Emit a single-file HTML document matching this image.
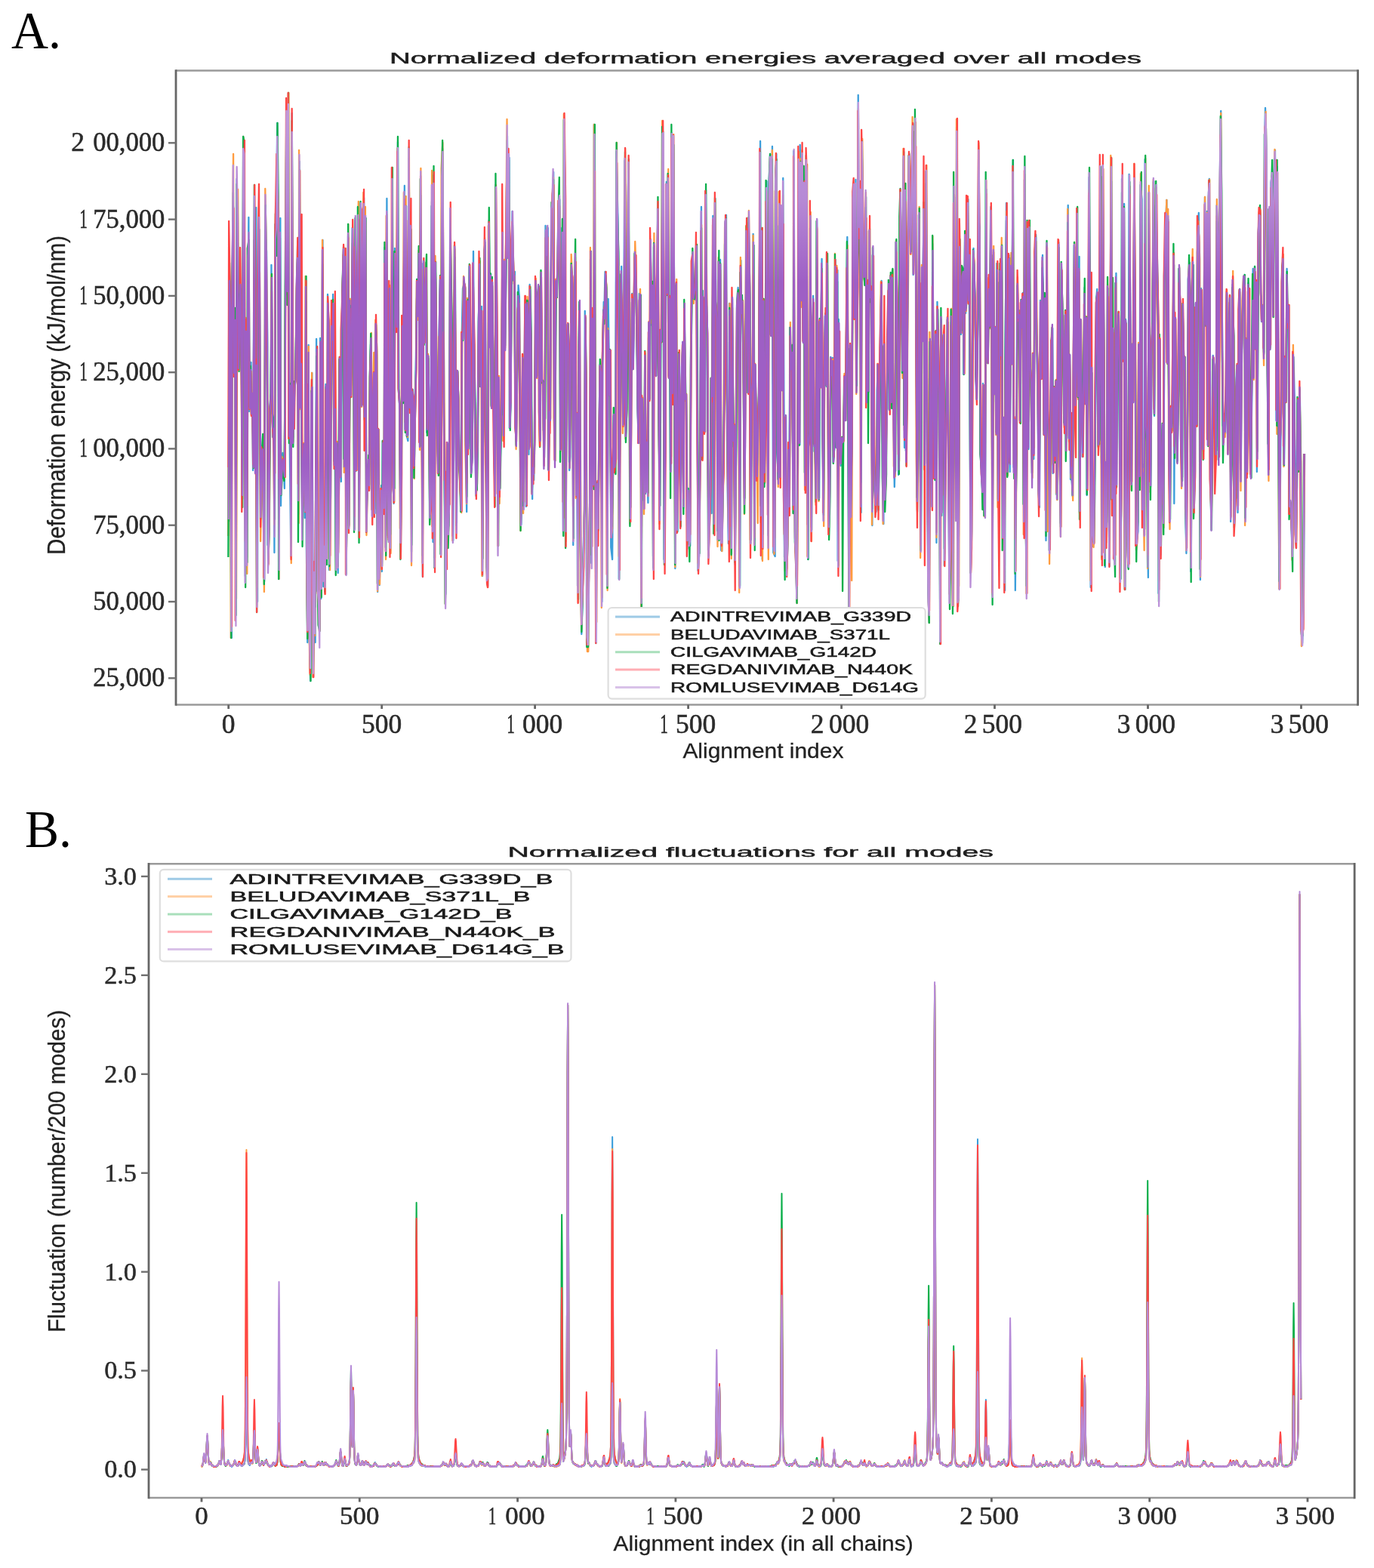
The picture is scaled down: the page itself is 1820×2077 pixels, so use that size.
<!DOCTYPE html>
<html><head><meta charset="utf-8"><title>Normalized deformation energies and fluctuations</title>
<style>html,body{margin:0;padding:0;background:#fff;} body{width:1820px;height:2077px;overflow:hidden;} svg{display:block;filter:blur(0.55px);}</style>
</head><body>
<svg width="1820" height="2077" viewBox="0 0 1820 2077">
<rect width="1820" height="2077" fill="#fff"/>
<text x="15" y="64.3" font-family="'Liberation Serif', 'Times New Roman', serif" font-size="69.5" fill="#000" textLength="66" lengthAdjust="spacingAndGlyphs">A.</text>
<text x="33" y="1122" font-family="'Liberation Serif', 'Times New Roman', serif" font-size="69.5" fill="#000" textLength="62" lengthAdjust="spacingAndGlyphs">B.</text>
<g>
<path d="M1.2 691l2.5-319 1.1 30 5.4 443 .4-479 5.3-92 1.3 219 2.6-71 5.3 248 1.7-433 3.7 54 1.4 197 4.1-55 4.4-51 2.3 116 1 163 4.3-480 1.6 50 4.9 532 3.9-313 2.2 288 3.8-387 1.3-63 1.8 257 5.8-65 .9 66 2.7-24 2.8 101 3.8-305 4.9 301 1.6-344 4.5 522 1.1-377 3.1-104 2.8 84 3.6 269 4.1-74 2.5-4 1.2 74 4.2 105 2.1-466 4.8 29 3.2 122 .4 267 3.3-3 3.4-180 3.8-17 1.7-171 4.1 228 4-9 1.7 162 2.6-435 2.4 14 4.6-148 2.1 127 2.9 477 4.9-478 1.7 381 1.9-54 3.9-16 3.8 15 2.2 32 2.5-244 4.5-221 1.1 208 3.9-226 4.2 391 2.1 82 2.8 100 3.3-587 4 429 .6-26 4.6-42 2-9 4.7-125 2.3-51 3.3 355 3.1-467 2.6 327 1.8-62 4.1 203 2.2-10 3.9-84 2.6 98 4.1-287 1.4 331 3.3 121 3.4-394 2.1 364 4.1 81 2.5-369 2.8-39 4.1 402 2.7-140 3.8 95 1.7-229 1.9-173 3.4 334 3.9 3 3.5 50 1.5-388 3.1 345 5.2-475 2.2 459 1.5-46 4.6 40 1.6-262 3.3 226 3-345 2.5 34 2.6 331 4.8-102 2.5-218 2.9 16 2.1-61 5.6 230 1.1-77 3.4 211 4.1-165 2 170 4.1-136 1-150 5.2 165 2.9-200 1.6-58 3.8-52 1 291 3.1-271 4.1 413 3.1-129 3.2-320 2.4 385 4.7-301 2.7 127 .8-59 3.1-162 4 121 3.2 278 2.6-409 2.2 332 5.3-224 3.1-105 2.3 411 3.1-237 2-200 2.7 269 2.8-210 4.6-66 2.5 292 1.3-271 3.9 415 3.4-60 2.8-19 2.1 24 3.2-144 2.9-43 5.5 229 2.5-152 3.3-33 2.2 180 3.4-240 2.8 31 2.9 313 1.4-216 4.8 207 3.2-71 2.9-61 1.6 114 2.5-173 4.9 87 1.3-343 3.1 397 4.4-462 3.2 381 3.2 66 .8-311 4.5 331 3.6-186 .9-93 4.1 189 2.3 27 3.2-338 2.9 76 4.6 34 2.6-251 1.8 327 3.3 20 4.6 196 1.8-102 2.1-187 2.9 89 5.3-285 2.6 323 2.3-293 2.8 302 3.5 6 2.9-374 3.1 333 2.1-242 3.4 430 4.4-215 1.8 16 3.5 77 .9-65 3.3-55 4.4-118 1.4 49 3.7-84 3 249 4-326 3.1 256 3.1 249 1.4-415 3.5 103 3.5-56 2-48 2.7 225 5.7-98 1 45 3.4 168 2.5-28 3-387 4.9 445 2.6-486 1.2 507 4.5-378 1.8 108 3.1 104 2.9 51 3.9-187 4.1-70 1.8 368 3.4-507 1.9-31 5 313 1.3 127 4 150 1.9-77 4.5-122 3.1 109 1.3-25 4.5-383 2.2 94 3.8 74 3 259 2-133 4.2-242 2.9 176 2.5 176 1.1-202 5.3 39 .8 87 5.6 20 .3 30 3.8-228 2.8-57 4.6-7 3.1 5 1.5 205 3.7 93 3.8-280 2.1 193 2.9-238 1.7 138 4 135 3.6-21 3.6-272 1.6 130 2.4 77 4.6 117 1.6-22 3.3-52 3.4-157 3.8-66 3 152 3.1-106 2.9 357 1.5-169 4.3-263 3-10 2 247 4.8 206 1.7 2 3.9-484 3.7 167 2.5-96 .8 175 3.5-160 4.9 130 1.6 108 2.9 33 1.9-404 4.7 220 3.5 258 .8-222 3.9 145 4.6-69 1.1-49 3.5-216 2.4 262 4.2-227 1.4 117 3-127 4.9-157 2.8 160 3.8-131 .5 358 4-30 4.3-219 .8-38 5.1 92 3.4-12 2.2 204 1.8 20 2.3-94 5-112 3.3 15 2.9 118 3.4 184 2.7-46 3-173 .8 191 2.8-162 3.1-107 3.3 273 3.2-265 4 3 1.7 193 3-225 3.6 76 5 208 .1-34 4.8 9 2.6-47 4.3-211 2.7 121 .7-105 5.4-10 3.3 162 2.3 36 1.9-219 3.3 141 4 0 3.7 102 1.2-54 2.5-253 4.6 34 3.4-31 2.8 317 2.4-74 1.6-4 4.4-261 3.8-17 3.2-35 2.8 289 3.2 5 1.4-152 3.9 24 1.6-44 3-80 4.1-6 3.2 326 1.1-118 3.2-170 4.1 402 3.8-542 1 100 4 426 2-208 2.8-50 3.6 27 3.1 166 2.7-18 4.3-244 1.5 16 3.9 345 2-259 5.7-40 2.3 231 1.9-106 2.3 228 3.7-310 2.6-62 3.4 292 3.3 144 4.1-51 .6-47 5-69 1.3-261 3.9 105 1.9 335 4.5-31 2-42 5.2-139 .4-297 3.2 403 3.1-323 3.8 218 1.8-476 4.8 478 1.4 209 2.7-213 4.4 62 3.1-131 2.9-87 3.9 11 2.8 303 1.4-313 4.2-84 1.3 19 3.3-59 5.4 27 2.2 372 2.4-363 4.6 128 .7-59 3.7 260 4.5 16 2.1-114 2.1-76 3.7 68 2.6-12 2.3-406 5.2 85 1.8 58 1.5 423 4.2-242 4.2-172 1.2 77 3.4 123 1.9-29 3.8-311 3.7 369 3.8-44 1.3-216 4.1-106 1.8 218 5.1 238 1.1-96 3.3-187 4.1 100 2.2-60 3-96 3.7 33 3.2 42 2 133 4.6 46 .8-198 4.6 10 1.4 409 2.7-280 3.9 54 3.4 81 3.4-186 1 177 3.4-67 5 79 2.4-236 3.4 99 1.5-210 4.8 112 1-44 3.2 350 2.2-410 3.7 119 4.4 52 3.7-129 .7-93 3.8 265 2.5 147 2.5-250 4.8 14 1.9-281 2.6 28 2.9 542 3.7-136 4.2-364 2.4 140 3.6-140 .9 257 3.3-101 2.7 226 4-447 3.9 347 1.7-342 4.2 288 1.8 284 2.9-375 4.7 326 3.4-111 2.3-123 2.6 63 1.7 165 5.1-213 1.9-32 2.6 220 2.2-257 3.9 114 2.5-6 3.7 203 2.9-76 4.5 64 2.1 8 1.2-234 4.3-125 2.5-27 3.4 58 2.9 2 2.7-17 2.5-54 4.2 245 1.9 185 3.5-20 2.7-142 4.5-320 3.5 332 1.2-221 4.2 184 3.8 3 2.5-320 2 143 2.1 47 4.7 294 1.4-31 4.1-60 4 35 1.3-158 3.1-236 3 401 4.6-424 2.2 136 3.8 25 3.3 283 .8-361 3.3 348 2.9-350 3 385 2.4 1 4.8-108 3.4-104 1.8-221 4.2-12 1.4 216 2.1 127 3.6 92 2.9-318 3.6 128 3.7 204 2.5-338 4.2 187 .7-20 4.2 185 4.1-163 1.5-180 4-24 2.7 17 3.3 380 3.3-433 1.7 66 2.6-11 5.3 69 2.8 191 1.1-67 3.7-286 3.4 80 2.7 131 1.9-223 5 108 3.2 312 2.9-195 3.1-14 .6-196 5 406 1.4-233 3.7 68 2.5 80 4.2-58 1.3-52 5.2-334 2.5 481 2.9-356 1.1 429 4.1-337 3.7 236 2.4-86 3.9-314 1.3 175 3.3 294 2.8-464 3.8-41 2.9 241 4.4-251 .8 273 2.6 265 5.7 5 1.2-493 3.1-40 1.8 395 5.2 34 2-346 2.7 334 4.9-339 1.3 235 3.9-281 3.8 402 .6 100 5-187 2.1 205 4.2-33 2.2-135 2.1 79 2.8-227 3.4 51 2.6-27 4.7 200 1.1-464 4.8 508 1.4 28 4.4 62 3.5-185 3.1-396 2.8 372 .7-397 5.6 206 .3-174 4.7 225 1.6-209 5.4 396 3-410 .8 10 5.3 505 .5-150 4.7-15 .9-274 5.3 400 2.4-241 2.4-69 3.5 206 1.8-16 4.9 78 2.1-369 3.5 311 3.9 58 2.9-231 1 83 4.6-169 2.7 220 3.2 99 3.3-174 1.2-69 4.5 93 3-171 2 201 2 149 3.1-36 3.9-182 3.6 24 2.6-23 2.3 139 4.9-25 2-244 3.6 249 3.5-235 .6 385 2.8-320 4.4 151 2.5 43 4.3-36 3.1 4 .6-3 5.1-78 3.6 53 .6-86 4.1-157 2.9 203 2.4 307 4-368 3.5 249 2-123 4.4-316 1-15 4.8 171 2.5-184 2.2 280 3.3-138 2.6-254 2.4 175 3.6-41 3.6 419 2.5-490 2.4 102 3.3 75 4.1 8 3.8-113 2.2 265 2.8-145 4.1 138 .2-213 3.3 86 4.6-12 3 316 1-358 3.9 249 2.1 63 5.5 28 3-161 3.3-34 1.2 193 3.2-122 4.7-97 2.3-85 2.8 189 4 133 .5-236 4.2 196 1.7-18 3.1-84 4-108 3.2-65 1.5 163 3.5-176 3 168 3.7-176 2.3 156 4.8 131 2.3-40 1.4-284 4.7 68 2 79 2.6 161 3.5-218 2.5-154 2.9 91 4.5 142 2.6-279 3.6 382 1.4-347 2.8 351 2.7-74 3.3-171 5.7-148 .7 85 4.4 43 2.5-88 4.1-80 .9 200 3.9-64 3.9-136 1 295 4.7 219 3.8-111 .5-282 2.8 236 4.9 208 3-370 .9 91 5.2-172 3.4 336 .8-118 2.7-269 5.5 426 2.7 132 2.5 40 2.9-368 2.9 143 2.9 68 2.2-345 3.6 206 2.3 104 4.5-188 2.5 274 2.5-319 3.1 84 4 45 2.2 307 3.9-413 1.3 260 4.4-224 3.1-6 1 296 4.5-152 2.1-72 2.6-101 3.8 181 3.4 181 4.1-47 1.7-312 2.2 130 5.2 244 3-540 .9 189 5.1 237 1.5-519 3 630 1.9-3 4.9-468 1.6 60 3.3 56 4.7-69 2.1-15 1.4 137 4.4-178 2.2 97 5-23 3.2-128 1.9 132 1.3-54 5.2 417 3.6-56 2-231 3.6-143 .8 28 4.9 46 2.2 104 1.6 22 4.3-111 2.6-225 2.6 135 4 273 4.1 36 1.4 10 2.3-139 3.8 157 2.9 13 4.5-427 1.6 217 2.4 13 3.7-95 4.2 49 2.8-161 1.5 116 3.8 392 2.1-439 3.2 179 2.6-83 3.6 137 2.4-227 3.5 312 3.7-41 2.1-263 4.8 119 1.8-150 4.2 378 .6-150 5.8 228 .6-278 4.1-235 3.9 360 2.1-26 2.4-265 3 287 2.4-283 3.5 140 4.7-270 1.7 407 4.1-64 1.3 227 4.1-207 1.6-196 4 46 4.4-9 1 141 3.4-154 2.9 31 3.4-46 4.1 304 1-454 3.6 405 2.3 124 4.8-456 2.9 284 1.6-296 3.6 184 2.9 25 4.2 92 2.3-131 2.1 139 4.4-274 2.7-23 1.6 133 2.9 52 5.1 159 2.1 17 2.7-274 4.1 104 3.3-164 1.9 52 2 186 3-177 4.2 317 3-390 1.6 216 5 46 .7 141 3.1-150 3.5-125 4.6-19 1 192 2.9-114 5 92 3-100 3.5 157 3-175 1.5-166 3.1 268 2.8 104 3.5-334 3 51 1.6 51 5.3 99 2.3-148 2.5 186 3.8-126 2.7-200 2.4 308 3.5-110 2.1 165 3-7 4.3 30 3.6-187 .8-146 3.9 208 2.4-45 3.3-212 2.8 250 4.5-186 .8 338 4-252 4 111 1.2 68 5.2-100 2-124 4 154 2.1-115 1.5 236 4.8-188 2.3-233 2.1 168 3.1 375 2.8-292 3.3 217 2.5 21 4-72 4.4-143 2.2-117 2-9 3.1 208 3-6 4.5-361 1.3 242 4.4 256 2.1-502 4.5 251 3.1 280 .8-136 4.3 71 3.7-304 1.2 204 4.3 164 2.9-297 3.1-213 1.5 422 3.5-225 4.1 305 2.3-7 4.3-373 1.6 283 2.3-182 4.8-45 1.3 65 3.3 277 4.4-103 1-420 3.1 239 4.5-206 3.4 511 1.3-358 2.3 218 5.5 94 .4 17 3.1-521 5 215 1.8 191 3.2-181 4.4 77 2.6-293 3.3 183 2.2 285 3.5 6 3.2-10 3.1-244 1.6 163 3-378 4.8 19 2.5 400 2.1-49 3.5 93 1.9-497 2.6 351 3.6 19 4.4 184 1.1-509 3.9 205 3 184 4.1-182 2.3-35 2.4-187 3.3 310 2.1-165 2.5-114 5.4 78 3.4 82 .2 354 3.7-335 3.3 284 3.1-117 3.6-56 3 114 1.4-310 4.8-61 3.7-40 2 217 3.1-191 2.8 335 3.1 45 1.4-132 5.8 22 1.5-68 4.4-142 .4 316 2.9-245 4 131 4 57 2.7-90 3.5-165 1.9 52 4.2 185 3.4 40 1-226 4.7 83 2.1-16 1.9 199 3.4 61 4.5-191 1-172 5.4-22 .9 50 2.6 359 5.2-367 1.5-32 4 321 3.5-55 2.1-222 4 162 2.4-249 3.3-33 1.6 59 3.5 427 2.7-386 2.4 146 4.5 67 1.8-167 3.6-167 2.6 171 4.3-152 2.8 301 1.8-319 2.8-25 4.2 390 2.2 75 3.6-108 2.1-123 4.5 15 2 53 4.2 53 1.6-320 4.7 47 1.1 283 3.5-347 4.3-108 .7 132 4.5 194 1.2 91 5.3 8 2.8 2 2-67 2.1-121 3.4 206 5-138 2.2-63 2.7 300 2.7-85 3-229 4.5 70 1 237 3.7-35 2.1-131 2.9-34 3.2 195 3.6-267 1.9-27 4.9 252 1.8-148 3.8-76 2.8-47 3.7-2 1.5 325 2.9-241 3.4 166 3.8-239 1.8 37 4.4 164 2 56 4.5-125 2.8-151 2.8 144 3.1-147 3.2 109 1.7-84 2 247 4.1-316 4.1-22 3-5 1.4 104 2.3 40 4.9-22 3.3 65 2.6-294 1.8-32 3.5 59 3.6 290 3.5 137 1.1-352 5.3 183 1.3-218 2.9-9 5 186 .8-166 4.9-54 .6 39 3.3 319 3-336 3.9 285 3.3 274 4.1-196 2-41 3.9-176 .7-27 4.8 277 2.5-142 3.4 56 2.9-175 3.2 68 1.7-18 2.7 270 2.8-8 3.4 19 3.7 47 4.5-261 3 55 2.9 174 2.7 24 .8-85 3-107 4.7 87 3.2-104 3.2 95 3 225 2.1 15 4.1-44 3.2-207" transform="matrix(0.40594 0 0 1 302.7 0)" vector-effect="non-scaling-stroke" fill="none" stroke="#3b9edb" stroke-width="2.3" stroke-linejoin="round"/>
<path d="M-1.2 710l2.8-335 4.2 48 1.8 422 3.7-446 4.4-195 1.3 286 2.9-60 5.4 363 3.2-389 2.2-153 2.9 238 2.4-62 1.9-50 3.3 123 4.2 161 2.6-480 2.2 46 2.7 433 4.1-239 3.6 339 3.1-417 2.5-17 2.3 215 4.4-49 .9 57 4.9-28 2.5 99 3.2-328 3.4 326 1.1-131 4.3 291 2.5-377 2.1-69 4 30 2.8 355 4.7-101 1.6-19 4.1 111 1.3 76 3.4-534 4.2 97 2.4 99 3.3 303 3.1-44 3.2-156 3.4-30 .5-155 5.5 197 .6 12 3.6 122 4.4-396 3.4 6 1.2-99 3.9 83 2.1 478 2.5-382 4 241 3.3-21 2 5 4.9 1 1 23 3.5-251 3-206 4.5 204 3.2-258 2.1 451 3.6-64 2.5 236 1.4-552 4.5 392 2.3-19 2.5-51 3.2-12 2.9-122 4.5-28 3.2 339 .9-494 4.1 343 2.1-58 4.5 222 1.6-62 2.6-57 3.5 83 2.7-304 4.4 362 1.8 104 4-373 1.8 374 2.9 61 4.5-365 1.3-35 3.4 403 4.5-142 2.2 87 2.6-225 3.8-150 3.7 316 .8 16 3.2 37 3.5-373 2.4 321 4.3-466 1.6 441 5.5-29 1.8 57 3.1-272 3.9 225 1.6-342 4.2 31 3.2 326 2.5-98 1.9-234 4.4 24 1.6-37 3.1 206 3.1-72 2.9 212 4.5-171 1 166 2.5-128 4.5-144 3.1 152 1.7-194 4.5-49 1.3-50 3.3 288 4.8-265 2.9 377 2.2-101 3.6-340 3.2 400 3.4-301 1.8 129 4.5-66 1.6-122 2 91 3.6 271 3.8-389 2.8 313 2.1-220 4.7-136 1.8 445 4.6-244 2.3-193 1.8 264 3.3-204 2.4-80 2.4 291 3.8-272 3.8 435 3.4-63 2.3-31 3 27 2.2-144 4.8-57 1.1 234 2.9-141 4.4-67 3.7 198 1.4-241 5 42 1.7 317 4.3-214 3.1 205 2.9-60 .9-54 3.3 94 4.5-165 2.8 79 1.4-313 3.9 386 1.6-455 2.9 355 3.1 74 5.1-337 3.4 355 1-190 4.2-321 2.2 424 4.4 19 2-324 2.7 48 2.9 37 2.1-229 3.1 318 5.2 22 .4 163 3.1-70 3.6-196 2.5 98 3.1-277 3.7 304 3.4-299 2.6 311 2.6 8 5.1-371 2.5 330 2.6-236 2.6 447 2.9-231 3.1 10 3.3 106 2-95 4.4-50 2.1-111 4.4 46 1.4-92 3.4 264 3.5-373 1.3 291 4.1 231 2.3-388 3.6 98 3.4-63 3.7-45 3.3 214 2.2-92 1.5 51 4 159 4.7-19 2.1-434 1 471 3.8-444 4.8 486 1.4-400 4.8 131 1.4 102 3.9 53 1.2-179 5.1 23 1.2 253 2.3-499 4.2-34 4.7 317 2.9 130 .9 164 3.3-73 2.4-139 4.1 123 2.5-48 4.2-384 3.3 104 2.2 73 1.6 260 3.1-130 4.4-256 3.4 186 2.5 185 2.1-210 5 41 1 78 3.8 27 4.1 42 2.6-234 .7 6 3.4-85 4.6 19 1 204 4.2 78 2.5-272 3.5 200 4.3-241 2 137 2.9 94 2 32 4.3-253 3.3 94 2.9 82 3.6 115 3.2-14 1.3-59 4.6-154 3.2-82 1.9 166 1.6-100 3.3 351 4.3-166 3.6-140 1-142 3 255 4.5 183 1.7 25 2.6-479 4.5 161 3-95 2.2 174 3.6-160 4.3 129 2 84 4 62 1.4-409 4 220 2 258 3.9-225 1.6 169 3.7-89 1.6-52 4.5-219 1.6 277 4.1-240 2.9 117 1.9-127 4-176 4.1 184 1.2-138 3.7 362 3.2-42 4.6-217 1.1-13 4.9 82 2.3-10 2.7 196 1.9 33 2.9-107 2.7-78 5-8 2.7 110 1.3 191 4-93 3-140 1.8 210 5.4-176 1.8-103 1.9 264 4.2-272 4.1 29 3 171 1.1-208 3.7 67 2 202 5.1-39 3.2 12 1.7-38 3.8-220 3.7 132 1.5-108 3.9-10 1.5 163 2.5 46 4-232 2.4 143 2.6 8 3.8 94 2-44 4.6-253 2.3 30 2.3-37 3.5 318 4.8-59 2.8-6 2.4-254 1.9-34 4.9-31 1.2 318 4.8 57 2.1-240 1.3 26 4.6-47 2.1-72 3.1-21 3.8 342 2.1-120 4.9-168 3.3 376 .7-535 4.5 109 2.4 457 2.9-240 2.5-47 2.8 29 3.8 161 4.2-102 1.1-181 4.8 42 1.4 336 3.1-254 3.9-120 1.8 319 4.1-112 3.8 250 1.9-329 2.9-54 3.4 264 2.5 155 1.7-60 4.7-39 2.6-67 3.4-250 2.8 96 3.5 349 3.3 0 2-100 4.2-117 .4-318 4.8 403 1.5-303 3.2 215 2.7-478 5.1 474 3.3 185 .7-178 3.2 51 4-127 3.5-84 2.3 9 2.4 310 2.5-321 5.7-75 .4 13 5.3-52 2.3 7 3.1 405 1.4-347 5.1 89 2-57 3.2 244 4.3-11 2-66 3.4-83 2.4 63 2.8-8 3.9-417 .7 100 4.8 57 1.2 391 4.9-216 1.6-158 3.3 69 2.8 142 2.5-56 5.6-321 1.2 384 4.4-39 .7-222 4.1-97 3.3 216 1.4 255 4.9-123 3.8-177 1.7 95 1.8-64 5-105 3.3 43 3.3 70 2.6 112 2.6 41 3.6-184 1.3-19 3.1 420 4.8-276 1.8 54 2.7 100 3.3-213 1.8 183 3.9-68 4.5 74 2.1-231 1.9 104 3.5-213 3.3 111 1.8-54 3.7 379 3-444 2.8 136 3 53 3.3-132 3.5-86 3.3 267 1.5 147 3.1-256 3.1 15 2.9-293 3.2 24 4.2 544 2.3-131 2.8-343 2.2 137 5.3-167 1.2 276 2.6-107 5.5 212 2.9-426 3.1 344 1.9-345 1.7 291 3.3 282 4.8-381 2.1 322 3.2-104 2.1-117 4.4 62 1.2 157 4.3-205 1.4-28 4.1 211 2.8-266 2 129 4.5-9 4.1 193 1.3-62 2 64 3.4-3 3-224 4.3-123 1.3-27 4.4 62 2.9-30 2.8 6 3.9-46 3 237 1.8 177 3.3-37 3.6-107 3.9-304 2.8 310 3-213 2.9 172 2.2 5 2.8-316 4.1 138 .9 49 4.6 291 3.8-45 1.8-55 1.8-133 5.4 25 .5-228 4.3 393 3.6-427 2.2 140 3.1 19 2.8 301 3-383 3.1 365 3.1-348 3.1 281 2 91 4.9-97 .6-115 3.8-217 3.4-11 3.3 210 1.7 123 4.5 87 3-308 3.6 128 1.9 210 3.4-332 3.6 177 2.1-22 3.6 172 1.9-146 5-179 2.9-24 .3 14 2.9 385 4.1-444 4.1 80 3.7-23 2.8 60 1.9 223 2-92 3.4-290 2.3 96 4.2 126 2.7-242 3.5 103 1.4 333 4.5-195 2.8-14 1.8-194 3.6 409 2.9-239 4.5 66 2.5 94 1.7 51 3.5-175 4-316 2 490 4.7-371 1.2 422 4.3-347 3.9 243 1.7-94 2.8-292 2.2 163 4.4 325 2.4-474 2.8-58 2.3 235 4.9-245 2.9 269 3.4 266 1.6-12 1.9-469 5.2 200 3.4 138 1.1 54 2.2-391 4.9 380 1.3-347 3 230 4-259 2 314 5 184 2.2-204 4.3 201 2.9-47 2.1-113 3.2 81 2.4-247 1.8 62 4.7-23 2.4 190 3-445 3.4 493 1.8 30 4.9 65 3.2-188 3.2-410 .9 386 2.3-377 3.4 197 3.5-208 4.4 254 .7-215 3.8 411 2.4-419 5.4-12 .5 519 4.8-149 1.7-15 4.2-292 3 436 2.6-263 3-53 3 186 1.5 2 3.6 80 4.1-368 3.4 241 2.4 122 2.3-238 3.3 86 4.1-156 2.9 214 3.8 127 2.7-209 2.8-70 1.7 92 4.6-159 .8 184 3.5 170 3.4-54 2.4-176 3.2 23 4.6-22 1.2 129 4.2-17 1.2-252 3.3 249 2.8-233 4.9 399 1.5-313 2.9 134 5.1 42 .8-35 3.6 11 3.5-6 2.4-89 3.5 61 2.1-84 4.5-147 3.1 191 3.1 308 2.7-367 3.1 241 2 71 3.8-511 3.4-6 .8 170 4.1-172 2.7 272 4.6-142 2-236 2 157 4.3-44 2.9 410 4-483 2.5 106 3.8 81 .3-4 4.9-112 3.1 278 3.4-160 2.2 145 1.3-212 3 93 5.2-4 1.6 300 2.5-356 5.3 253 3 55 1.5 22 2.1-19 4.2-168 1.5 191 3.2-118 3.8-92 2.1-90 5.7 187 1.2 134 4-240 2.5 208 3.1-23 2.5-94 4-103 2.9-66 2.7 164 2.3-175 2 170 5.7-178 2.7 163 .6 97 4.8 14 2.7-312 3.5 69 1.7 75 5.1 148 1.5-200 1.8-159 3.9 91 3.6 158 2.6-304 3.4 373 3.2-319 2.4 358 2.8-68 4.7-190 2.6-138 2.9 77 2.3 47 2.8-84 2.7-98 3.2 207 2.4-61 5.1-139 1.7 440 3.1 74 4.4-117 2.4-285 2.1 248 1.6 217 4.3-388 3.1 100 3.7-170 .9 341 4.3-129 4-274 3.4 438 2.7 141 2.5 27 1.2-385 3.5 164 4 67 2.2-358 3.5 211 4.5 107 2-188 2.7 269 3.4-295 1.2 65 4.1 46 3.7 325 3.9-423 1.1 246 4.8-217 2.2-15 2.8 289 1.5-136 4.4-65 2.1-112 4.6 184 2 183 4.2-69 2.5-309 3.2 148 3.7 246 2.5-545 3.2 193 1.9 237 2.3-530 4.2 624 3.5-6 2.1-450 2 54 5.2 61 .3-75 5.3 3 3.3 126 2.7-188 3.2 105 1.5-32 4.1-107 2.8 130 2.7-63 3.9 419 1.9-34 2.3-253 4.1-136 3.2 9 .9 60 5.8 99 1.5 24 3.5-110 2.6-229 3.1 131 3.3 278 3.4 28 1.8 16 1.9-131 4.3 173 2.4-9 4.2-436 2 228 3.8 14 1.7-113 3.1 67 5.1-153 .5 94 4.2 412 3.9-462 2.7 196 2.9-88 1.7 142 4.6-215 1 311 5.3-48 3.6-280 1.1 127 3-156 4.9 377 2.2-139 2.2 222 4-270 2.9-225 3.5 350 1.4-33 1.8-226 3.1 240 5.2-276 1 148 5-241 2.2 373 3-61 3.8 202 2.7-191 3.3-198 1.8 57 3.5-7 1.6 140 5-150 3 28 3.4-45 1.1 318 3.8-477 4.4 413 .6 142 3.6-481 2.8 277 3.2-276 4.9 176 0 28 5.5 123 1.7-164 4.3 124 1.8-257 4.2-16 3.4 120 1 56 4.7 151 1.2 17 4.1-264 1.1 101 4.7-155 2.1 60 3.3 169 2-180 4.6 300 4-367 1.5 376 4.5-119 1.5 162 4.3-169 1.3-124 2.5-20 3.2 181 3.6-101 2.4 87 4.2-98 3.3 159 3.8-176 .4-167 3.9 272 3.8 120 2.6-355 4 62 1.7 39 3.1 109 2.3-148 3.8 180 3.3-126 1.9-195 4.4 308 2-115 4.6 163 1-20 5.2 50 2.7-192 2-150 3.9 214 2.8-50 1-201 5 245 2.5-171 1.7 322 5-256 3.5 111 1.9 63 3.6-96 2.1-115 3.2 148 1.8-116 4.2 224 4-170 1.3-221 2.1 157 3.4 360 2.6-278 3.7 220 3.4 14 3.2-82 2.6-132 4.9-97 1.5-20 2.1 191 5 3 2-351 1.6 229 3.3 275 5.5-517 1.4 245 4.5 264 3.1-117 .3 103 4.6-343 4.1 213 2.9 145 2.4-277 .9-251 3.2 454 4.3-223 4.4 305 1.3-4 4.3-363 1.4 271 3.9-188 3.5-37 3.4 59 .5 285 5.5-113 1.7-410 4.2 232 2-195 2.9 502 2.1-351 3.3 223 4.5 94 2.1 3 4.2-503 .4 196 4.8 206 1.5-193 5.5 75 1.4-314 4.4 205 2.3 307 1.4-4 2.8-18 3.4-253 4.2 184 3-408 2.5 43 3.4 398 1.4-50 4.3 108 4-519 1.4 351 4.6 23 1.1 169 4-507 2.9 214 1.7 192 4.8-187 1.2-39 4-188 2.8 309 4.2-176 2.2-123 2.1 113 2.6 80 4.3 329 3.4-321 3.5 269 3-106 2.4-49 3.4 136 1.7-321 3.9-65 3.9-48 2.2 217 2.5-205 2.2 341 3.4 83 3.3-163 3.4 26 1.5-71 5.4-158 2.5 261 3.5-173 3.4 132 .9 58 2.5-95 4.7-165 2.2 58 3.1 178 1.8 58 3.5-242 2.5 84 4.7-16 3.8 199 1.2 57 3.1-189 3.6-177 3-1 2.6 28 3.6 363 1.9-367 2.7-56 4.3 350 2.4-62 2.6-208 3.6 149 3.9-234 1.9-32 4.7 50 2.2 421 3.2-378 3.1 142 3.5 70 1.1-177 3.7-160 3.7 168 3.4-147 .4 292 4.6-312 3.1-24 2.5 389 3.8 74 1.3-110 3.6-118 3.6 11 3.4 57 2.2 68 3.3-345 2.7 55 3.8 287 3-355 3.7-101 2 111 2.4 207 4.1 118 2-30 3 23 2.7-68 3.3-127 3.6 212 3.4-143 1.3-52 4.5 282 2.7-80 4.4-244 2.1 93 3.7 226 1.7-31 4.2-130 2.7-32 1.8 185 3.6-265 2.4-18 3.2 263 1.7-160 3.1-91 4.2-33 3.5-1 1.4 331 3.4-247 4.7 179 3-250 2.4 37 2.5 153 3.3 58 2-120 4.9-108 2.8 105 2.2-147 1.6 106 3.4-88 2.9 220 4.8-283 1.9-30 4-4 2.3 110 2.1 38 3-21 4.3 80 3.4-299 2.9-37 1.2 41 4.3 303 3.9 145 1.4-356 4 180 2.5-209 4.4-20 2.9 188 1.8-142 2.7-80 2.4 39 4.9 338 1.7-346 2.6 274 2.7 277 3.8-200 4.6-43 .9-167 4.4-33 1.4 281 2.7-145 3.4 58 4.9-160 1.7 54 3.6-17 3 270 3.3-12 2.9 12 1.9 64 3.4-285 1.8 71 5.4 171 3.3 17 1.4-77 3.1-111 3.1 96 3-111 4.4 98 1.8 245 2-28 3.1-29 4.5-198" transform="matrix(0.40594 0 0 1 302.7 0)" vector-effect="non-scaling-stroke" fill="none" stroke="#ff9b3f" stroke-width="2.3" stroke-linejoin="round"/>
<path d="M-.8 738l4-390 2 59 3.5 438 3.6-453 3-137 1.6 239 4.2-86 3.6 407 1.9-571 2.6 45 5 203 1.3-102 2.7 12 4.5 96 2.9 174 2.3-491 2.7 5 4.7 592 1.4-334 4.3 301 .7-416 4.7-11 1.8 221 3.6-54 4.1 63 1.9-26 3.8 98 2.6-375 3.6 381 1.2-145 3 330 4.8-414 3.2-93 1.3 87 3.1 297 2.5-77 5.1-36 2.1 101 2 98 4.7-502 2 66 2 116 4.4 293 4-46 2.1-143 2.1-38 3.7-157 1.9 185 5.1 9 2.7 131 2.5-405 2.8 56 3.5-176 3.6 118 .4 486 4.5-452 3.6 341 3.3-24 2.8-9 3.5 14 2.2-84 1.2-172 3.9-221 2.8 244 3.8-281 2.2 464 4.2-79 2.7 216 2.8-564 3.8 432 .9-39 3.6-48 2.4 1 5.6-149 2.8-22 1.1 383 4.9-493 2 304 2.6-51 4.3 246 3.1-91 .3-44 5.5 85 3.3-308 1.3 355 2.8 125 2.7-336 3.4 330 4.6 62 2.1-384 2.7 141 3.2 233 3.8-128 3.5 40 2.4-174 1.4-158 3.3 292 2.3 64 4.5 8 4-375 1.9 330 3.3-441 2.2 408 2.1-36 3.2 62 3.8-271 3.3 235 3.8-333 2.1 16 1.8 319 2.8-94 5.2-220 2.6 16 1.5-55 3.4 214 2.3-69 3.3 220 3.8-174 3.8 162 1.3-125 2.7-149 3.3 146 5.4-174 .5-59 4.6-62 1.2 281 4.2-268 3.1 420 3.6-131 2.9-332 2.6 398 4.6-290 1.5 121 2.4-68 3.4-136 3.1 104 1.9 279 3.5-416 3.6 329 3.4-203 1.4-141 4.1 445 2.1-251 2.9-201 4.8 269 2.1-182 3.9 46 1.8 156 4.8-267 1.1 416 4.3-73 3.5-29 2.1 45 2-150 3.2-56 4.7 233 3.1-140 3.1-39 1.3 178 4.8-244 2.1 26 2.3 317 2.8-204 2.4 188 5.2-46 2.7-58 1.9 97 2.1-166 4.6 85 1.7-348 4.6 415 2.2-415 2.9 329 1.7 60 4.2-327 3.3 325 3.7-163 3-323 3.6 420 2.9 5 .5-314 3 77 3.5 26 4.1-255 3.5 334 2.9 20 2.1 206 3.3-107 3.7-199 2.7 99 2.8-261 3.3 300 3.1-300 1.9 305 2.6-14 4.5-369 2.7 343 3.9-234 2 418 3-200 2.5 11 2.3 100 4.1-88 2.4-56 2.7-119 3.3 42 3-86 4 265 1.3-354 4.4 277 2.9 222 3.2-391 1.3 112 4.6-75 3.8-45 1.9 240 3.6-105 2.1 48 2.6 175 3.7-34 3.4-394 3.9 435 2.2-482 2.1 532 4.4-405 2.1 114 2.9 112 4.1 57 2.7-181 2.7-84 1.2 369 4.2-493 2.2-55 3.5 324 2.7 128 2.7 162 4.8-89 1.1-123 3.5 138 3.9-59 2.7-372 3.8 82 3.3 73 1.8 196 1.7-60 3.5-261 3.9 191 2.2 180 4.6-204 2.6 40 2.9 91 1.2 12 3.2 43 3.6-237 3.6 10 3.2-78 4 9 2 201 3.2 75 3.6-261 1.6 190 3.4-237 2.5 139 2.8 143 3.5-26 2-170 4.7 20 3.9 83 1.9 112 3.4-2 3-64 2.3-164 3.8-79 1.2 170 4.4-98 3.7 326 1.5-147 4.6-130 1.1-138 3.3 241 2.4 185 2.7 19 5.4-495 2.8 115 1.4-28 3.4 175 2.5-170 4.3 139 3.8 94 1 71 2.2-441 3.4 235 5.6 258 1.1-220 4.6 144 3.2-72 1.6-39 3-222 3.1 236 1.8-200 3.6 108 4.4-119 2.5-153 1.2 151 4.1-125 4.3 358 1-27 5.5-223 .5 32 5.1 20 .9-6 4 192 2.6 32 4.4-104 .9-99 2.7 13 3.4 110 3 193 4.9-80 3-147 .9 194 3.3-166 4.4-107 2.4 269 3.3-268 4.1 20 2.4 168 2.9-206 3.5 67 2.4 205 2.5-27 3.4-7 1.3-28 4.6-214 3.8 122 .5-100 5.4-19 3 167 .9 46 3.4-234 3.4 149 4.4-2 .5 65 5.8-16 2.8-232 2.5 9 2.6-17 1.8 308 4.9-76 1.7 2 4.3-280 3.2 3 2.9-33 2.9 267 2.1 106 4.2-238 2.7 21 2.8-53 1.1-58 3.4-48 3 377 3.2-135 3.9-187 3.3 420 1.4-551 4.4 108 1.2 459 3-246 5.7-51 2.5 30 1 153 5.3-96 1.1-167 3.2 26 4.4 338 1.5-252 4.4-144 3.5 331 2.3-99 3.6 245 1-327 2.4-67 3.3 306 4 131 2.2-31 4.8-83 2.5-49 3.3-253 3.3 102 1 334 4.6 0 1.6-103 4.1-101 3.6-320 1.3 402 3.5-318 4.3 231 3.1-483 2.2 481 1.7 168 3.7-170 3.5 59 3.8-131 2.3-96 1.8 15 5 131 .6-143 3.8-68 2.5 18 4.6-64 2.5 16 2.9 398 2.8-341 2.1 85 3.6-60 4.3 232 2.1 2 3.5-54 2.2-103 2.4 77 4.2 11 2.7-439 2.9 89 3.9 56 2.1 433 3-244 2.5-159 3.3 68 4.2 130 2.8-37 3.4-324 2.3 385 3.7-44 2.6-119 3.5-212 .8 227 2.9 259 2.9-129 3.5-168 2.7 89 3.5-66 2.5-87 3.8 37 2.2 46 4.5 124 1.7 43 4-177 4.3-18 2.5 417 1.3-279 3.5 52 2.3 82 3.8-198 4.4 183 2.5-62 3 67 1.9-206 4.5 81 1.6-192 2.3 84 3.8-47 2.7 379 2.2-430 5.6 119 1.7 57 4-67 2.1-170 1.8 288 5.3 121 2.8-230 2.9 13 .8-285 3 7 4.2 573 3.2-181 3.5-289 1.1 113 3.7-161 4 268 2.7-102 2 264 3.1-495 2.9 355 4.4-328 1.8 277 2.5 279 4.1-373 3.4 330 2.2-122 2.5-116 2.8 66 3.3 164 4.6-210 2.1-26 2.8 220 2.2-284 5.2 130 1.3-2 4 196 2.6-74 4.4 97 .9-34 3.9-227 4.3-119 .7-35 5.4 67 2.5-5 3.2-18 3.1-49 2.8 249 2.1 146 3.7 14 1.9-138 4.1-293 2.6 307 3.5-215 2.9 173 .6 4 5.3-327 1 143 3.5 61 2.9 281 3.9-44 2.2-36 2.7-148 2.8 21 5.4-217 .8 402 4.2-445 1.8 136 4.3 21 2.1 284 4.9-371 .4 384 4.1-367 3.7 362 2.4-4 3.6-90 3.3-99 1.5-193 3.2-37 2.9 211 4.4 142 3.2 59 1.5-292 4.6 122 1.5 205 2.1-332 5.6 189 1.5-30 2.3 183 4.6-156 2.9-186 1.4-15 2.7-4 4.8 392 1.3-415 4.3 53 1.6-23 3.3 71 4.5 218 1.6-91 4.9-289 1.1 83 3 137 3-232 3.7 102 2.2 330 4.2-200 3.9-14 3.1-181 2.9 404 .8-246 3.7 68 3.2 68 2.9-58 2.6-40 4.6-320 1.2 469 5.4-368 1.5 406 2.8-312 2.6 249 2.8-103 2.4-303 4.3 175 3 87 2.6-259 3.8-38 1.3 239 4.8-232 3.1 255 3.4 229 .8-6 3.9-455 3.4-23 2.2 378 2.7 46 3.4-336 3 333 3.9-355 4.1 240 3.1-72 1.5 201 3.5 122 2.1-215 3 186 2.9-17 4.1-120 3.2 74 .9-242 3.2 48 4.3-25 3.2 223 1.7-471 4 509 3.8 20 2.8 61 1.5-184 4.8-391 1.6 366 4.9-376 1.1 182 4.3-179 2.8 236 1.5-233 2.9 406 4.7-420 1 39 5.3 496 1.3-149 4.9-23 1.7-277 2.8 406 2.4-243 3.8-44 1.7 177 4.3 0 2.7 77 2.1-372 4.6 252 3.3 117 2.5-240 1.4 90 5.4-156 2 209 3.7 117 2.7-194 3.5-73 1.1 95 5.4-174 2.5 204 2.6 175 3.1-51 3.7-188 .6 22 3.4-18 3.3 134 3.7-23 1.6-254 3.1 255 4.6-219 3.4 376 .7-320 3 147 5.8 30 2.8-27 1.5 204 2.7-200 2.3-79 4.4 53 2.3-80 2.5-157 3.2 197 3.3 307 2.3-362 3.2 222 3.7-93 4.3-332 .8 17 4.8 146 1.4-169 5.3 258 1.4-131 2.2-37 5-37 1.3-50 3.5 383 3.5-452 2.2 97 4.2 80 2.4 14 3.3-103 2.7 252 3-154 2.4 214 4.9-284 .5 97 4.4-10 3.2 284 1.8-346 4.2 283 3.4 23 2.5 32 3.1-24 3.2-158 2.3 191 4.3-120 2.3-98 2.3-72 3.7 248 3.1 43 1.4-217 4.1 219 4.5-50 .2-80 5.8-104 .9-73 2.5 172 4.8-182 3.5 180 2.9-185 1.7 164 4.3 41 3 63 3.2-307 1.3 76 2.8 75 4.6 160 1-341 3-37 3.4 90 2.5 154 5.5-293 .3 362 5.4-320 2.6 374 2-93 2.8-172 2.8-146 4.4 78 3.7 49 .7-84 5.3-75 .3 44 5.3 75 .9-148 4.7 307 2 207 2.8-90 4.8-293 1.3 245 3.6 208 4.3-362 2.7 84 1.9-183 3.7 350 1-123 3.8-252 4.3 419 2.3 123 3.1 40 1.8-372 2.9 149 5.2 67 1-357 3.9 219 4.3 105 3-198 1.5 267 4.7-295 2.9 72 2.2 49 2.2 322 2.9-445 3.4 267 2.9-192 1.8-39 3.1 283 2.8-130 3.4-67 5-103 2.5 175 3.7 205 2.8-63 1.2-334 3.1 147 2.6 256 3-585 2.7 220 5.6 227 3.2-494 3 622 1.4-24 4.5-462 2.3 71 2.9 50 1.1-86 5.1 5 1.8 139 3.2-190 3.9 102 2.5-20 2.9-107 3.8 112 .9-68 4.5 434 2.5-77 2.8-211 2.9-140 3.5 20 3.4 54 1.2 91 3.5 17 4.4-95 1.8-128 4.1 12 1.3 300 5.6 26 1.9 47 2.9-165 2 173 3.7 0 2-455 3.1 239 4 14 4.4-89 2.2 41 2.2-154 3.7 106 2.4 416 2.5-463 4.2 184 3.3-88 1.5 138 5-198 2.7 278 3.1-30 1.9-273 2.1 120 4.7-144 1.2 404 4.3-174 3.5 216 .8-267 4.5-212 3.1 340 1.6-23 3.3-255 2.9 259 5.4-244 .9 112 4.2-269 3.9 422 2.3-73 .9 199 5.6-190 1.5-97 2.1-54 3.1-8 5.5 150 1.5-164 2 36 4.6-39 1.2 274 4.4-461 2.6 440 2.9 129 2.3-484 2.7 301 5.7-301 2 193 1.8 22 3.6 120 2.6-159 2.7 126 4.2-263 3-17 2.5 127 4.5 54 1.8 155 2.1 16 5.2-262 1.1 96 3.7-145 3.2 35 2.6 180 2.3-182 4.2 322 2.5-391 1.7 223 5.8 48 3 134 1.4-143 3.7-127 2.1-20 3.4 183 1.9-105 5.3 101 1.7-109 2 151 5-170 2.6-157 2.9 252 3 118 1.8-351 4.3 64 1.1 46 3.3 103 4.5-149 1.7 200 4.2-139 1.9-177 4.9 282 1.2-107 4.7 135 2.9 27 1.8 24 3.6-186 2.6-149 3.4 214 1.4-50 5.3-211 1.1 252 2.8-165 3.1 327 2.9-264 5.1 115 3-22 1-14 4.7-134 1.4 166 5.1-115 .9 235 5.1-185 2.8-248 2.7 201 3.7 275 1.9-204 1.2 219 5.7 6 2.6-67 2.4-142 2.6-114 2.2-5 4.2 202 3.5-11 3.6-361 1.3 240 3.9 278 2-505 4 239 2.3 276 3.3-135 3.6 78 2.6-325 1.9 206 3.3 143 3.5-263 3.8-244 1.5 453 3-294 4.6 344 3.1 52 .7-389 3.2 270 2.8-190 4.3-42 1.6 68 5.6 286 .6-111 3.3-401 4.5 222 2.6-203 2.3 507 4.1-353 2.6 216 1.5 71 3.7 39 4.2-513 1.7 208 4.6 201 1.7-194 2.2 77 4.3-261 3.2 146 4 326 1-30 4.6-23 2.1-234 3.5 192 2.4-378 2.8-43 3 451 2.3-45 5.1 67 2.7-495 2.2 352 2.2 27 2.9 166 4.3-473 2.1 185 2.9 199 3.1-196 2.6-39 5-187 1.6 309 3.1-187 2.5-122 3.5 106 4 91 1.8 360 2-354 5.4 280 1.5-103 2.6-59 3.9 147 3-334 2.9-56 2.3-33 4.1 196 2.7-44 3.9 182 2.8 69 2.8-150 3.1 33 2.7-78 2.2-170 4.1 284 1.4-180 4.5 125 1.6 60 5.2-94 .5-162 4.8 62 2 161 4.5 58 1-235 5 86 2.6-15 1.8 180 2.3 57 4.8-166 3-169 1.7-37 3.6 51 2.9 382 3.5-372 4-48 .8 336 3.5-59 4.2-222 3 158 1.4-230 3.9-33 1.8 40 3.2 413 2.9-369 5.2 143 2 81 3.2-186 2.2-88 2.3 95 3.6-136 4.8 297 2.7-349 .7-3 3.8 393 4.1 70 3.5-105 .9-121 3.2 12 4.8 52 3.2 57 2.1-304 2.6 23 1.9 293 5.5-350 1.8-105 3.7 101 1.6 232 2.6 126 2.8-65 4.1 23 3.8-63 1.7-118 4.3 190 1.5-130 2.8-38 4.7 251 3.2-48 1-234 5.3 64 1.5 254 3.6-39 3.5-142 3.6-33 .8 175 4.7-252 1.2-25 4.3 239 1.3-130 4.5-79 3.9-44 3-5 1.1 322 3-232 3.2 169 4.2-254 1.7 35 4.9 167 3.3 62 .1-127 3.8-143 2.7 136 4.4-146 2.4 109 3.6-86 2.5 222 4.4-284 1-20 3.4-22 2.3 117 5.2 36 1.1-20 3.8 62 2-289 5.2-8 .2 18 4 300 2.4 100 2.6-311 3.6 186 5-219 2.4-32 3.7 208 1.8-161 1.8-48 3.5 32 4.5 321 .7-352 3.4 294 3.3 264 2.2-175 4.1-47 2.9-194 2.5-7 4.2 269 2.6-142 3.7 59 3.4-173 1.1 67 3.7-15 2.1 276 4-24 4.2 33 3.1 60 1.6-287 2.1 62 4.1 161 3.5 17 3.2-67 1-117 3.5 99 3.9-110 3.6 97 2.1 228 4.3 2 .8-28 3-213" transform="matrix(0.40594 0 0 1 302.7 0)" vector-effect="non-scaling-stroke" fill="none" stroke="#0aaf4a" stroke-width="2.3" stroke-linejoin="round"/>
<path d="M-.4 619l1.6-326 4.1 103 5.4 434 .7-422 5.4-132 .8 223 5-72-.4 395 5.9-429 .8-16 3.6 113 4.5-79 .9-83 5.2 173 .2 177 4.5-385 4.5-107 2.3 531 1.5-294 4.5 247 3.8-332 2.9 132 1.1 72 4.4-50 1.7 59 3.1-28 2.4 92 5.2-370 3.4 383 .3-152 3.4 335 1.9-431 5.1-136 1.7 160 3.4 294 2.8-106 4.3 7 2.4 67 1.2 99 6.1-433 3.3 86 .6 27 5.1 302 2.7-80 1.4-124 4.5-19 2.2-138 1.4 172 4 25 5 44 .2-308 5.3-115 .5 1 5.7 87 .8 342 3.4-287 2 247 3.2 35 4.3-20 1.8-1 6.3 24 .9-246 2.3-256 5.8 227 .6-234 1.5 458 6.2-67 2 227 2.6-597 4.1 384 3.8 40 1.9-57 2.2-8 3.6-97 3.1-91 1.4 326 5.8-415 1.6 305 4.5-247 1.6 290 1.1 55 2.6-38 5.7 87 3.2-306 2.2 352 2.3 113 1.8-328 3.7 303 3.2 80 5.1-389-.2 218 6.3 176 .8-153 2.9 94 3.9-212 4.5-167 1.5 327 1.8 1 4.2 49 3.6-383 2.6 324 4.1-449 3.5 437 .2-33 3.9 55 2.2-271 2.9 219 3.8-342 3.4 34 4.2 309 .7-88 3.5-250 5 74 .5-58 3.4 207 3.2-235 4.9 364 .6-163 5 145 2.5-102 1.6-157 2.3 159 2.5-197 3.9-40 4.4-71 2.9 283 3.6-278 .6 432 3.2-121 5.1-325 1.7 391 4.1-297 4.2 117 .6-56 3.8-179 4.3 122 2.3 271 1.3-357 5.3 296 .6-232 5.6-100 2.3 421 .3-250 6.5-185 2.4 259 2.6-191 3.1-94 1.2 346 3.7-303 2.7 411 1.7-40 6.4-48 1.6 33 2.5-151 3.4-38 4.4 234 2.6-164 1.6-38 2.2 192 5.3-268 2.5 43 3.5 300 1.5-192 2.4 198 4.9-52 1.2-67 3.4 107 4.7-170 2.3 97 1.4-332 3.7 381 3.2-446 4.1 366 .5 62 3.3-340 2.9 366 4.8-194 1.1-322 4.2 422 2.8 22 5.2-319-.4 33 3.5 60 2.7-239 4 313 4.2 26 3.2 200 3.3-112 0-210 3.1 113 6.1-267 3.2 306 2.4-278 2.1 282 2 0 4.6-388 2.9 361 3.8-284 1.7 438 1-186 6.2 11 0 94 5.8-83 2.3-48 1.6-117 2.9 42 5-64 .2 236 4.5-353 3.8 282 3.4 249 3.2-422 3.1 112 3.6-67 1.9-32 2.1 212 3.5-96 1.8 49 5.4 161 2.9-13 3.6-423 .4 468 5.1-485 3 530 1.6-411 3.2 127 4.2 99 .6 54 5.1-171 3.2-90 1.9 372 3.9-284 3.9-14 1.1 68 2.1 128 4.2-11 4.2 129-.4-168 6.2 84 3.3-2 2.6-400 1.1 137 2 56 3.9 249 2.2-122 4-267 4.3 196 1.5 196 4.2-220 3.1 41 2.2 74 3.1 42 5 27-.8-237 3.2 5 5.4-71 3.6 6 2.6 204 2.4 56 .8-241 3.4 203 6-251 3.3 139 1.8 127 1.2-10 3.1-258 5.8 104 .5 86 5.3 122 .2-36 4.1-43 3.6-153 .9-96 6.5 179 2.9-100 1.8 349 2.3-201 2-91 2.7-168 2.6 266 5.2 206 2.9 5 3.7-484 1.5 161 4.5-84 3.1 166 1.2-166 2.1 138 3.5 99 2.5 64 4.3-423 4.9 217 2.2 257 2.9-221 2 156 2-65 4.9-74 1.5-275 6 348 2.9-242-.7 110 3.3-122 4.4-138 1.3 140 3.4-143 5 305 2.1 32 1.5-214 3.1-26 5.8 76 1.9 5 2.3 192 4 18 2.7-97 1.7-80 3.9 0 2.1 105 4.3 180 1.8-78 3.3-146 3.9 195 4.2-272 1.3 0 4.8 278 3.2-254 1.6 6 4 169 .5-212 3.9 64 3.6 193 4.5 5-.2-17 5-43 1.5-215 3.7 134 4.6-106 3-13 .7 165 3 45 4.6-224 3.3 139 2.1 1 3.8 110 2.7-61 2.4-241 2.5 15 4.7-15 3.2 321 2.6-99 1.1 37 5.4-289 2.6-28 3.8-12 3 277 .1 87 3.5-227 2.3 13 5-53 1.2-76 4.1 7 4.3 322 1.4-123 4.6-163 1.2 356 4.4-515 4 113 1 461 2-246 4.5-50 3.7 29 2.1 147 2.3-87 3.4-159 3.9 9 1.6 304 4-202 4.6-122 2.3 311 3.6-111 1.5 252 2.8-328 1-59 4 297 3.2 118 4.3-44 3.7-33 2.4-83 2.7-248 3.3 102 1.8 333 2.9-27 4.2-76 2.6-113 2.2-305 5 391 .3-316 3 236 5.7-417 .7 410 2.5 215 5.4-215 2.1 86 3.8-152 1.9-86 4.9 11 1.3 296 1.5-312 3-61 5.7-16 3.3-43-.1 32 3 369 4.1-319 4.9 78 3.4-56 2.4 248 2.7-39 .5-46 4.9-67 1.6 66 5.8-18 2.7-392-.2 73 3.4 55 6 411 1.5-232 2.6-148 5 54 2.1 136 1.3-44 5.1-325 .3 367 2.5-13 6.8-220 1.7-124 .8 179 5.7 306 .9-115 3.2-186 4.4 97 .9-60 3.6-87 4.7-2 .8 63 6.2 142-.5 44 3.9-189 3.3-5 4.2 399 1-268 4.1 57 3.7 93 2.2-208 5 185 .8-63 2.7 60 2.9-208 4.2 91 1.2-229 5.8 113 2-20 4.1 372 2.4-441 3.1 119 2.1 53 2.5-123 3.8-108 3 272 1.9 162 2.2-264 2.9 17 6.4-294 .6 40 5.4 560 2.6-168 .9-348 3.6 146 4-158 1.3 268 5.5-108 3.3 222-.1-431 5.2 353 1.8-357 3.6 290 3.3 238 2.5-333 2.2 332 5.2-109 2.4-133 .3 68 3.3 168 5.1-214 2.7-26 2 200 2.4-251 4.6 119 1.4-2 2.9 211 4.4-84 1.9 55 4.7 0 2.9-213 .7-149 3.2-8 3.1 56 4.1-10 3.2-17 1.7-59 3.2 260 4.4 192 4-66 2.9-107 1.5-281 5.2 304 2.1-212 2.9 172 1.2 5 2.8-322 2.5 147 5 41 2.7 306 1.2-17 6.7-86 2.7-143 2.1 31 1.5-241 5.8 418 .9-454 2.4 145 4.1 18 2.7 281 4.4-345 .8 334 3.1-326 4.3 361 .9-43 6.4-53 2.9-109 2.9-233 .7 49 2.7 166 5.7 121 2.8 123 .9-325 2 111 2.6 167 3.4-316 4.1 204 1.9-24 4.5 221 1.7-194 4-180 2.9-15 3.6 14 2.6 370 2.4-425 2.2 60 4.3-9 2.4 50 4.1 207 2.3-69 5.3-302 .8 87 5 146-.5-219 3.3 94 3.6 342 4.5-219 1-15 4.4-142 3.2 349 1.2-230 3.1 61 3.1 94 2.7-74 4.4-40 2.7-326 3.6 539 4.7-434 1.8 425 .8-330 3.9 241 5.9-82-.7-289 4.2 149 1.9 266 5.1-423 2.2-28 2.7 212 3.2-213 4.9 237 .2 257 4.3-12 3.6-482 .8-27 5.8 388 .7 34 5.8-372 2.1 393 1.8-366 2 237 6-220 .5 358 2.3 53 3.4-155 4.9 211 1.5-23 3.5-155 3.9 97 1.6-238 5.7 44 0-20 5.8 206-.2-468 5 506 4.2 49 2.8 14 1.5-179 1.9-403 4.3 392 2.5-353 4.3 165 1.9-209 2.2 263 5.3-212 2.9 413 1.9-457 2.3 27 3.1 472 2.6-103 4.8-13 .2-313 4 451 2.5-268 5.9-48 2.3 188 3.5 2 2.4 89 2.3-377 3.3 243 2.3 44 3.3-166 1.9 90 5.6-152 3.1 186 .1 131 4.9-191 3.6-80 1.9 82 1.5-156 4.8 200 1 174 2.7-56 6-177 1.9 21 2.9-16 4.5 125 0-20 4-241 5.5 243-.4-232 5.3 408 4.2-324 .8 130 3 39 3.5-27 3.8 4 1.8-1 2.5-86 4.4 59 .6-80 2.8-122 6.3 170 2.2 299 2.9-369 1.3 217 4.5-86 1.9-332 3.4-18 1.4 187 3.3-167 3.8 248 5.6-124-.2-233 2.6 169 5.6-76 .4 450 3.2-518 4.8 98 3.3 97 4.3-9 3-69-.6 251 6.7-169-.7 146 6.1-231 1.1 104 2.9-11 4.1 287 4.2-327 2.8 252 1.3 47 1.7 47 5.7-29 2.1-174 2.4 206 1.7-133 2.8-95 5.3-86 3.4 190 2.7 101 3.2-273 2 261 1.9-12 3.7-89 1.8-106 3.4-61 5.6 164 2.7-140 1.3 124 3.3-169 3.6 146 3.9 122 .8-7 5.4-291 2.9 58 2.3 76 1.4 134 5.4-191 .6-160 3.6 93 3.1 134 5.4-281 2 386 3-316 3.3 351 3-98 0-172 5.2-147 2.9 91 2.6 44 1.3-96 6-77 2.2 200 2-54 5.5-115 .6 256 3.9 249 1.1-104 4.5-305 4.6 221 .7 211 2.7-347 5.5 76 1.9-244 3.4 542 1-252 3.6-278 5.2 443-.2 14 5.5 133 3-357 2.9 160 3.8 64 0-297 6.2 153-.6 102 4.7-195 3.7 266 2-299 5.3 75 2.8 50 3.2 322 .1-417 5.4 220 .2-194 5.9-31 1.5 319 4.3-153 2.8-63 3.1-125 2.3 198 3.5 168 3.1-49 1.4-295 2.7 126 2.7 245 2.9-533 3.9 188 5.1 219 3.1-519 .8 653 4-25 2.2-495 5.2 102 1.2 44 2.2-53 4.9-16 2.2 128 3.2-182 3.6 86 .3-140 4.5 1 1.7 142 5.6-85 2.8 442 2.7-33 3.4-193 2.4-184 1.1 7 4.4 50 2.9 98 2.7 32 1.4-118 4-231 3.2 116 5.3 295 .6 30 4.3 17 1.4-135 2.4 124 3.4 20 4.8-397 1 209 5.1 15 1.9-117 4.5 68 3.3-163 2 122 2.1 394 3.9-451 1.2 187 4-88 3.4 140 4.2-227 2.2 302 3.2 131 4-436 1.5 130 2.8-144 3.1 384 3.1-159 2.3 231 3.9-282 4.5-234 1.2 351 3.6-10 .7-274 3.8 270 3.2-253 5.2 129 1.5-262 4.3 402 .7-70 3 162 4.5-125 2.5-231 3.6 67 4.1-10 .1 145 2.5-159 3.9 33 2.2-45 5.8 324 .7-487 2.4 430 6.2 130 .7-492 3.3 289 2.4-291 3.7 192 3.6 19 2.8 123 2.5-158 3.1 135 2.1-268 3-29 4.4 143 4.7 46 1.3 164 1.1 25 5.4-282 3.3 100 1.7-127 1.5 30 4.6 171 3.7-161 1.1 261 4.5-349 4.7 215 3.2 49 2.7 137 1.6-148 1.7-129 2.2 3 6.4 172 1.3-113 4.1 97 1.7-105 2.3 148 5-336 1.3 1 2.8 272 5.2 108 3-340-.1 66 5.2 32 3.4 118 3.6-162 2.7 165 2.3-105 1.4-166 5.9 290 1.2-126 5.1 155 .4-78 3.9 103 2.4-180 3.7-143 .8 214 3.7 65 3-330 4.5 244 2.7-160 3.9 339 .5-275 3.4 113 5.5 68 3.4-102-.2-100 4.7 132 1.2-108 5.7 222 1.4-178 2.4-215 3 122 5.8 405 .2-422 3 341 5.7 18 .1-87 2.6-124 3.2-108 5.7-13 1.9 215 1.3-12 3.6-386 5.7 259 1.9 285 2.4-544 3.9 268 .4 259 6.5-120 .5 114 4.8-333 1.2 193 3.8 165 1.5-294 5.1-248 2.1 474 3.8-242 1.3 299 5.8-5 .5-353 1.9 272 4.1-205 4.8-36 2.7 68 .9 303 5-136 3.2-431 .4 262 5-198 2.2 500 4.2-352 3.1 226 3.4 92 3.4 0 2.8-489 1.1 193 5.1 187 1.6-178 1 73 5.5-316 3.3 200 .9 306 4.8-3 1.7-27 3.4-233 3.6 170 3.9-376-.1-1 4 446 3.9-65 3.9 75 .8-386 5.8 237 1.2 10 3.7 165 3.6-480 2.2 206 1 177 3.7-178 5.5-33 2.1-178 1.4 293 4.1-166 4.8-118 1.9 92 4.1 79 1.5 352 2.7-333 3.2 292 1.5-121 6.2-57 0 106 2.4-303 3.7-83 5.2 10 .2 188 5.5-186 2.1 332 1.4 66 4.4-154 3.1 35 2.1-80 3.4-157 2.6 255 2.3-177 3.9 137 4.6 48 .8-76 3.3-148 5.6 24 .7 181 2.8 54 4.4-238 3.3 93 1.4-17 3.2 178 4.8 76 2.7-181 3.9-182 .4-10 3.2 50 2.1 328 4.2-343 2.2-47 4.4 338 4-48 .1-224 5.7 158 1-279 5.7 27 .5 38 5 390 3.2-357 1 139 5.4 85 2.3-188 1.1-149 3 152 2.3-126 2.6 285 5.3-320 .8-23 3 396 5.5 47 2.4-95 4.6-113 .3 19 3.4 161 4-45 2.7-323 1 39 6.5 280 3.1-347 .4-79 2.7 68 3.2 211 5.3 128 1.7-35 1.2 18 4-59 2.2-127 4.2 218 2.3-148 4.3-62 3.5 294 1.1-90 5.3-229 2.8 87 1 257 5.4-47 2.1-145 2.4-36 3.5 188 .9-260 3-26 5.4 237 1.5-129 3.4-75 4-43 4.4 7 2.9 291 2.4-217 1 178 3-247 5.4-4-.1 192 2.9 54 4.6-119 4.3-102 .6 93 6-140 1.9 103 1.3-92 3 247 2.9-297 3.3-46 4.5 4 1.4 109 2.4 35 5.2-16 .9 54 4.8-292 3-5 .7 33 5.9 300 3.5 125 .8-345 5.1 180 .8-208 3.6 11 3.7 157 2.4-131 4.7-50 2.1-24 .5 331 3.4-286 5.2 254 3.8 269 .2-182 2.3-42 3.1-182 4.3-46 1.6 263 4.2-119 4.1 61 2.3-153 5.2 55 2.8-31-.6 277 6.6-1 2.1 20 3.8 26-.3-260 4.3 61 3.7 181 3.4 18 2.3-76 4-122 3.3 93 1.4-116 2 108 2.8 221 3.1 8 4.8-9 2.4-232" transform="matrix(0.40594 0 0 1 302.7 0)" vector-effect="non-scaling-stroke" fill="none" stroke="#ff4545" stroke-width="2.3" stroke-linejoin="round"/>
<defs><linearGradient id="pg" gradientUnits="userSpaceOnUse" x1="0" y1="100" x2="0" y2="930"><stop offset="0" stop-color="#c5a0de"/><stop offset="0.2" stop-color="#b689d5"/><stop offset="0.33" stop-color="#9e5fc5"/><stop offset="0.62" stop-color="#9e5fc5"/><stop offset="0.75" stop-color="#b689d5"/><stop offset="1" stop-color="#c5a0de"/></linearGradient></defs>
<path d="M0 688l3-316 3 37 3 427 3-446 3-171 3 275 3-70 3 405 3-608 3 71 3 196 3-66 3-45 3 122 3 157 3-459 3 7 3 568 3-333 3 310 3-405 3-36 3 233 3-51 3 58 3-27 3 98 3-359 3 367 3-143 3 320 3-397 3-119 3 96 3 301 3-86 3-4 3 81 3 91 3-509 3 69 3 121 3 311 3-58 3-154 3-21 3-158 3 198 3 4 3 141 3-394 3-15 3-121 3 121 3 453 3-447 3 347 3-28 3-18 3 10 3 12 3-244 3-240 3 239 3-248 3 440 3-67 3 225 3-561 3 412 3-34 3-37 3-14 3-130 3-30 3 321 3-458 3 335 3-58 3 233 3-87 3-40 3 89 3-297 3 342 3 113 3-368 3 366 3 52 3-363 3-9 3 379 3-134 3 81 3-221 3-155 3 318 3 15 3 62 3-405 3 327 3-449 3 439 3-46 3 54 3-267 3 229 3-338 3 36 3 309 3-94 3-221 3 18 3-48 3 214 3-74 3 213 3-168 3 165 3-131 3-146 3 157 3-193 3-53 3-56 3 288 3-278 3 422 3-123 3-330 3 391 3-302 3 126 3-62 3-159 3 117 3 282 3-416 3 336 3-217 3-120 3 418 3-237 3-197 3 269 3-201 3-67 3 282 3-266 3 418 3-54 3-41 3 34 3-145 3-50 3 236 3-150 3-40 3 186 3-251 3 34 3 318 3-212 3 198 3-57 3-60 3 100 3-163 3 86 3-341 3 398 3-450 3 368 3 70 3-336 3 344 3-182 3-307 3 410 3 16 3-327 3 62 3 35 3-237 3 319 3 21 3 183 3-84 3-203 3 99 3-277 3 315 3-296 3 304 3-1 3-379 3 343 3-241 3 445 3-225 3 12 3 86 3-73 3-55 3-116 3 46 3-83 3 256 3-365 3 287 3 232 3-400 3 108 3-67 3-32 3 214 3-98 3 49 3 166 3-31 3-410 3 459 3-461 3 508 3-403 3 122 3 102 3 54 3-178 3-77 3 364 3-501 3-33 3 307 3 131 3 167 3-86 3-134 3 122 3-34 3-398 3 112 3 66 3 265 3-133 3-259 3 190 3 189 3-215 3 40 3 85 3 16 3 44 3-234 3 7 3-82 3 15 3 202 3 82 3-267 3 195 3-241 3 138 3 136 3-15 3-264 3 108 3 82 3 116 3-14 3-58 3-157 3-75 3 162 3-100 3 344 3-158 3-137 3-143 3 249 3 202 3-4 3-469 3 164 3-95 3 176 3-167 3 134 3 93 3 56 3-409 3 217 3 271 3-236 3 149 3-71 3-48 3-222 3 269 3-231 3 118 3-130 3-168 3 176 3-138 3 362 3-32 3-217 3-37 3 91 3-6 3 198 3 28 3-103 3-96 3 12 3 106 3 186 3-81 3-141 3 201 3-171 3-101 3 265 3-267 3 17 3 177 3-211 3 65 3 206 3-35 3 8 3-43 3-213 3 128 3-103 3-20 3 168 3 39 3-223 3 142 3 4 3 114 3-69 3-247 3 33 3-39 3 324 3-77 3 11 3-281 3-6 3-46 3 292 3 103 3-247 3 21 3-49 3-76 3-9 3 337 3-121 3-167 3 395 3-545 3 97 3 449 3-225 3-50 3 29 3 162 3-102 3-167 3 27 3 339 3-256 3-125 3 320 3-108 3 237 3-318 3-69 3 297 3 132 3-53 3-36 3-69 3-251 3 100 3 326 3 10 3-80 3-126 3-315 3 420 3-331 3 220 3-464 3 466 3 206 3-209 3 59 3-128 3-88 3 9 3 310 3-323 3-70 3 12 3-59 3 24 3 389 3-338 3 85 3-59 3 248 3-10 3-70 3-83 3 70 3-12 3-408 3 82 3 68 3 419 3-245 3-164 3 73 3 131 3-40 3-313 3 368 3-37 3-222 3-104 3 223 3 249 3-114 3-177 3 93 3-61 3-94 3 31 3 50 3 129 3 43 3-189 3-8 3 409 3-271 3 53 3 93 3-203 3 181 3-66 3 71 3-230 3 102 3-211 3 104 3-44 3 377 3-432 3 123 3 52 3-125 3-96 3 267 3 145 3-251 3 14 3-275 3-1 3 569 3-139 3-362 3 144 3-152 3 265 3-105 3 229 3-448 3 344 3-341 3 289 3 277 3-370 3 326 3-115 3-118 3 64 3 156 3-203 3-33 3 218 3-269 3 127 3-6 3 193 3-66 3 73 3-7 3-225 3-123 3-34 3 61 3-10 3-3 3-56 3 244 3 183 3-18 3-136 3-319 3 324 3-211 3 177 3 1 3-313 3 137 3 49 3 295 3-40 3-60 3-138 3 24 3-236 3 405 3-425 3 132 3 23 3 291 3-368 3 367 3-364 3 369 3 0 3-87 3-114 3-224 3-4 3 209 3 126 3 90 3-304 3 119 3 196 3-332 3 190 3-20 3 178 3-154 3-182 3-18 3 12 3 379 3-425 3 61 3-16 3 63 3 206 3-78 3-284 3 76 3 138 3-240 3 112 3 328 3-200 3-14 3-185 3 401 3-239 3 70 3 78 3-58 3-52 3-319 3 481 3-377 3 419 3-326 3 227 3-76 3-301 3 166 3 311 3-474 3-44 3 237 3-238 3 261 3 259 3 3 3-493 3-23 3 380 3 47 3-371 3 362 3-360 3 245 3-277 3 406 3 97 3-193 3 212 3-49 3-117 3 75 3-237 3 55 3-22 3 202 3-471 3 512 3 26 3 57 3-185 3-397 3 376 3-372 3 183 3-195 3 251 3-212 3 401 3-431 3 15 3 512 3-149 3-16 3-288 3 418 3-247 3-61 3 195 3-1 3 70 3-370 3 255 3 116 3-235 3 87 3-164 3 209 3 132 3-202 3-70 3 92 3-161 3 191 3 158 3-47 3-177 3 23 3-19 3 134 3-29 3-230 3 240 3-230 3 388 3-323 3 145 3 41 3-34 3 6 3-4 3-83 3 58 3-80 3-146 3 188 3 321 3-383 3 228 3-92 3-331 3-18 3 177 3-178 3 277 3-140 3-244 3 165 3-50 3 420 3-483 3 102 3 77 3-1 3-114 3 281 3-155 3 140 3-213 3 89 3-8 3 292 3-352 3 273 3 43 3 27 3-18 3-168 3 186 3-113 3-95 3-84 3 183 3 130 3-234 3 206 3-30 3-79 3-108 3-69 3 167 3-177 3 167 3-165 3 149 3 116 3-8 3-304 3 68 3 79 3 154 3-211 3-156 3 90 3 146 3-284 3 373 3-328 3 360 3-93 3-168 3-144 3 82 3 46 3-89 3-79 3 196 3-63 3-143 3 295 3 212 3-105 3-277 3 247 3 202 3-377 3 98 3-175 3 339 3-121 3-269 3 428 3 143 3 18 3-366 3 156 3 66 3-339 3 195 3 106 3-190 3 265 3-298 3 71 3 50 3 319 3-430 3 259 3-218 3-18 3 299 3-145 3-67 3-109 3 184 3 194 3-72 3-308 3 138 3 245 3-555 3 209 3 234 3-516 3 624 3-6 3-465 3 54 3 60 3-75 3-6 3 135 3-184 3 100 3-23 3-119 3 129 3-60 3 440 3-66 3-240 3-140 3 18 3 55 3 100 3 24 3-111 3-219 3 113 3 291 3 30 3 19 3-142 3 158 3 18 3-447 3 228 3 14 3-98 3 49 3-153 3 106 3 406 3-460 3 191 3-88 3 141 3-217 3 305 3-41 3-263 3 112 3-145 3 386 3-159 3 219 3-269 3-216 3 338 3-20 3-262 3 272 3-263 3 130 3-254 3 398 3-70 3 201 3-188 3-193 3 45 3-4 3 141 3-160 3 36 3-41 3 298 3-470 3 424 3 148 3-490 3 290 3-292 3 183 3 25 3 137 3-177 3 132 3-258 3-28 3 127 3 53 3 156 3 18 3-269 3 101 3-160 3 59 3 175 3-180 3 308 3-381 3 220 3 46 3 145 3-155 3-122 3-26 3 196 3-112 3 90 3-99 3 156 3-175 3-162 3 264 3 123 3-362 3 65 3 43 3 106 3-146 3 180 3-125 3-187 3 296 3-111 3 157 3-7 3 36 3-185 3-147 3 213 3-50 3-204 3 242 3-169 3 321 3-254 3 113 3 64 3-97 3-114 3 146 3-114 3 226 3-174 3-244 3 177 3 368 3-287 3 221 3 12 3-78 3-131 3-110 3-14 3 202 3-7 3-362 3 245 3 270 3-516 3 251 3 270 3-128 3 86 3-319 3 207 3 159 3-290 3-234 3 439 3-225 3 299 3 14 3-381 3 275 3-186 3-40 3 64 3 291 3-115 3-424 3 243 3-199 3 501 3-352 3 221 3 90 3 15 3-519 3 217 3 193 3-186 3 77 3-297 3 185 3 299 3 0 3-20 3-244 3 175 3-390 3 27 3 407 3-48 3 83 3-493 3 344 3 22 3 168 3-496 3 206 3 182 3-178 3-38 3-191 3 312 3-179 3-124 3 112 3 76 3 370 3-353 3 273 3-108 3-53 3 131 3-317 3-73 3-20 3 198 3-195 3 331 3 74 3-150 3 25 3-73 3-154 3 261 3-179 3 131 3 62 3-93 3-170 3 56 3 180 3 57 3-241 3 86 3-16 3 193 3 63 3-186 3-175 3-17 3 43 3 358 3-360 3-45 3 326 3-46 3-226 3 161 3-247 3-16 3 41 3 423 3-379 3 144 3 67 3-168 3-158 3 161 3-147 3 307 3-335 3-12 3 387 3 73 3-116 3-115 3 11 3 52 3 67 3-329 3 42 3 301 3-362 3-96 3 107 3 206 3 118 3-29 3 12 3-62 3-122 3 214 3-149 3-58 3 293 3-83 3-234 3 78 3 244 3-42 3-134 3-33 3 191 3-274 3-18 3 255 3-148 3-81 3-43 3 0 3 325 3-241 3 175 3-248 3 32 3 164 3 61 3-126 3-110 3 103 3-145 3 106 3-88 3 234 3-298 3-25 3 1 3 102 3 38 3-21 3 70 3-297 3-27 3 49 3 290 3 139 3-355 3 189 3-222 3-12 3 190 3-145 3-73 3 36 3 321 3-330 3 278 3 275 3-196 3-38 3-181 3-23 3 272 3-140 3 57 3-168 3 63 3-22 3 266 3-8 3 22 3 52 3-267 3 60 3 169 3 19 3-77 3-111 3 92 3-109 3 99 3 230 3 13 3-47 3-207" transform="matrix(0.40594 0 0 1 302.7 0)" vector-effect="non-scaling-stroke" fill="none" stroke="url(#pg)" stroke-width="2.3" stroke-linejoin="round"/>
</g>
<line x1="233.0" y1="93.5" x2="1798.6" y2="93.5" stroke="#9a9a9a" stroke-width="2.4"/>
<line x1="233.0" y1="933.5" x2="1798.6" y2="933.5" stroke="#9a9a9a" stroke-width="2.4"/>
<line x1="233.0" y1="92.3" x2="233.0" y2="934.7" stroke="#666" stroke-width="2.8"/>
<line x1="1798.6" y1="92.3" x2="1798.6" y2="934.7" stroke="#666" stroke-width="2.8"/>
<line x1="223.0" y1="898.3" x2="233.0" y2="898.3" stroke="#707070" stroke-width="2.4"/>
<text transform="translate(218.3 909.2) scale(0.975 1)" text-anchor="end" font-family="'Liberation Serif', 'Times New Roman', serif" font-size="35.5" fill="#2b2b2b" stroke="#2b2b2b" stroke-width="0.55">25,000</text>
<line x1="223.0" y1="797.0" x2="233.0" y2="797.0" stroke="#707070" stroke-width="2.4"/>
<text transform="translate(218.3 807.9) scale(0.975 1)" text-anchor="end" font-family="'Liberation Serif', 'Times New Roman', serif" font-size="35.5" fill="#2b2b2b" stroke="#2b2b2b" stroke-width="0.55">50,000</text>
<line x1="223.0" y1="695.7" x2="233.0" y2="695.7" stroke="#707070" stroke-width="2.4"/>
<text transform="translate(218.3 706.6) scale(0.975 1)" text-anchor="end" font-family="'Liberation Serif', 'Times New Roman', serif" font-size="35.5" fill="#2b2b2b" stroke="#2b2b2b" stroke-width="0.55">75,000</text>
<line x1="223.0" y1="594.4" x2="233.0" y2="594.4" stroke="#707070" stroke-width="2.4"/>
<text transform="translate(110.5 605.3) scale(0.600 1)" text-anchor="middle" font-family="'Liberation Serif', 'Times New Roman', serif" font-size="35.5" fill="#2b2b2b" stroke="#2b2b2b" stroke-width="0.55">1</text>
<text transform="translate(218.3 605.3) scale(0.975 1)" text-anchor="end" font-family="'Liberation Serif', 'Times New Roman', serif" font-size="35.5" fill="#2b2b2b" stroke="#2b2b2b" stroke-width="0.55">00,000</text>
<line x1="223.0" y1="493.2" x2="233.0" y2="493.2" stroke="#707070" stroke-width="2.4"/>
<text transform="translate(110.5 504.1) scale(0.600 1)" text-anchor="middle" font-family="'Liberation Serif', 'Times New Roman', serif" font-size="35.5" fill="#2b2b2b" stroke="#2b2b2b" stroke-width="0.55">1</text>
<text transform="translate(218.3 504.1) scale(0.975 1)" text-anchor="end" font-family="'Liberation Serif', 'Times New Roman', serif" font-size="35.5" fill="#2b2b2b" stroke="#2b2b2b" stroke-width="0.55">25,000</text>
<line x1="223.0" y1="391.9" x2="233.0" y2="391.9" stroke="#707070" stroke-width="2.4"/>
<text transform="translate(110.5 402.8) scale(0.600 1)" text-anchor="middle" font-family="'Liberation Serif', 'Times New Roman', serif" font-size="35.5" fill="#2b2b2b" stroke="#2b2b2b" stroke-width="0.55">1</text>
<text transform="translate(218.3 402.8) scale(0.975 1)" text-anchor="end" font-family="'Liberation Serif', 'Times New Roman', serif" font-size="35.5" fill="#2b2b2b" stroke="#2b2b2b" stroke-width="0.55">50,000</text>
<line x1="223.0" y1="290.6" x2="233.0" y2="290.6" stroke="#707070" stroke-width="2.4"/>
<text transform="translate(110.5 301.5) scale(0.600 1)" text-anchor="middle" font-family="'Liberation Serif', 'Times New Roman', serif" font-size="35.5" fill="#2b2b2b" stroke="#2b2b2b" stroke-width="0.55">1</text>
<text transform="translate(218.3 301.5) scale(0.975 1)" text-anchor="end" font-family="'Liberation Serif', 'Times New Roman', serif" font-size="35.5" fill="#2b2b2b" stroke="#2b2b2b" stroke-width="0.55">75,000</text>
<line x1="223.0" y1="189.3" x2="233.0" y2="189.3" stroke="#707070" stroke-width="2.4"/>
<text transform="translate(103.1 200.2) scale(1.000 1)" text-anchor="middle" font-family="'Liberation Serif', 'Times New Roman', serif" font-size="35.5" fill="#2b2b2b" stroke="#2b2b2b" stroke-width="0.55">2</text>
<text transform="translate(218.3 200.2) scale(0.975 1)" text-anchor="end" font-family="'Liberation Serif', 'Times New Roman', serif" font-size="35.5" fill="#2b2b2b" stroke="#2b2b2b" stroke-width="0.55">00,000</text>
<line x1="302.7" y1="933.5" x2="302.7" y2="939.0" stroke="#666" stroke-width="2.8"/>
<text x="302.7" y="971.4" text-anchor="middle" font-family="'Liberation Serif', 'Times New Roman', serif" font-size="35.5" fill="#2b2b2b" stroke="#2b2b2b" stroke-width="0.55">0</text>
<line x1="505.7" y1="933.5" x2="505.7" y2="939.0" stroke="#666" stroke-width="2.8"/>
<text x="505.7" y="971.4" text-anchor="middle" font-family="'Liberation Serif', 'Times New Roman', serif" font-size="35.5" fill="#2b2b2b" stroke="#2b2b2b" stroke-width="0.55">500</text>
<line x1="708.6" y1="933.5" x2="708.6" y2="939.0" stroke="#666" stroke-width="2.8"/>
<text transform="translate(676.6 971.4) scale(0.600 1)" text-anchor="middle" font-family="'Liberation Serif', 'Times New Roman', serif" font-size="35.5" fill="#2b2b2b" stroke="#2b2b2b" stroke-width="0.55">1</text>
<text x="691.9" y="971.4" font-family="'Liberation Serif', 'Times New Roman', serif" font-size="35.5" fill="#2b2b2b" stroke="#2b2b2b" stroke-width="0.55">000</text>
<line x1="911.6" y1="933.5" x2="911.6" y2="939.0" stroke="#666" stroke-width="2.8"/>
<text transform="translate(879.6 971.4) scale(0.600 1)" text-anchor="middle" font-family="'Liberation Serif', 'Times New Roman', serif" font-size="35.5" fill="#2b2b2b" stroke="#2b2b2b" stroke-width="0.55">1</text>
<text x="894.9" y="971.4" font-family="'Liberation Serif', 'Times New Roman', serif" font-size="35.5" fill="#2b2b2b" stroke="#2b2b2b" stroke-width="0.55">500</text>
<line x1="1114.6" y1="933.5" x2="1114.6" y2="939.0" stroke="#666" stroke-width="2.8"/>
<text transform="translate(1082.6 971.4) scale(1.000 1)" text-anchor="middle" font-family="'Liberation Serif', 'Times New Roman', serif" font-size="35.5" fill="#2b2b2b" stroke="#2b2b2b" stroke-width="0.55">2</text>
<text x="1097.9" y="971.4" font-family="'Liberation Serif', 'Times New Roman', serif" font-size="35.5" fill="#2b2b2b" stroke="#2b2b2b" stroke-width="0.55">000</text>
<line x1="1317.5" y1="933.5" x2="1317.5" y2="939.0" stroke="#666" stroke-width="2.8"/>
<text transform="translate(1285.5 971.4) scale(1.000 1)" text-anchor="middle" font-family="'Liberation Serif', 'Times New Roman', serif" font-size="35.5" fill="#2b2b2b" stroke="#2b2b2b" stroke-width="0.55">2</text>
<text x="1300.8" y="971.4" font-family="'Liberation Serif', 'Times New Roman', serif" font-size="35.5" fill="#2b2b2b" stroke="#2b2b2b" stroke-width="0.55">500</text>
<line x1="1520.5" y1="933.5" x2="1520.5" y2="939.0" stroke="#666" stroke-width="2.8"/>
<text transform="translate(1488.5 971.4) scale(1.000 1)" text-anchor="middle" font-family="'Liberation Serif', 'Times New Roman', serif" font-size="35.5" fill="#2b2b2b" stroke="#2b2b2b" stroke-width="0.55">3</text>
<text x="1503.8" y="971.4" font-family="'Liberation Serif', 'Times New Roman', serif" font-size="35.5" fill="#2b2b2b" stroke="#2b2b2b" stroke-width="0.55">000</text>
<line x1="1723.5" y1="933.5" x2="1723.5" y2="939.0" stroke="#666" stroke-width="2.8"/>
<text transform="translate(1691.5 971.4) scale(1.000 1)" text-anchor="middle" font-family="'Liberation Serif', 'Times New Roman', serif" font-size="35.5" fill="#2b2b2b" stroke="#2b2b2b" stroke-width="0.55">3</text>
<text x="1706.8" y="971.4" font-family="'Liberation Serif', 'Times New Roman', serif" font-size="35.5" fill="#2b2b2b" stroke="#2b2b2b" stroke-width="0.55">500</text>
<text x="516" y="84.3" font-family="'Liberation Sans', Arial, sans-serif" font-size="19.5" fill="#1e1e1e" stroke="#1e1e1e" stroke-width="0.45" textLength="996" lengthAdjust="spacingAndGlyphs">Normalized deformation energies averaged over all modes</text>
<text x="904.4" y="1003.5" font-family="'Liberation Sans', Arial, sans-serif" font-size="28" fill="#222" stroke="#222" stroke-width="0.3" textLength="213" lengthAdjust="spacingAndGlyphs">Alignment index</text>
<text transform="translate(86 735) rotate(-90)" x="0" y="0" font-family="'Liberation Sans', Arial, sans-serif" font-size="32.5" fill="#222" stroke="#222" stroke-width="0.3" textLength="423" lengthAdjust="spacingAndGlyphs">Deformation energy (kJ/mol/nm)</text>
<rect x="805.6" y="805" width="420.1" height="120.60000000000002" rx="5" ry="5" fill="#fff" stroke="#dedede" stroke-width="2.2"/>
<line x1="815" y1="817.0" x2="874" y2="817.0" stroke="#9ecae6" stroke-width="3"/>
<text x="888" y="823.3" font-family="'Liberation Sans', Arial, sans-serif" font-size="17.6" fill="#1a1a1a" stroke="#1a1a1a" stroke-width="0.5" textLength="319" lengthAdjust="spacingAndGlyphs">ADINTREVIMAB_G339D</text>
<line x1="815" y1="840.4" x2="874" y2="840.4" stroke="#ffd0a6" stroke-width="3"/>
<text x="888" y="846.7" font-family="'Liberation Sans', Arial, sans-serif" font-size="17.6" fill="#1a1a1a" stroke="#1a1a1a" stroke-width="0.5" textLength="291" lengthAdjust="spacingAndGlyphs">BELUDAVIMAB_S371L</text>
<line x1="815" y1="863.7" x2="874" y2="863.7" stroke="#a9dfbb" stroke-width="3"/>
<text x="888" y="870.0" font-family="'Liberation Sans', Arial, sans-serif" font-size="17.6" fill="#1a1a1a" stroke="#1a1a1a" stroke-width="0.5" textLength="273" lengthAdjust="spacingAndGlyphs">CILGAVIMAB_G142D</text>
<line x1="815" y1="887.1" x2="874" y2="887.1" stroke="#ffadb4" stroke-width="3"/>
<text x="888" y="893.4" font-family="'Liberation Sans', Arial, sans-serif" font-size="17.6" fill="#1a1a1a" stroke="#1a1a1a" stroke-width="0.5" textLength="321" lengthAdjust="spacingAndGlyphs">REGDANIVIMAB_N440K</text>
<line x1="815" y1="910.5" x2="874" y2="910.5" stroke="#d9c2e8" stroke-width="3"/>
<text x="888" y="916.8" font-family="'Liberation Sans', Arial, sans-serif" font-size="17.6" fill="#1a1a1a" stroke="#1a1a1a" stroke-width="0.5" textLength="329" lengthAdjust="spacingAndGlyphs">ROMLUSEVIMAB_D614G</text>
<g>
<path d="M0 1943l1 0 1-2 1 0 1-2 1-2 1-5 1-3 1-2 1 2 1 4 1 3 1 1 1 1 1-5 1-8 1-10 1-9 1-3 1 3 1 9 1 10 1 8 1 4 1 3 1-1 1 0 1-1 1-1 1 1 1 1 1 1 1 1 1 1 1-1 1 0 1 1 1 0 1 0 1 1 1-1 1 1 1-1 1 0 1 1 1-1 1 0 1 0 1 0 1 0 1-1 1 0 1-1 1 0 1-2 1-1 1-1 1-1 1 1 1 2 1 1 1 1 1-3 1-5 1-9 1-12 1-9 1-4 1 3 1 10 1 12 1 8 1 6 1 3 1 0 1 1 1 0 1 0 1 0 1-1 1 0 1-2 1 0 1-1 1-3 1 3 1 1 1 0 1 1 1 1 1 0 1 1 1 1 1 0 1-1 1 2 1 0 1-2 1 1 1-1 1 0 1-1 1-1 1 0 1-3 1-2 1 3 1-1 1 0 1 3 1 0 1 2 1 0 1 0 1 1 1 0 1-1 1-1 1-1 1 0 1-1 1 0 1 1 1 1 1 0 1 1 1 1 1-1 1 1 1-1 1 0 1-1 1 0 1 0 1-1 1 0 1-1 1-3 1-6 1-17 1-31 1-37 1-17 1 18 1 36 1 31 1 17 1 6 1 2 1 2 1 0 1 1 1 1 1 0 1-2 1-1 1 0 1-1 1-1 1-1 1 1 1 2 1-2 1-5 1-8 1-11 1-11 1-3 1 3 1 11 1 11 1 8 1 6 1 1 1-5 1-7 1-5 1-2 1 3 1 5 1 6 1 4 1 3 1 1 1 1 1-1 1 0 1-2 1 1 1-2 1-2 1 0 1 1 1-1 1 3 1 0 1 1 1 0 1-1 1 0 1-1 1-3 1 1 1 0 1 1 1-4 1 3 1 0 1 2 1 1 1 1 1 0 1 1 1 0 1 0 1 1 1 1 1 0 1-1 1 1 1-2 1 1 1 0 1 0 1-2 1-1 1 0 1-2 1 1 1 1 1-1 1 2 1 1 1 0 1 0 1 0 1-1 1 1 1-1 1-2 1-2 1-7 1-10 1-14 1-12 1-6 1 6 1 12 1 13 1 11 1 6 1 3 1 1 1 1 1 1 1 0 1 1 1-1 1 0 1 1 1 0 1-1 1 2 1-1 1 0 1 0 1 1 1-1 1 1 1 0 1 0 1-1 1 1 1-1 1 1 1 0 1 0 1 0 1-1 1 1 1 0 1 0 1 0 1 0 1-1 1 1 1 0 1-1 1 1 1 0 1 0 1-1 1 1 1 0 1-1 1 1 1-1 1 1 1-1 1 1 1-1 1 1 1 0 1-1 1 0 1-1 1 1 1-1 1 0 1-2 1 2 1-1 1 0 1 1 1 0 1-2 1 0 1-1 1 1 1 0 1 2 1 0 1 0 1-1 1-2 1-2 1 1 1 1 1-2 1 2 1 2 1 0 1 0 1 1 1 0 1 1 1 0 1 0 1 1 1-1 1 1 1 0 1 0 1-1 1 1 1 0 1 0 1 0 1 0 1 0 1 0 1-1 1 1 1 0 1-1 1 0 1 0 1 1 1-1 1 0 1 0 1 0 1 0 1 0 1 0 1-2 1 0 1-1 1-1 1 0 1 0 1-2 1 3 1 0 1 0 1 1 1 1 1-2 1 0 1-1 1 0 1 0 1-1 1 2 1 0 1 1 1 1 1 0 1-1 1 0 1-1 1-1 1 1 1-2 1 2 1 0 1 1 1-1 1 0 1 2 1 0 1 0 1 0 1 1 1 0 1 0 1 0 1 1 1 0 1 0 1 0 1 0 1-1 1 0 1 0 1 0 1 1 1-1 1-1 1 0 1 0 1-1 1 0 1 0 1-3 1-2 1 1 1 1 1-1 1 3 1-1 1 3 1 0 1 1 1 0 1-1 1-3 1-5 1-4 1-5 1-1 1 1 1 4 1 6 1 4 1 2 1 2 1 0 1 0 1-1 1-2 1-4 1-2 1-1 1 2 1 2 1 3 1 1 1 2 1 0 1 0 1-1 1-1 1 0 1 0 1 0 1-1 1-1 1-3 1-5 1-17 1-32 1-36 1-17 1 17 1 36 1 32 1 3 1-27 1-32 1-15 1 14 1 32 1 28 1 15 1 6 1 1 1 1 1 0 1 2 1 0 1-2 1-2 1-5 1-3 1-2 1 1 1 4 1 4 1 1 1 3 1-1 1 0 1 2 1-1 1 1 1-2 1-2 1-2 1 3 1-2 1 1 1 2 1 1 1 0 1 0 1 0 1-2 1-2 1 1 1 1 1-2 1 3 1 0 1 0 1 1 1-3 1 1 1 0 1 2 1 1 1 0 1 0 1 1 1-1 1 1 1 0 1 0 1 0 1 1 1-1 1 0 1-1 1 0 1 1 1 0 1-3 1 0 1 0 1-2 1 2 1 0 1 0 1 2 1 0 1 1 1 0 1 0 1 0 1 0 1 1 1-1 1 0 1 1 1 0 1-1 1 0 1 1 1-1 1 1 1-1 1 1 1 0 1 0 1 0 1-1 1 1 1 0 1-1 1 1 1-1 1 0 1 0 1 0 1 0 1 0 1-1 1-1 1 1 1-1 1-1 1 2 1 0 1 0 1 1 1 0 1 0 1 1 1-1 1 1 1-1 1-1 1 0 1-1 1 0 1 1 1-2 1 0 1 0 1 1 1 1 1 1 1-1 1 1 1 0 1 0 1 0 1-1 1 0 1-2 1 1 1-1 1-1 1-1 1 0 1 0 1 1 1 1 1 1 1 1 1 0 1 1 1 0 1 0 1 0 1 1 1 0 1 0 1 0 1-1 1 0 1 1 1 0 1 0 1 0 1 0 1 0 1-1 1 1 1-1 1 0 1 1 1-1 1 1 1-1 1 0 1 0 1-1 1 1 1-1 1 1 1 0 1 0 1-1 1 0 1 0 1 0 1-1 1-1 1-1 1-1 1 0 1 0 1-2 1 0 1-5 1-10 1-28 1-53 1-62 1-30 1 30 1 62 1 53 1 27 1 12 1 3 1 2 1 1 1 1 1 0 1 1 1 1 1 0 1 1 1-1 1 1 1 1 1-1 1 1 1 0 1 0 1 0 1 0 1 0 1 0 1 0 1 0 1 1 1 0 1-1 1 1 1 0 1-1 1 0 1 1 1 0 1-1 1 0 1 1 1 0 1-1 1 1 1 0 1-1 1 1 1 0 1 0 1-1 1 1 1 0 1 0 1 0 1-1 1 1 1 0 1-1 1 0 1 0 1 1 1 0 1 0 1 0 1 0 1 0 1 0 1 0 1-1 1 0 1 1 1 0 1-1 1 0 1 0 1 0 1 0 1 0 1 0 1-1 1 0 1 0 1-1 1 0 1-2 1 1 1 0 1-2 1 2 1 0 1 2 1 0 1-1 1 1 1-1 1 0 1 0 1 1 1 0 1 0 1 1 1 0 1 1 1-1 1 0 1-1 1-1 1-1 1-3 1 0 1 1 1 1 1 1 1 3 1 0 1 0 1 0 1-1 1 1 1-1 1-1 1-1 1-3 1-4 1-3 1-2 1 2 1 4 1 3 1 4 1 1 1 1 1 0 1 0 1 0 1 0 1 0 1-1 1 0 1 1 1-1 1-1 1 0 1-1 1 0 1 0 1 1 1 1 1 1 1-1 1 1 1 1 1-1 1 1 1 0 1 0 1 0 1 0 1 0 1-1 1 1 1-1 1 0 1 0 1 0 1 0 1 0 1 0 1 0 1 0 1 0 1-1 1 0 1 0 1-1 1-1 1 0 1-1 1-3 1 1 1-1 1 1 1 1 1 0 1 2 1 1 1 1 1 1 1 0 1 0 1 0 1 1 1-1 1 0 1 0 1 0 1 0 1-1 1 0 1-1 1-1 1-1 1-2 1 1 1 1 1-1 1 1 1 1 1 0 1 1 1-1 1-2 1 0 1 3 1 0 1 1 1 0 1 1 1 0 1-1 1 0 1-1 1 0 1-1 1 0 1 0 1-2 1 1 1 0 1 2 1 1 1 1 1-1 1 0 1 2 1-1 1 0 1 0 1 1 1-1 1 1 1 0 1 0 1-1 1 1 1 0 1-1 1 0 1 1 1 0 1 0 1 0 1-1 1 0 1 0 1 0 1-1 1-1 1-1 1 0 1 0 1 0 1 1 1-2 1 0 1 0 1 2 1 1 1-1 1 1 1 1 1 0 1 0 1 1 1 0 1-1 1 1 1 0 1 0 1 0 1 0 1-1 1 0 1 1 1 0 1 0 1 0 1 0 1 0 1 0 1 0 1 0 1 0 1 0 1-1 1 1 1 0 1 0 1 0 1-1 1 0 1 0 1 0 1 0 1 0 1 0 1 0 1 0 1 0 1-1 1 0 1 0 1-1 1-1 1 0 1-2 1 2 1 0 1 1 1 1 1 0 1 1 1 0 1 0 1 0 1 1 1-1 1 1 1 0 1-1 1 1 1 0 1 0 1 0 1 0 1 0 1 0 1 0 1-1 1 1 1-1 1 0 1 0 1 0 1 0 1 0 1 0 1 0 1 0 1 0 1 0 1-1 1-1 1-2 1 0 1 0 1-1 1-1 1 2 1 0 1 0 1 3 1-1 1 1 1 0 1 0 1 0 1 0 1-1 1 0 1-1 1-1 1 0 1 0 1 0 1 2 1 1 1 0 1 0 1 1 1-1 1 1 1 0 1 1 1-1 1 0 1 1 1-1 1 1 1 0 1-1 1 0 1 1 1-1 1 0 1 0 1 0 1-2 1-2 1-3 1-2 1 0 1 0 1 3 1 2 1 3 1 1 1 0 1-1 1 0 1-2 1-2 1-4 1-9 1-9 1-9 1-4 1 3 1 10 1 9 1 9 1 5 1 1 1 1 1 1 1 1 1 0 1 0 1 0 1 0 1-1 1 1 1-1 1-1 1 2 1-1 1 0 1 1 1 1 1-1 1 1 1 0 1-1 1 0 1 0 1 0 1 0 1-1 1 1 1-1 1 0 1 0 1 0 1-1 1 0 1 0 1-2 1-4 1-12 1-23 1-24 1-12 1 12 1 25 1 22 1 11 1 3 1-2 1 0 1-2 1-3 1-2 1-3 1-4 1-5 1-12 1-32 1-88 1-167 1-193 1-91 1 90 1 195 1 166 1 88 1 33 1 12 1-4 1-10 1-4 1 3 1 11 1 11 1 9 1 3 1 1 1 1 1 1 1 1 1 0 1 0 1 0 1 1 1-1 1 1 1 0 1 1 1 0 1 0 1 1 1-1 1 0 1 0 1 0 1 1 1 1 1-1 1 0 1 1 1-1 1 1 1-1 1 0 1 0 1 0 1 0 1 0 1 0 1-1 1 1 1-1 1 0 1 0 1-1 1-2 1-5 1-8 1-10 1-8 1-4 1 3 1 9 1 10 1 8 1 4 1 2 1-2 1 1 1 0 1 1 1 1 1 1 1 1 1 0 1 0 1 1 1-1 1 0 1 0 1-1 1 1 1-1 1-1 1 0 1-1 1 0 1-2 1-1 1-1 1 2 1 2 1 0 1 0 1 0 1 0 1 1 1 1 1 0 1 1 1 0 1 0 1 0 1 0 1 0 1 0 1 0 1 0 1 0 1-1 1 1 1-2 1-2 1-4 1-3 1 0 1 1 1 3 1 2 1 3 1 1 1-1 1 0 1 0 1-1 1 0 1-1 1 0 1-1 1 0 1-2 1-1 1-1 1-1 1-3 1-2 1-3 1-9 1-23 1-64 1-118 1-139 1-65 1 65 1 139 1 119 1 62 1 24 1 9 1 4 1 2 1 2 1 1 1 2 1 0 1 2 1 0 1 1 1 0 1 1 1 0 1-1 1-5 1-12 1-23 1-28 1-13 1 14 1 26 1 23 1 12 1 5 1-2 1-5 1-7 1-7 1-2 1 2 1 7 1 7 1 6 1 3 1 1 1 2 1-1 1 1 1 0 1-1 1 0 1 0 1-3 1 0 1-1 1-1 1 0 1 1 1 0 1 1 1 1 1 2 1 0 1 0 1 0 1 1 1-1 1-2 1-3 1 1 1 0 1 2 1 1 1 2 1 0 1 1 1 0 1 0 1-1 1 1 1 0 1-1 1 1 1-1 1 1 1 0 1 0 1 0 1-1 1 0 1-1 1 1 1-1 1 0 1-1 1 1 1 0 1-1 1 2 1 0 1-1 1-1 1 0 1 0 1-4 1-9 1-16 1-19 1-10 1 9 1 20 1 17 1 8 1 3 1 1 1 0 1-1 1-2 1 1 1 1 1-1 1 1 1 0 1-2 1 2 1-1 1 0 1 2 1 1 1 0 1 0 1 1 1 0 1 0 1 1 1-1 1 0 1 0 1 1 1-1 1 0 1 0 1 0 1 1 1 0 1 0 1-1 1 1 1 0 1 0 1 0 1 0 1 0 1 0 1 0 1 0 1 0 1 0 1-1 1 1 1 0 1 0 1 0 1 0 1-1 1 1 1-1 1 0 1 0 1 0 1 1 1 0 1-1 1 0 1 0 1-1 1 1 1-2 1-2 1-3 1-4 1 0 1 1 1 2 1 4 1 2 1 1 1 0 1 0 1 0 1 1 1 0 1 0 1 0 1 1 1-1 1 0 1 0 1 0 1 1 1 0 1 0 1 0 1 0 1-1 1 1 1 0 1-1 1-1 1 0 1 0 1 0 1 0 1 1 1 0 1 0 1 0 1 0 1 0 1 0 1-1 1 0 1-1 1-1 1-1 1-1 1 0 1-1 1 2 1-1 1-1 1 1 1 2 1 1 1 0 1 1 1 0 1 1 1 0 1 1 1-1 1-1 1 0 1 0 1 0 1-2 1 0 1 0 1-2 1 1 1 2 1 1 1 0 1 0 1 1 1 0 1 0 1 1 1-1 1 0 1 0 1 1 1-1 1 0 1 0 1 1 1-1 1 1 1 0 1 0 1 0 1-1 1 0 1 0 1 1 1 0 1 0 1-1 1 1 1-1 1 1 1 0 1-1 1 0 1 1 1-1 1 0 1-1 1 0 1 0 1 0 1-1 1 1 1 0 1 1 1 0 1-2 1-1 1-4 1-5 1-3 1-2 1 2 1 3 1 5 1 4 1 2 1 0 1-1 1-2 1-3 1-2 1-1 1 2 1 1 1 3 1 2 1 1 1 1 1 0 1 0 1-1 1 0 1 0 1 0 1-1 1 0 1 0 1-1 1-2 1-5 1-13 1-24 1-30 1-13 1 13 1 29 1 26 1 12 1-1 1-16 1-29 1-34 1-16 1 16 1 34 1 29 1 15 1 6 1 2 1 1 1 0 1 1 1 0 1 1 1 1 1 0 1 0 1-1 1 1 1 0 1 0 1 0 1 0 1 0 1 0 1-1 1 1 1-1 1 0 1-1 1-1 1-2 1 1 1 0 1 0 1 1 1 0 1 2 1 0 1 0 1 1 1 0 1 0 1-1 1-2 1-2 1-2 1-1 1 1 1 2 1 2 1 2 1 1 1 1 1 0 1-1 1 1 1 0 1 0 1 0 1-1 1 1 1-1 1 1 1-1 1 0 1-1 1 0 1-1 1-1 1-1 1-2 1 1 1-1 1 1 1 1 1 1 1-1 1 0 1-1 1 2 1 1 1 1 1 1 1-1 1 1 1 0 1-1 1 0 1 0 1-1 1 0 1 1 1 0 1 0 1-1 1 0 1 0 1 1 1 0 1 0 1 1 1 0 1-1 1 0 1 0 1 0 1-1 1 1 1 0 1 1 1 0 1 0 1 0 1 1 1 0 1 0 1 0 1 0 1-1 1 1 1 0 1-1 1 0 1 1 1-1 1 1 1 0 1 0 1 0 1 0 1-1 1 1 1 0 1 0 1 0 1 0 1 0 1 0 1-1 1 1 1-1 1 1 1 0 1 0 1 0 1-1 1 1 1 0 1 0 1-1 1 1 1 0 1 0 1 0 1 0 1 0 1-1 1 1 1-1 1 1 1 0 1 0 1 0 1 0 1 0 1-1 1 0 1 0 1 1 1 0 1-1 1 0 1 1 1-1 1 0 1-1 1 0 1 1 1-1 1 1 1-2 1-1 1 0 1-2 1 0 1 0 1 0 1 2 1-1 1-1 1-1 1-1 1-2 1-5 1-12 1-31 1-62 1-71 1-34 1 33 1 72 1 61 1 33 1 12 1 4 1 1 1 2 1-1 1 1 1 1 1 1 1 1 1 0 1 2 1 0 1 0 1 0 1 0 1 0 1-1 1 0 1 2 1-2 1-1 1 1 1 0 1 0 1-1 1 0 1 2 1 0 1 0 1-1 1 0 1-2 1 1 1 0 1-1 1 0 1-1 1-1 1-2 1 1 1 3 1-1 1 2 1 0 1 1 1 2 1-1 1 1 1-1 1 1 1 1 1-1 1 0 1 0 1 0 1 1 1 0 1-1 1 1 1 0 1 0 1 0 1 0 1 0 1 0 1 0 1 0 1 0 1-1 1 1 1 0 1 0 1 0 1 0 1 0 1-1 1 0 1 0 1 0 1 0 1-1 1 0 1 0 1 0 1-1 1-2 1-1 1 0 1 0 1 1 1 2 1-1 1 0 1 0 1-2 1 2 1 0 1 1 1 0 1 2 1-1 1 0 1-1 1-1 1-2 1-1 1-2 1 1 1 3 1 2 1 1 1 1 1 0 1 0 1 0 1 1 1-1 1-1 1 0 1 0 1-3 1-4 1-5 1-5 1-1 1 2 1 4 1 5 1 4 1 2 1 0 1 1 1 0 1 1 1 0 1-1 1 0 1-2 1 1 1 0 1 0 1 1 1 0 1 1 1 1 1 0 1 0 1-1 1 0 1 1 1-1 1 0 1 1 1-1 1 0 1 0 1-2 1-2 1-3 1-5 1-5 1-1 1 1 1 4 1 5 1 5 1 1 1 1 1 0 1 0 1 0 1 0 1 0 1 0 1 1 1 0 1 1 1-1 1 1 1 0 1-1 1 1 1-1 1 0 1 0 1 0 1 0 1-1 1 0 1 0 1-1 1-1 1-1 1-1 1 0 1-1 1 0 1 2 1-2 1-1 1 1 1 1 1 0 1 0 1 0 1 2 1 1 1 0 1-1 1-1 1-2 1 0 1 1 1 2 1 0 1 1 1 0 1 2 1-1 1 1 1 0 1 1 1 0 1-1 1 1 1 0 1-1 1 1 1-1 1 1 1 0 1-1 1 1 1-1 1 0 1 0 1-1 1 1 1 0 1-1 1 0 1 0 1-1 1-1 1-1 1-2 1 1 1-1 1 2 1 0 1 1 1 1 1 0 1 1 1-1 1-1 1-1 1 0 1 0 1 1 1 1 1 1 1 1 1 0 1 0 1 0 1 0 1-1 1 0 1-2 1-1 1 0 1-2 1 2 1-2 1 1 1 2 1 0 1 1 1 1 1 1 1 0 1 0 1 0 1-1 1 0 1 0 1-2 1 1 1-1 1 1 1 1 1 0 1 0 1 1 1 0 1 0 1 1 1-1 1 1 1-1 1 0 1 1 1 0 1 0 1 0 1 0 1 0 1 0 1 0 1 0 1 0 1 0 1 0 1 0 1 0 1 0 1 0 1-1 1 0 1 0 1-1 1 1 1-1 1 0 1 0 1 0 1 0 1-1 1-1 1 0 1 0 1 1 1 0 1 1 1 0 1 0 1 1 1 0 1 0 1 1 1-1 1 0 1 0 1 1 1-1 1 1 1 0 1 0 1-1 1 0 1 0 1 0 1 1 1-1 1 0 1 0 1-1 1 0 1 0 1-1 1-1 1-1 1-1 1-1 1-1 1 1 1 2 1 1 1 1 1 0 1 1 1 1 1 0 1 0 1-1 1 0 1 0 1 0 1 0 1-2 1-2 1-1 1 1 1 0 1-1 1 1 1 2 1 1 1 0 1 1 1 1 1 0 1-1 1 0 1-1 1-2 1-2 1-3 1-1 1 1 1 2 1 3 1 3 1 1 1 0 1 1 1-1 1 0 1 0 1 0 1-1 1-1 1-3 1-6 1-6 1-5 1-2 1 1 1 6 1 7 1 5 1 3 1 1 1 0 1 0 1 1 1 0 1 0 1-1 1 0 1-1 1-1 1 0 1-3 1 0 1-2 1 2 1 1 1 1 1 2 1 0 1 1 1 0 1 0 1 0 1-1 1 0 1 0 1-1 1 0 1 0 1-2 1-1 1-1 1-4 1-9 1-27 1-49 1-58 1-28 1 27 1 58 1 50 1 27 1 10 1 2 1-1 1-1 1-3 1-2 1-3 1-4 1-5 1-13 1-34 1-92 1-174 1-203 1-94 1 94 1 202 1 175 1 92 1 34 1 12 1 6 1 4 1 2 1-10 1-9 1-4 1 4 1 9 1 9 1 8 1 4 1 1 1 1 1 0 1 0 1-2 1 0 1 1 1 1 1 2 1 0 1-1 1 1 1 0 1 0 1-1 1 1 1 0 1 0 1 0 1 2 1-1 1 1 1 0 1-1 1 0 1 0 1 0 1-1 1 0 1-1 1-1 1 0 1 1 1 1 1-1 1 0 1-1 1-3 1-5 1-8 1-12 1-10 1-4 1 4 1 9 1 13 1 8 1 6 1 2 1 1 1 1 1 1 1-1 1 0 1 1 1 0 1 0 1 0 1 0 1 0 1 1 1-1 1 0 1 1 1-1 1 0 1 0 1 0 1 0 1-1 1-1 1-1 1 0 1-1 1-1 1 0 1 2 1 1 1 0 1 1 1 1 1-1 1 1 1 0 1 0 1 0 1-1 1 0 1 0 1 0 1-2 1-2 1-3 1-2 1-1 1 0 1 3 1 4 1 2 1-1 1 1 1-1 1-1 1 0 1 0 1-1 1-1 1-2 1-1 1-1 1-2 1-2 1-5 1-8 1-23 1-62 1-118 1-138 1-65 1 65 1 138 1 118 1 62 1 24 1 8 1 4 1 2 1 2 1 1 1 2 1 1 1 0 1 2 1 0 1 0 1 1 1 0 1 0 1-1 1-1 1-4 1-13 1-24 1-29 1-13 1 14 1 27 1 25 1 13 1-1 1-6 1-6 1-2 1 2 1 7 1 5 1 5 1 2 1 2 1 0 1 1 1 0 1 0 1 0 1 0 1 1 1 0 1-1 1 1 1 0 1-1 1 1 1-1 1 0 1 0 1 1 1-1 1 0 1-1 1 0 1 0 1-1 1-1 1-1 1 0 1-1 1 1 1 1 1 0 1 1 1 0 1 0 1-1 1-1 1-2 1 1 1 0 1 1 1-1 1-1 1-1 1-1 1 2 1 0 1 2 1 1 1 1 1 1 1 0 1 1 1 0 1-1 1-1 1 0 1-1 1-1 1-3 1-7 1-11 1-15 1-14 1-5 1 6 1 13 1 14 1 12 1 8 1 2 1 2 1 1 1-1 1 2 1-1 1 0 1 1 1 0 1 0 1 0 1 0 1 0 1 0 1 0 1 0 1 0 1 0 1 1 1-1 1 0 1 0 1 1 1 0 1-1 1 1 1 0 1 0 1 0 1 0 1 0 1 0 1 0 1-1 1 1 1 0 1-1 1 1 1 0 1 0 1 0 1-1 1 1 1 0 1 0 1 0 1 0 1-1 1 1 1 0 1 0 1 0 1 0 1 0 1 0 1-1 1 0 1 1 1-1 1 1 1-1 1 0 1-1 1-1 1-3 1-3 1-2 1-1 1 0 1 3 1 3 1 2 1 2 1 0 1 0 1 0 1 1 1 1 1 0 1 0 1-1 1 0 1-1 1 0 1 0 1 1 1-2 1 0 1-2 1 1 1 1 1 0 1 0 1 1 1 0 1 1 1 0 1 0 1-1 1 0 1-1 1 0 1 1 1 0 1 0 1 0 1-1 1-1 1 0 1-4 1 2 1 2 1 0 1 1 1 1 1 0 1 1 1-1 1-1 1 0 1 0 1-2 1 1 1-1 1 2 1 0 1 1 1 0 1 1 1 0 1 0 1 0 1 1 1-1 1 0 1-1 1 0 1-1 1 1 1 0 1 1 1 1 1-1 1 1 1-1 1 0 1-1 1 0 1-1 1-1 1-1 1-1 1 0 1-1 1 0 1 1 1 1 1 2 1 0 1 0 1-1 1-1 1 0 1-2 1 0 1 0 1 1 1 2 1 0 1 0 1 2 1 0 1 0 1 1 1 0 1 0 1 0 1 1 1-1 1 0 1 0 1 0 1 0 1 0 1-1 1-2 1-4 1-4 1-4 1-2 1 2 1 4 1 5 1 2 1 2 1 1 1 1 1 0 1 0 1 0 1 0 1 1 1-1 1 0 1 0 1 0 1 0 1 0 1 0 1-1 1 0 1 1 1-1 1 0 1-1 1-1 1-1 1-5 1-10 1-21 1-24 1-12 1 11 1 25 1 21 1 10 1-4 1-17 1-31 1-38 1-18 1 18 1 37 1 33 1 16 1 6 1 3 1 0 1 1 1 1 1 0 1 0 1 1 1 0 1 0 1-1 1 1 1-1 1-1 1-1 1-3 1 0 1 0 1 1 1 2 1 0 1 2 1 1 1 0 1 0 1 0 1-1 1-1 1-1 1-2 1-2 1-1 1 1 1 2 1 1 1 2 1 1 1 1 1-2 1-1 1 0 1-1 1 2 1 2 1 0 1 1 1 0 1 1 1-1 1 0 1-1 1 0 1-1 1 1 1 0 1 1 1 0 1 0 1 1 1 0 1 0 1-1 1 0 1 0 1 1 1-1 1 1 1-1 1 1 1 0 1 0 1 0 1-1 1 0 1 1 1-1 1 1 1 0 1 0 1 0 1 0 1 0 1-1 1 1 1 0 1-1 1 1 1 0 1-1 1 0 1-1 1 0 1 0 1-1 1-1 1 0 1 1 1-1 1 2 1-1 1 1 1 1 1 0 1 0 1 1 1 0 1-1 1 0 1 1 1 0 1-1 1 1 1 0 1 0 1-1 1 1 1 0 1-1 1 1 1-1 1 1 1 0 1 0 1-1 1 1 1 0 1-1 1 1 1 0 1 0 1 0 1 0 1 0 1 0 1 0 1 0 1 0 1 0 1-1 1 1 1-1 1 1 1 0 1 0 1 0 1 0 1-1 1 1 1 0 1-1 1 0 1 1 1 0 1 0 1-1 1 1 1-1 1 0 1 1 1-1 1-1 1 1 1 0 1-1 1 0 1 0 1-1 1 1 1 1 1 0 1 0 1-1 1 1 1 0 1 0 1 0 1-1 1 0 1 0 1 0 1-1 1 0 1-1 1 0 1-1 1-1 1 0 1-2 1-2 1-4 1-11 1-31 1-59 1-67 1-33 1 33 1 67 1 59 1 30 1 12 1 4 1 2 1 1 1 0 1-1 1 1 1 0 1 4 1 0 1 0 1 0 1 1 1 0 1 0 1 1 1 0 1 0 1 0 1 0 1 0 1 0 1 0 1 0 1 0 1 0 1 1 1-1 1 1 1 0 1 0 1 0 1-1 1 1 1 0 1-1 1 0 1 0 1 1 1 0 1 0 1 0 1 0 1 0 1 0 1-1 1 0 1 1 1 0 1-1 1 1 1 0 1-1 1 1 1-1 1 1 1 0 1 0 1 0 1-1 1 1 1 0 1 0 1 0 1 0 1 0 1-1 1 0 1 0 1 1 1-1 1 1 1 0 1 0 1-1 1 0 1-1 1 1 1-1 1 0 1-1 1 0 1 0 1-1 1 2 1 0 1 0 1-2 1-1 1 0 1-2 1 2 1 0 1 1 1 1 1 1 1-1 1 1 1-3 1 0 1-2 1 0 1 2 1 0 1-1 1 1 1 1 1 2 1 0 1 1 1 0 1 0 1 0 1 0 1 0 1 0 1 0 1-2 1-1 1-4 1-5 1-3 1-1 1 1 1 4 1 4 1 3 1 2 1 2 1 0 1 0 1 1 1 0 1-1 1 0 1 1 1 0 1 0 1-1 1 1 1-1 1 0 1 1 1 0 1 0 1 0 1 0 1 0 1 0 1 0 1 0 1-1 1 1 1 0 1 0 1-1 1 1 1-1 1 1 1-1 1 0 1 0 1 1 1-1 1 0 1 0 1-1 1 0 1-2 1 0 1-1 1-1 1-2 1 1 1 1 1 1 1-1 1 2 1-1 1 1 1 1 1 1 1 0 1 1 1 0 1 0 1 0 1 0 1 0 1 0 1 0 1 0 1-1 1 0 1-1 1 0 1-2 1 0 1 0 1 2 1 0 1 0 1 1 1 0 1 1 1 0 1 0 1 0 1 0 1 0 1 1 1-1 1 0 1 0 1 1 1 0 1 0 1 0 1 0 1 0 1 0 1 0 1 0 1-1 1 1 1 0 1 0 1-1 1 1 1 0 1-1 1 1 1 0 1 0 1 0 1 0 1-1 1 0 1 1 1 0 1 0 1-1 1 0 1 0 1 1 1-1 1 0 1 0 1 0 1 0 1 0 1-1 1-1 1-1 1 0 1-1 1 0 1 0 1 0 1 1 1 2 1-1 1 1 1-2 1-1 1-1 1-2 1 0 1 2 1 1 1 2 1 0 1 0 1-1 1 0 1-3 1-1 1 0 1 0 1 1 1 2 1 2 1-1 1 2 1 0 1 1 1 0 1 0 1 0 1 0 1 1 1 0 1-1 1 1 1 0 1-1 1 0 1 0 1-1 1-1 1 0 1-2 1 0 1 0 1-2 1 1 1-1 1 2 1 1 1 0 1 2 1 0 1 0 1 1 1 0 1 0 1 0 1 0 1 1 1-1 1 1 1-1 1 0 1 1 1-1 1 1 1 0 1 0 1 0 1 0 1 0 1 0 1-1 1 0 1 0 1 0 1 1 1 0 1-1 1 1 1-1 1 0 1 0 1-1 1 0 1 0 1 0 1-1 1 0 1-2 1 0 1-3 1 0 1 1 1 0 1 3 1 0 1 0 1 2 1 1 1-1 1 1 1-1 1 0 1 0 1-1 1 1 1-1 1 1 1 0 1 0 1-1 1-1 1 0 1-1 1 1 1-2 1 0 1 0 1-1 1 2 1 0 1 2 1 0 1 1 1 0 1 0 1 1 1 0 1 0 1 0 1 1 1-1 1 0 1-2 1-1 1-3 1-1 1-2 1 2 1 2 1 2 1 1 1 1 1 0 1 0 1 0 1-1 1-1 1 1 1-1 1-3 1-6 1-6 1-6 1-2 1 2 1 6 1 6 1 6 1 3 1 2 1 1 1-1 1 1 1 0 1 0 1 1 1-1 1 0 1 1 1 0 1-1 1 0 1 0 1 1 1-1 1 0 1 1 1-1 1 0 1 0 1 0 1-1 1 0 1 0 1-1 1 1 1-1 1 0 1 0 1-2 1-1 1-5 1-13 1-24 1-30 1-12 1 13 1 28 1 25 1 14 1 1 1-1 1-2 1-2 1-3 1-3 1-3 1-4 1-7 1-14 1-41 1-109 1-207 1-242 1-111 1 111 1 242 1 206 1 110" transform="matrix(0.41857 0 0 1 267.0 0)" vector-effect="non-scaling-stroke" fill="none" stroke="#3b9edb" stroke-width="2.0" stroke-linejoin="round"/>
<path d="M0 1942l1 1 1-1 1-2 1-1 1-3 1-4 1-4 1-1 1 2 1 3 1 4 1 0 1 1 1-5 1-7 1-10 1-9 1-4 1 5 1 8 1 10 1 8 1 5 1 1 1 1 1-2 1 0 1-2 1 1 1 1 1 2 1 0 1 1 1 1 1-1 1 1 1 0 1 1 1-1 1 0 1 0 1 1 1-1 1 1 1-1 1 0 1 0 1 0 1 0 1-1 1 0 1 0 1-1 1-2 1-1 1-1 1 1 1 0 1 1 1 1 1 0 1-3 1-4 1-9 1-12 1-9 1-5 1 5 1 10 1 11 1 9 1 5 1 2 1 1 1 1 1 1 1 0 1-2 1 0 1 1 1-3 1-1 1 0 1-2 1 0 1 3 1 0 1 1 1 1 1 1 1 0 1 1 1-1 1 1 1 0 1 0 1 0 1 0 1-1 1 0 1-1 1-1 1-2 1-2 1 2 1-1 1 0 1 3 1-1 1 3 1-1 1 1 1 1 1-1 1 1 1-1 1-1 1-1 1-1 1 0 1 0 1 0 1 1 1 1 1 0 1-1 1-1 1-1 1 0 1-1 1-1 1-2 1-1 1-2 1-2 1-4 1-8 1-23 1-59 1-115 1-134 1-62 1 62 1 134 1 114 1 61 1 22 1 8 1 3 1 4 1 2 1 1 1 1 1 1 1 2 1 0 1-3 1-1 1 1 1 2 1 2 1-2 1-5 1-10 1-10 1-11 1-3 1 4 1 10 1 11 1 9 1 5 1 0 1-4 1-6 1-5 1-3 1 3 1 5 1 6 1 5 1 1 1 2 1 1 1-1 1-1 1 0 1 0 1-1 1-1 1-3 1 2 1-1 1 2 1 2 1 1 1-1 1-1 1-1 1-1 1 0 1 1 1-1 1-2 1 0 1 2 1-1 1 3 1 0 1 2 1 0 1 0 1 0 1 1 1 0 1 1 1-1 1 0 1 0 1 0 1 0 1 0 1-1 1-1 1-1 1 1 1-2 1 0 1 0 1 2 1 1 1 0 1 1 1 0 1-1 1 0 1 0 1-1 1-2 1-2 1-7 1-10 1-14 1-13 1-5 1 6 1 12 1 13 1 11 1 7 1 3 1 1 1 0 1 1 1 1 1 0 1-1 1 1 1 0 1 0 1-1 1 1 1 0 1 0 1 1 1 0 1 0 1-1 1 1 1-1 1 1 1 0 1-1 1 0 1 0 1 1 1-1 1 1 1 0 1 0 1-1 1 1 1 0 1 0 1-1 1 1 1 0 1 0 1 0 1 0 1 0 1-1 1 1 1-1 1 0 1 1 1-1 1 1 1-1 1 1 1 0 1-1 1 0 1 0 1-1 1 0 1 1 1-2 1 0 1 0 1 0 1 0 1 2 1-1 1-2 1-1 1 0 1 0 1 2 1 1 1 0 1 0 1-1 1-2 1-1 1 0 1 0 1 2 1 0 1 2 1-1 1 1 1 0 1 0 1 1 1 0 1 0 1 1 1 0 1-1 1 0 1 0 1 1 1-1 1 1 1 0 1 0 1 0 1-1 1 1 1 0 1 0 1-1 1 1 1 0 1-1 1 1 1-1 1 0 1 0 1 0 1-1 1 0 1 0 1 0 1-1 1 0 1-2 1-1 1-1 1 2 1 0 1 0 1 2 1 1 1 0 1 0 1-2 1-1 1-1 1 2 1-3 1 3 1 1 1 0 1 0 1 1 1 0 1-3 1 1 1-2 1 1 1-1 1 2 1 1 1 1 1-1 1 0 1 1 1 0 1 0 1 1 1 0 1 0 1 0 1 0 1 1 1-1 1 0 1 1 1 0 1 0 1-1 1 1 1-1 1 0 1 0 1-1 1 0 1 0 1 0 1-1 1-2 1 0 1-2 1 0 1 0 1 1 1 0 1 2 1 1 1 0 1 1 1 1 1-2 1-2 1-3 1-6 1-5 1-1 1 1 1 5 1 5 1 4 1 2 1 1 1 0 1 1 1-2 1-1 1-3 1-2 1-2 1 2 1 1 1 4 1 1 1 2 1 0 1-1 1-1 1 0 1 0 1 0 1 0 1-1 1-2 1-2 1-6 1-16 1-32 1-37 1-16 1 17 1 36 1 31 1 5 1-28 1-33 1-14 1 15 1 32 1 28 1 14 1 6 1 2 1 0 1 1 1 0 1 1 1-2 1-3 1-3 1-4 1-1 1 0 1 4 1 5 1 0 1 1 1 2 1 0 1 1 1 0 1-1 1-1 1-1 1 0 1-3 1 1 1 2 1 1 1 1 1 1 1-1 1-2 1-1 1 0 1-1 1 0 1 1 1 2 1-1 1 1 1-2 1 2 1-2 1 2 1 1 1 0 1 1 1 0 1 0 1 1 1 1 1-1 1 0 1 0 1 0 1 0 1 0 1 0 1 0 1-1 1-1 1 0 1-1 1-1 1 0 1 1 1 0 1 0 1 2 1 0 1 0 1 1 1 0 1 0 1 1 1-1 1 1 1 0 1 0 1 0 1-1 1 1 1-1 1 1 1 0 1 0 1 0 1 0 1-1 1 1 1 0 1 0 1 0 1 0 1-1 1 1 1 0 1-1 1 0 1 0 1-1 1 0 1-1 1 0 1 1 1-2 1 1 1 1 1 1 1 0 1 0 1 0 1 1 1-1 1 1 1-1 1 0 1 0 1-1 1-1 1 0 1-1 1 0 1 1 1-1 1 0 1 1 1 2 1-1 1 0 1 1 1-1 1 0 1-1 1 0 1-1 1 0 1-1 1 0 1 0 1 0 1 1 1 0 1 1 1 1 1 1 1-1 1 1 1 1 1-1 1 0 1 0 1 0 1 0 1 1 1 0 1 0 1 0 1-1 1 1 1 0 1-1 1 1 1-1 1 1 1 0 1-1 1 0 1 1 1-1 1 0 1 0 1 0 1 0 1 0 1-1 1 1 1-1 1 0 1 0 1-1 1 1 1-1 1-1 1-1 1-2 1 2 1-1 1-2 1-1 1-3 1-11 1-28 1-54 1-62 1-29 1 29 1 62 1 53 1 29 1 10 1 5 1 0 1 1 1 2 1 1 1 0 1 1 1 0 1 0 1 1 1 0 1 1 1 0 1-1 1 1 1 0 1 0 1 0 1 0 1 0 1 0 1 0 1 0 1 0 1 0 1 1 1 0 1 0 1 0 1 0 1 0 1 0 1 0 1-1 1 1 1 0 1 0 1 0 1-1 1 1 1 0 1 0 1 0 1 0 1 0 1 0 1 0 1 0 1 0 1 0 1 0 1 0 1 0 1 0 1 0 1 0 1 0 1 0 1 0 1 0 1-1 1 1 1-1 1 1 1 0 1-1 1 0 1 1 1-1 1 1 1-1 1 0 1 0 1-1 1 0 1 0 1-1 1-2 1-1 1 1 1 0 1 1 1 0 1 1 1 1 1-1 1 0 1 0 1 0 1-1 1 2 1 1 1 0 1 0 1 0 1 1 1 0 1 0 1-1 1-2 1-2 1-2 1 0 1 1 1 1 1 3 1 1 1 1 1-2 1 1 1-1 1 0 1 0 1-1 1-1 1-2 1-5 1-3 1-2 1 2 1 3 1 4 1 3 1 1 1 2 1 0 1-1 1 1 1 1 1-1 1 0 1 0 1 0 1-1 1 0 1-1 1 1 1-2 1 0 1 0 1 2 1 0 1 0 1 1 1 0 1 0 1 0 1 1 1-1 1 1 1 0 1-1 1 1 1 0 1-1 1 1 1 0 1-1 1 0 1 0 1 0 1 1 1-1 1 0 1 0 1-1 1 0 1-1 1 0 1-1 1-2 1-2 1 0 1 0 1 0 1 2 1 2 1 1 1 0 1 2 1-1 1 1 1 0 1 0 1 0 1 0 1 0 1 0 1-1 1 1 1-1 1-1 1-1 1 0 1-1 1-2 1 1 1-1 1 1 1 2 1 1 1 1 1-1 1-3 1 1 1 0 1 2 1-1 1 1 1 0 1 2 1 0 1-1 1 0 1 0 1-2 1 0 1 0 1 0 1-1 1 0 1 2 1 0 1 0 1 1 1 1 1-1 1 1 1 0 1 0 1 0 1 0 1 0 1 0 1 1 1 0 1-1 1 1 1-1 1 1 1 0 1 0 1-1 1 1 1-1 1 1 1-1 1 0 1 0 1-1 1-1 1-1 1 0 1-1 1 1 1 0 1-1 1 1 1 0 1 0 1 2 1 0 1 0 1 1 1 0 1 0 1 0 1 1 1 0 1-1 1 1 1 0 1 0 1-1 1 0 1 0 1 1 1-1 1 1 1-1 1 1 1 0 1 0 1 0 1 0 1 0 1 0 1 0 1 0 1 0 1 0 1 0 1 0 1 0 1-1 1 0 1 0 1 0 1 1 1-1 1 1 1-1 1-1 1 1 1-2 1 0 1-1 1 0 1 0 1-1 1 1 1 0 1 2 1 0 1 0 1 1 1 0 1 0 1 0 1 1 1-1 1 1 1 0 1 0 1-1 1 1 1 0 1 0 1 0 1 0 1-1 1 1 1-1 1 0 1 1 1 0 1 0 1-1 1 0 1 1 1-1 1 0 1 0 1-1 1 0 1-1 1 0 1-1 1-3 1 0 1 1 1 0 1 0 1 2 1 1 1 1 1 1 1 0 1 0 1-1 1-1 1 0 1-1 1-1 1-1 1 0 1 0 1 0 1 3 1 0 1 0 1 1 1 1 1 0 1 0 1 0 1 0 1 0 1 0 1 1 1 0 1 0 1 0 1 0 1 0 1-1 1 1 1 0 1-1 1-1 1-1 1-1 1-3 1-3 1 0 1 0 1 3 1 2 1 2 1 2 1 0 1-1 1-1 1-1 1-2 1-5 1-7 1-10 1-10 1-4 1 5 1 9 1 9 1 9 1 4 1 3 1 1 1 0 1 1 1 0 1 0 1 0 1-1 1 1 1 0 1-1 1 0 1 1 1-1 1 1 1 0 1 1 1-1 1 1 1-1 1 0 1 1 1-1 1 1 1-1 1 0 1 0 1-1 1 0 1 1 1-1 1 0 1-1 1-1 1-1 1-4 1-13 1-21 1-25 1-13 1 12 1 26 1 22 1 11 1 2 1 0 1-2 1-1 1-3 1-2 1-3 1-4 1-4 1-13 1-32 1-88 1-166 1-195 1-91 1 91 1 194 1 167 1 88 1 33 1 11 1-4 1-9 1-5 1 4 1 11 1 11 1 9 1 4 1 0 1 1 1 0 1 1 1 1 1-1 1 1 1 1 1 0 1 0 1 1 1-1 1 1 1 0 1 1 1-1 1 0 1 0 1 0 1 2 1-1 1 1 1 0 1 0 1 0 1-1 1 0 1 0 1 1 1 0 1-1 1 0 1 0 1 0 1 0 1-1 1 0 1-1 1 0 1-3 1-4 1-8 1-10 1-9 1-3 1 3 1 9 1 10 1 8 1 4 1 2 1-2 1 1 1 1 1 1 1 0 1 0 1 2 1 0 1 0 1 0 1 0 1 0 1 0 1-1 1 0 1 0 1 0 1-2 1 0 1-2 1 1 1-2 1-1 1 3 1 0 1 1 1 0 1 1 1 0 1 0 1 1 1 0 1 1 1 0 1 1 1-1 1 0 1 1 1 0 1 0 1-2 1 0 1 1 1-1 1-1 1-2 1-4 1-3 1 0 1 1 1 3 1 3 1 1 1 2 1 0 1-1 1-1 1 1 1-1 1 0 1-1 1 0 1-1 1 0 1-2 1-2 1-1 1-1 1-3 1-4 1-8 1-22 1-61 1-115 1-134 1-62 1 62 1 134 1 115 1 60 1 24 1 6 1 5 1 2 1 2 1 2 1 1 1 1 1 1 1 1 1 0 1 1 1 1 1-1 1-2 1-5 1-13 1-25 1-29 1-12 1 12 1 30 1 24 1 13 1 6 1-2 1-6 1-7 1-7 1-3 1 3 1 7 1 7 1 6 1 3 1 2 1 1 1-1 1 0 1 1 1-1 1 0 1 0 1-2 1 0 1-1 1-1 1-2 1 0 1 3 1 1 1 0 1 1 1 1 1 0 1 0 1 1 1-1 1-3 1-1 1 0 1 0 1 1 1 1 1 3 1 0 1 0 1 0 1 0 1 1 1 0 1 0 1 0 1-1 1 1 1-1 1 0 1 0 1 1 1-1 1-1 1 2 1-2 1 0 1 0 1 0 1 0 1 0 1 0 1 0 1 0 1 0 1 0 1-1 1-1 1-3 1-9 1-16 1-20 1-9 1 10 1 19 1 16 1 9 1 4 1 1 1-1 1-2 1 1 1-2 1 2 1 0 1-1 1 0 1-1 1 1 1 1 1 0 1 0 1 2 1 0 1 0 1 0 1 1 1 0 1 0 1 0 1 0 1 1 1-1 1 1 1-1 1 1 1 0 1 0 1 0 1 0 1 0 1 0 1-1 1 1 1-1 1 1 1 0 1 0 1-1 1 0 1 1 1-1 1 1 1 0 1-1 1 1 1 0 1 0 1 0 1-1 1 1 1-1 1 1 1 0 1-1 1 1 1-1 1 0 1 0 1-1 1 0 1-1 1-2 1-4 1-3 1 0 1 1 1 3 1 3 1 2 1 0 1 1 1 1 1-1 1 1 1 0 1 0 1 1 1-1 1 0 1 0 1 1 1 0 1 0 1-1 1 0 1 0 1 0 1 0 1 1 1-1 1-1 1 0 1 1 1-1 1 0 1 0 1 1 1 0 1 0 1 0 1 0 1-1 1 0 1 0 1-1 1 1 1-1 1-2 1-1 1 1 1-1 1 2 1-2 1 0 1 1 1 2 1-1 1 1 1 1 1 1 1 0 1 0 1-1 1 1 1-1 1 1 1-1 1-1 1 0 1-1 1-1 1 1 1 0 1 1 1 1 1 0 1 0 1 1 1 0 1 0 1 0 1 0 1 0 1 0 1 1 1-1 1 1 1 0 1-1 1 0 1 1 1-1 1 1 1 0 1 0 1 0 1-1 1 1 1 0 1 0 1 0 1 0 1 0 1 0 1 0 1 0 1-1 1 0 1 1 1-1 1-1 1 1 1-1 1 0 1 0 1 0 1 0 1 1 1 0 1-1 1-3 1-3 1-4 1-4 1-1 1 2 1 3 1 4 1 3 1 3 1 1 1-2 1-2 1-3 1-1 1-1 1 1 1 2 1 3 1 1 1 1 1 1 1-1 1 1 1-1 1 0 1 0 1-1 1 1 1-1 1-1 1 0 1-2 1-5 1-13 1-24 1-29 1-13 1 13 1 28 1 25 1 13 1-2 1-15 1-29 1-34 1-16 1 17 1 33 1 29 1 15 1 6 1 2 1 1 1 1 1 1 1 0 1 0 1 0 1 1 1 0 1 0 1 0 1 0 1 0 1 1 1-1 1 0 1 0 1 0 1-1 1 0 1 1 1-1 1-2 1-1 1 1 1-2 1 2 1 0 1 0 1 2 1 1 1 0 1 0 1-1 1 1 1-1 1-1 1-3 1-2 1-1 1 2 1 1 1 2 1 1 1 2 1 0 1 0 1 1 1-1 1 1 1 0 1 0 1 0 1-1 1 1 1-1 1 0 1 0 1-1 1 1 1-2 1-2 1 0 1-1 1-1 1 1 1 1 1-1 1 2 1-2 1 1 1 1 1 1 1-1 1 2 1 0 1 1 1 0 1 0 1-1 1 0 1-1 1 1 1-2 1 1 1 2 1-2 1 1 1-1 1 1 1 0 1-1 1 0 1 2 1 0 1-1 1 1 1-2 1 1 1-1 1 1 1 0 1 1 1 0 1 0 1 0 1 1 1 0 1 0 1-1 1 1 1-1 1 1 1 0 1-1 1 1 1 0 1 0 1 0 1 0 1-1 1 0 1 0 1 1 1 0 1 0 1 0 1 0 1 0 1 0 1-1 1 1 1 0 1 0 1 0 1 0 1 0 1 0 1 0 1 0 1 0 1-1 1 0 1 1 1-1 1 1 1 0 1 0 1 0 1 0 1 0 1 0 1 0 1 0 1-1 1 1 1 0 1-1 1 0 1 0 1 0 1 0 1 1 1-1 1 0 1 0 1 0 1 0 1 0 1-1 1 0 1 0 1 0 1-1 1 0 1-2 1 1 1-1 1 0 1 0 1 1 1-1 1-1 1-1 1-2 1-2 1-4 1-11 1-33 1-61 1-71 1-33 1 33 1 71 1 61 1 32 1 12 1 5 1 2 1 1 1 1 1-1 1 1 1 2 1-1 1 2 1 0 1 0 1 1 1 0 1 0 1-1 1 0 1 0 1 0 1 0 1 0 1 1 1-2 1 0 1 2 1 0 1-1 1 1 1-1 1 0 1-1 1 0 1-1 1 1 1-2 1 1 1-1 1-1 1-1 1 1 1 1 1 0 1 2 1 1 1 1 1 0 1 1 1 0 1 0 1 0 1 0 1 0 1 1 1 0 1-1 1 1 1-1 1 1 1-1 1 0 1 1 1 0 1 0 1 0 1 0 1 0 1 0 1 0 1 0 1-1 1 1 1 0 1-1 1 1 1 0 1 0 1-1 1 0 1 0 1 0 1 0 1-1 1 0 1-1 1 0 1-1 1-1 1 0 1-1 1 0 1 2 1 0 1-1 1 0 1 1 1 0 1 1 1 0 1 1 1 0 1 0 1 0 1 0 1-2 1-2 1-2 1-1 1 1 1 3 1 1 1 2 1 1 1 0 1 1 1 0 1-1 1 0 1 0 1-1 1 0 1-3 1-5 1-4 1-4 1-3 1 2 1 5 1 5 1 3 1 2 1 2 1 0 1 0 1 1 1 0 1-1 1 0 1-1 1-1 1 1 1 1 1 1 1-1 1 1 1 0 1 0 1 1 1-1 1 0 1 1 1 0 1-1 1 0 1 1 1-1 1-1 1-1 1-2 1-3 1-5 1-5 1-2 1 2 1 4 1 5 1 4 1 3 1 1 1-1 1 0 1 0 1 0 1 0 1 1 1 0 1 0 1 1 1-1 1 1 1-1 1 1 1-1 1 1 1 0 1-1 1 0 1 0 1 0 1 0 1-1 1-1 1 0 1-1 1-1 1-2 1-1 1 1 1 0 1 0 1 0 1-1 1 1 1 0 1 2 1-1 1 2 1 0 1 0 1 0 1-2 1-1 1 1 1-1 1 3 1 1 1-1 1 2 1 0 1 0 1 1 1 0 1 1 1-1 1 1 1-1 1 1 1 0 1 0 1 0 1-1 1 1 1 0 1-1 1 1 1-1 1 0 1-1 1 1 1 0 1 0 1-2 1 1 1-1 1-2 1 0 1-2 1 0 1 0 1 2 1-1 1 3 1 0 1 0 1 1 1-1 1 0 1-2 1-1 1 1 1 1 1 2 1 0 1 1 1 1 1-1 1-1 1 0 1 0 1 0 1-2 1-1 1 1 1-4 1 2 1 0 1 0 1 2 1 1 1 1 1 0 1 0 1 1 1 0 1 0 1-1 1 0 1-2 1 0 1 1 1-2 1 1 1 1 1 1 1 0 1 0 1 1 1 0 1 0 1 0 1 0 1 0 1 1 1 0 1 0 1 0 1 0 1 0 1 0 1-1 1 1 1 0 1 0 1-1 1 0 1 0 1 0 1 0 1 0 1 1 1 0 1-1 1 0 1 0 1-1 1-1 1 0 1 1 1 1 1-2 1-1 1 1 1-2 1 2 1-1 1 2 1 0 1 0 1 1 1 0 1 1 1-1 1 0 1 1 1-1 1 1 1 0 1 0 1-1 1 0 1 1 1-1 1 0 1 0 1 0 1 0 1-1 1 0 1 0 1 0 1 0 1 0 1-2 1-2 1-1 1 0 1 0 1 1 1 0 1 2 1 1 1-1 1 2 1 0 1 0 1 1 1 0 1 0 1-2 1 0 1 0 1-1 1-1 1-2 1 0 1-2 1 4 1 0 1 1 1 1 1 0 1 1 1 0 1 0 1 1 1 0 1-1 1-2 1-4 1-2 1 0 1 1 1 1 1 4 1 1 1 2 1 0 1 0 1 0 1 0 1 0 1-1 1 0 1-1 1-3 1-6 1-6 1-5 1-3 1 3 1 5 1 7 1 4 1 4 1 1 1 0 1 1 1 0 1 0 1 0 1-1 1 0 1-1 1-1 1 0 1-1 1-3 1 1 1 1 1 1 1-1 1 2 1 1 1 0 1 2 1-1 1 0 1-1 1 0 1 0 1 0 1-1 1-1 1 0 1-2 1-2 1-3 1-10 1-25 1-50 1-58 1-27 1 26 1 59 1 50 1 25 1 10 1 2 1 0 1-2 1-1 1-3 1-4 1-4 1-5 1-12 1-34 1-91 1-175 1-202 1-95 1 94 1 203 1 174 1 91 1 36 1 11 1 5 1 4 1 3 1-10 1-9 1-4 1 4 1 9 1 9 1 8 1 4 1 1 1 1 1 0 1-1 1 1 1-1 1 1 1 1 1 0 1 1 1 0 1 0 1 0 1 0 1-1 1 1 1 0 1 1 1 0 1 0 1 0 1 1 1-1 1 0 1-1 1 0 1 0 1-1 1 0 1 0 1-1 1 1 1-1 1 1 1 0 1 0 1-3 1 0 1-6 1-8 1-12 1-11 1-3 1 4 1 11 1 10 1 9 1 6 1 2 1 1 1 1 1 0 1 0 1 0 1 1 1-1 1 1 1 1 1-1 1 0 1 0 1 1 1-1 1 0 1 0 1 0 1 0 1-1 1 1 1-1 1-1 1-1 1-2 1 1 1-1 1-1 1 3 1 1 1 0 1 1 1 1 1-1 1 1 1 0 1 0 1 0 1 0 1 0 1 0 1-1 1-1 1-3 1-3 1-3 1-1 1 2 1 2 1 3 1 3 1 2 1 0 1-1 1 1 1-1 1 0 1-1 1 0 1-1 1-1 1 0 1 0 1-1 1 0 1-1 1-7 1-18 1-33 1-39 1-19 1 19 1 38 1 34 1 18 1 6 1 2 1 1 1 2 1-1 1 1 1 0 1 1 1 0 1 1 1 0 1 0 1-1 1-2 1 1 1-2 1-1 1-2 1-8 1-9 1-8 1-3 1 3 1 8 1 10 1 6 1-2 1-6 1-5 1-3 1 2 1 7 1 5 1 4 1 4 1 2 1-1 1 1 1 0 1 0 1 0 1 1 1-1 1 1 1 0 1-1 1 0 1 0 1 0 1 0 1 1 1-1 1 0 1 0 1-1 1 0 1 0 1-1 1 0 1-1 1-1 1-2 1 3 1 0 1-1 1 2 1 0 1 0 1 0 1-2 1 1 1-2 1 0 1 0 1 2 1-2 1 0 1-1 1-2 1 3 1 0 1 0 1 2 1 1 1 1 1 0 1 0 1 1 1-1 1 0 1-1 1 0 1-1 1-4 1-6 1-12 1-15 1-13 1-6 1 6 1 13 1 14 1 12 1 7 1 3 1 1 1 1 1 1 1 0 1 1 1-1 1 0 1 1 1 0 1 0 1 0 1 0 1 1 1-1 1 0 1 0 1 1 1 0 1-1 1 1 1 0 1-1 1 0 1 0 1 0 1 0 1 1 1 0 1 0 1 0 1 0 1 0 1 0 1 0 1 0 1 0 1 0 1 0 1 0 1 0 1 0 1-1 1 1 1 0 1 0 1 0 1-1 1 1 1-1 1 1 1 0 1-1 1 0 1 0 1 1 1 0 1-1 1 1 1-1 1 0 1 0 1 0 1-3 1-2 1-2 1-3 1-2 1 2 1 2 1 3 1 3 1 0 1 0 1 2 1-1 1 1 1 0 1 0 1 0 1 0 1 0 1 0 1 0 1-1 1 0 1-1 1 0 1-1 1 0 1 0 1 1 1 0 1 1 1 1 1 0 1 0 1 0 1-1 1 0 1-1 1 1 1 0 1 0 1 0 1-1 1 0 1-2 1 0 1-2 1 2 1 1 1 1 1 0 1 0 1 1 1 0 1 0 1 0 1-1 1 0 1-1 1-1 1-1 1 2 1 1 1 1 1 0 1 0 1 1 1 0 1 0 1 0 1 0 1-1 1 0 1 0 1 0 1 1 1-1 1 1 1 0 1 0 1 0 1 0 1-1 1 0 1 0 1-1 1-1 1 0 1-3 1 1 1-2 1 2 1 2 1-1 1 2 1 0 1 0 1-1 1-1 1-2 1-1 1 0 1 1 1 1 1 1 1 1 1 1 1 1 1 0 1 1 1-1 1 1 1 1 1-1 1 0 1 1 1 0 1 0 1-1 1 0 1-1 1-1 1-2 1-2 1-5 1-5 1-1 1 2 1 4 1 5 1 2 1 2 1 1 1 1 1 0 1 1 1-1 1 0 1 0 1 0 1 0 1 0 1-1 1 1 1-1 1-1 1 0 1 0 1 0 1-1 1-1 1 0 1-2 1-3 1-7 1-21 1-39 1-45 1-22 1 22 1 46 1 38 1 21 1 3 1-17 1-31 1-39 1-17 1 17 1 38 1 32 1 17 1 6 1 3 1 1 1 0 1 1 1 1 1-1 1 1 1 1 1 0 1-2 1 1 1-1 1-1 1 0 1-3 1 1 1-2 1 3 1 0 1 1 1 0 1 1 1 0 1 1 1 0 1-1 1-1 1-2 1-1 1 0 1-3 1 4 1 0 1 0 1 2 1 0 1 1 1-1 1-2 1 0 1 1 1 1 1 1 1 2 1 0 1 0 1 0 1-1 1 0 1 0 1 0 1 0 1-1 1 1 1 0 1 1 1 0 1 0 1 0 1 1 1-1 1 1 1 0 1-1 1 1 1-1 1 1 1 0 1 0 1-1 1 1 1 0 1 0 1 0 1 0 1 0 1 0 1-1 1 1 1 0 1 0 1 0 1-1 1 0 1 0 1 0 1 0 1 0 1 0 1 0 1-1 1-1 1 0 1-1 1 1 1-1 1 0 1 1 1 1 1 0 1 1 1 0 1 1 1-1 1 1 1 0 1 0 1-1 1 0 1 0 1 0 1 1 1-1 1 1 1 0 1 0 1 0 1 0 1 0 1 0 1-1 1 1 1 0 1 0 1 0 1 0 1-1 1 0 1 1 1-1 1 1 1 0 1 0 1 0 1 0 1 0 1 0 1-1 1 1 1 0 1 0 1 0 1 0 1 0 1 0 1-1 1 1 1 0 1 0 1 0 1-1 1 1 1 0 1 0 1 0 1 0 1-1 1 1 1 0 1-1 1-1 1 0 1-1 1 0 1 0 1 1 1 1 1-1 1 1 1 0 1-1 1 0 1 1 1-1 1 0 1 0 1-1 1 1 1 0 1-1 1 0 1-1 1 0 1 0 1-2 1-1 1-1 1-1 1-4 1-12 1-31 1-58 1-69 1-31 1 31 1 68 1 59 1 31 1 11 1 4 1 2 1 1 1 1 1-2 1 1 1 3 1 1 1 0 1 1 1 0 1 0 1 1 1-1 1 0 1 1 1 0 1 0 1 0 1 0 1 0 1 0 1 0 1 1 1-1 1 0 1 0 1 1 1 0 1 0 1 0 1 0 1-1 1 1 1 0 1 0 1 0 1 0 1 0 1 0 1 0 1 0 1-1 1 1 1 0 1 0 1 0 1 0 1 0 1-1 1 1 1 0 1 0 1 0 1 0 1 0 1 0 1 0 1 0 1 0 1 0 1 0 1 0 1 0 1 0 1 0 1 0 1 0 1 0 1 0 1 0 1-1 1 1 1-1 1 0 1 0 1 0 1-1 1 0 1 0 1 0 1-2 1 1 1 0 1 1 1-2 1 0 1-2 1 1 1-2 1 0 1 3 1 0 1 1 1 1 1-1 1 0 1-1 1-2 1 0 1 0 1 0 1 0 1 0 1 1 1 1 1 1 1 1 1 1 1 1 1-1 1 1 1 0 1-1 1 0 1 0 1-1 1-2 1-4 1-5 1-3 1-2 1 1 1 5 1 4 1 3 1 3 1 0 1 1 1 0 1 0 1 0 1 0 1 0 1 1 1-1 1 1 1 0 1-1 1 1 1-1 1 0 1 1 1-1 1 1 1 0 1-1 1 1 1 0 1-1 1 0 1 1 1-1 1 1 1-1 1 1 1 0 1-1 1 1 1-1 1 0 1 0 1 0 1 0 1 0 1-1 1 0 1-1 1-2 1 0 1-2 1 0 1 2 1 1 1-2 1 0 1 2 1 0 1 0 1 1 1 1 1 0 1 0 1 1 1 0 1 0 1 1 1-1 1 0 1 0 1 0 1 0 1-2 1-1 1 0 1-1 1 0 1 1 1-1 1 2 1 0 1 2 1 0 1 0 1 0 1 1 1-1 1 0 1 0 1 1 1-1 1 1 1 0 1-1 1 1 1 0 1 0 1-1 1 1 1 0 1 0 1 0 1 0 1 0 1 0 1-1 1 1 1 0 1 0 1 0 1 0 1 0 1-1 1 1 1 0 1 0 1 0 1 0 1 0 1 0 1 0 1-1 1 0 1 0 1 1 1-1 1 0 1 0 1 0 1-1 1 0 1-1 1-1 1 0 1-1 1 0 1-1 1 1 1 1 1 2 1 0 1-1 1-2 1 0 1-3 1 0 1 0 1 2 1 1 1 1 1 1 1 0 1-2 1-1 1 0 1-3 1 1 1 0 1 1 1 1 1 2 1 1 1 0 1 1 1 0 1 0 1 1 1 0 1 0 1 0 1 1 1-1 1 0 1 0 1 0 1 0 1 0 1-1 1 0 1-1 1-1 1-2 1-1 1-1 1 2 1 1 1 0 1 0 1 1 1 1 1 2 1-1 1 1 1-1 1 0 1 2 1 0 1-1 1 0 1 0 1 1 1 0 1-1 1 1 1 0 1 0 1 0 1 0 1 0 1-1 1 0 1 1 1 0 1 0 1 0 1 0 1-1 1 0 1 0 1 0 1 0 1 0 1-1 1 0 1 0 1 1 1-1 1-1 1-3 1-1 1-2 1 3 1-2 1 1 1 1 1 3 1-1 1 2 1 0 1 1 1 0 1-1 1 0 1-1 1 0 1 0 1 0 1 1 1 0 1 0 1-2 1 1 1-1 1-2 1 2 1-1 1 0 1-1 1 1 1-1 1 1 1 3 1-1 1 1 1 0 1 1 1 0 1 0 1 0 1 0 1 0 1 0 1-1 1-1 1-1 1-3 1-2 1-1 1 1 1 3 1 2 1 2 1 0 1 0 1 0 1 0 1-1 1-1 1-1 1 1 1-2 1-7 1-6 1-6 1-3 1 3 1 6 1 7 1 5 1 3 1 2 1 1 1-1 1 1 1 0 1 1 1-1 1 0 1 1 1 0 1-1 1 1 1 0 1-1 1 0 1 0 1 1 1-1 1 0 1 0 1 0 1 0 1-1 1 0 1 0 1 0 1 0 1-1 1 0 1-1 1 0 1-2 1-5 1-13 1-24 1-29 1-14 1 14 1 28 1 25 1 13 1 2 1-2 1-1 1-3 1-2 1-2 1-4 1-5 1-6 1-15 1-40 1-109 1-207 1-241 1-112 1 112 1 241 1 207 1 109" transform="matrix(0.41857 0 0 1 267.0 0)" vector-effect="non-scaling-stroke" fill="none" stroke="#ff9b3f" stroke-width="2.0" stroke-linejoin="round"/>
<path d="M0 1942l1 0 1 0 1-1 1-2 1-2 1-4 1-4 1-2 1 2 1 3 1 4 1-1 1 1 1-3 1-7 1-11 1-9 1-4 1 4 1 9 1 10 1 8 1 4 1 2 1 0 1-1 1-1 1 1 1-1 1 1 1 1 1 2 1 0 1 0 1 1 1-1 1 1 1 0 1 0 1 0 1 0 1 1 1 0 1 0 1-1 1 0 1 1 1-1 1 0 1 0 1-1 1-1 1-1 1 0 1-2 1-2 1 1 1 0 1 2 1 1 1 0 1-2 1-6 1-8 1-11 1-11 1-3 1 4 1 10 1 11 1 9 1 4 1 3 1 1 1 0 1 2 1-1 1-1 1 0 1 0 1-2 1-1 1-1 1 0 1 2 1-1 1 1 1 1 1 1 1 0 1 1 1 1 1-1 1 1 1 0 1 0 1 0 1 0 1-1 1-1 1 0 1-1 1-1 1-1 1-2 1 0 1 2 1 1 1 2 1 1 1 0 1 0 1 0 1 1 1 0 1-1 1-1 1-1 1 0 1 0 1 0 1 0 1 0 1 1 1 1 1 0 1 0 1 1 1-1 1 0 1-1 1 0 1 0 1 0 1-1 1-2 1-2 1-6 1-17 1-30 1-38 1-16 1 16 1 38 1 31 1 16 1 6 1 3 1 1 1 0 1 1 1 0 1 0 1-1 1-1 1-1 1-1 1-1 1 1 1 0 1 2 1-1 1-5 1-9 1-12 1-10 1-4 1 5 1 9 1 12 1 9 1 5 1 1 1-5 1-7 1-5 1-1 1 2 1 5 1 6 1 4 1 3 1 1 1 0 1 0 1-1 1-1 1 1 1-1 1-1 1-3 1 1 1 0 1 2 1 1 1 2 1-1 1-1 1-1 1 0 1 0 1 0 1-2 1 0 1 0 1 0 1 2 1-1 1 2 1 1 1 1 1 0 1 1 1 0 1 0 1 0 1 0 1 0 1 0 1 0 1-1 1 1 1-1 1-1 1-1 1 0 1-1 1 0 1 0 1 0 1 2 1 1 1 0 1 1 1-1 1 0 1 0 1-1 1-1 1-3 1-6 1-11 1-14 1-12 1-5 1 5 1 12 1 14 1 10 1 7 1 2 1 2 1 1 1-1 1 1 1 1 1 0 1 0 1 0 1 0 1 0 1 0 1 1 1 0 1-1 1 1 1 0 1 0 1 0 1 0 1-1 1 1 1-1 1 0 1 0 1 1 1 0 1-1 1 1 1 0 1 0 1 0 1-1 1 1 1-1 1 1 1 0 1 0 1-1 1 0 1 0 1 1 1 0 1-1 1 1 1 0 1 0 1-1 1 1 1 0 1 0 1-1 1 0 1 0 1 0 1-1 1-1 1-1 1 1 1 0 1 0 1 0 1 1 1 0 1-1 1-1 1-1 1 1 1 1 1 1 1-1 1 1 1-1 1-3 1 0 1-2 1 1 1 2 1 2 1 1 1-1 1 1 1 1 1-1 1 1 1 0 1 0 1 0 1 1 1-1 1 0 1 0 1 0 1 0 1 0 1 1 1 0 1 0 1 0 1 0 1-1 1 0 1 1 1-1 1 1 1 0 1 0 1-1 1 0 1 0 1 0 1 0 1 0 1-1 1-1 1 0 1 0 1-1 1-1 1 0 1-2 1 1 1 1 1 1 1 1 1 1 1-1 1-1 1 0 1-2 1-1 1 0 1 2 1 1 1 1 1 1 1 0 1-1 1-1 1 1 1-3 1 0 1 2 1 0 1 1 1-1 1 1 1 0 1 0 1 1 1 0 1 0 1 1 1 0 1 1 1 0 1 0 1-1 1 1 1-1 1 0 1 0 1 1 1-1 1 0 1 0 1 0 1-1 1 0 1 0 1 0 1-1 1-2 1 0 1-1 1-3 1 2 1 0 1 2 1 1 1 2 1 0 1 1 1-1 1 0 1-3 1-4 1-5 1-5 1-1 1 1 1 5 1 5 1 3 1 3 1 1 1 1 1 0 1-1 1-2 1-3 1-3 1 0 1 0 1 3 1 2 1 3 1 1 1-1 1 1 1-1 1 0 1-1 1 0 1-1 1-1 1-1 1-3 1-6 1-19 1-35 1-41 1-19 1 20 1 40 1 36 1 6 1-27 1-32 1-16 1 16 1 32 1 27 1 15 1 6 1 2 1 1 1 0 1 0 1 1 1-2 1-3 1-4 1-3 1-1 1 0 1 4 1 4 1 1 1 2 1 0 1 1 1 0 1 0 1 0 1-2 1-1 1-1 1-1 1 3 1 1 1-1 1 2 1 0 1 0 1-1 1-2 1-1 1 0 1 0 1 1 1 1 1 1 1 1 1-3 1 1 1 0 1 1 1 0 1 1 1 0 1 1 1 1 1 0 1-1 1 1 1 0 1 0 1 0 1 0 1 0 1-1 1 1 1-1 1 0 1-1 1 0 1-2 1 0 1 0 1 1 1 0 1 1 1 0 1 1 1 1 1 0 1 0 1 1 1-1 1 1 1 0 1 0 1-1 1 0 1 0 1 0 1 1 1 0 1 0 1 0 1 0 1 0 1 0 1 0 1-1 1 1 1-1 1 1 1 0 1-1 1 0 1 0 1 0 1 0 1-1 1 0 1-1 1 0 1 0 1 0 1 1 1 0 1 0 1 0 1 0 1 2 1-1 1 0 1 0 1 0 1 0 1-1 1-1 1-1 1 0 1 0 1 0 1 1 1 1 1 0 1 0 1 0 1 0 1 0 1 0 1 0 1 0 1-2 1 0 1 0 1-2 1 1 1-1 1 1 1 1 1 1 1 1 1 0 1 0 1 1 1 0 1 0 1 0 1 0 1 0 1 0 1 0 1 0 1 1 1 0 1 0 1 0 1 0 1-1 1 1 1-1 1 0 1 0 1 0 1-1 1 0 1 1 1 0 1-1 1 0 1 0 1 0 1 0 1 0 1-1 1 0 1 0 1-1 1 0 1 0 1-1 1-1 1-1 1-1 1-1 1-2 1-2 1-2 1-7 1-19 1-51 1-95 1-111 1-52 1 53 1 110 1 95 1 51 1 18 1 7 1 3 1 3 1 1 1 1 1 1 1 1 1 1 1 0 1 2 1-1 1 0 1 1 1 0 1 0 1 1 1 0 1 0 1 1 1 0 1-1 1 1 1 0 1 0 1 0 1 0 1 0 1 0 1 0 1 1 1-1 1 1 1-1 1 1 1 0 1-1 1 1 1 0 1 0 1-1 1 1 1 0 1 0 1 0 1 0 1 0 1 0 1 0 1 0 1 0 1 0 1 0 1 0 1 0 1 0 1 0 1 0 1 0 1 0 1 0 1-1 1 1 1-1 1 1 1-1 1 0 1 0 1 0 1 0 1 0 1 0 1-1 1 1 1-1 1 0 1 0 1-2 1 0 1 0 1-1 1 0 1 0 1 2 1 0 1 0 1-1 1 1 1 0 1 0 1 1 1-1 1 1 1 1 1 0 1 0 1 0 1 0 1 0 1 0 1-2 1-2 1-1 1 0 1 0 1 1 1 3 1 0 1 1 1 0 1 0 1 0 1 0 1-1 1-1 1-1 1-3 1-4 1-3 1-1 1 1 1 3 1 5 1 2 1 1 1 0 1 1 1 1 1 0 1 0 1 0 1 0 1-1 1 0 1 0 1 0 1-2 1 1 1-1 1 0 1 1 1 2 1-1 1 1 1 0 1 0 1 0 1 1 1 0 1-1 1 1 1-1 1 1 1 0 1 0 1-1 1 1 1 0 1-1 1 0 1 0 1 0 1 0 1 0 1 0 1 0 1 0 1-1 1-1 1 0 1 0 1-2 1-2 1-1 1 0 1 1 1 1 1 2 1 1 1 0 1 0 1 1 1 0 1 0 1 0 1 1 1 0 1 0 1 0 1 0 1-1 1 0 1 0 1-1 1-2 1 0 1-2 1 0 1 2 1 0 1 1 1 0 1 0 1 0 1-2 1 1 1 0 1 2 1-1 1 2 1 1 1-1 1 1 1 0 1-1 1 0 1-2 1 1 1-2 1-1 1 1 1 0 1 0 1 2 1 1 1 1 1-1 1 0 1 1 1 0 1 0 1 1 1-1 1 1 1-1 1 1 1 0 1 0 1 0 1 0 1 0 1 0 1-1 1 1 1-1 1 1 1 0 1-1 1 1 1-1 1-1 1-1 1-1 1-1 1 0 1 2 1-1 1 0 1 0 1-1 1 1 1 1 1 0 1 1 1 1 1 1 1-1 1 0 1 0 1 1 1-1 1 0 1 0 1 0 1 0 1 0 1 0 1 0 1 0 1 0 1 1 1 0 1 0 1 0 1 0 1 0 1 0 1-1 1 1 1 0 1 0 1-1 1 1 1 0 1-1 1 1 1-1 1 1 1 0 1-1 1 0 1 0 1 0 1-1 1 0 1 0 1-1 1-1 1 0 1 0 1-1 1 1 1 1 1 1 1 0 1 0 1 0 1 1 1-1 1 2 1 0 1-1 1 0 1 0 1 1 1 0 1-1 1 1 1 0 1 0 1 0 1 0 1 0 1-1 1 1 1 0 1-1 1 0 1 0 1 0 1 0 1-1 1 0 1 0 1 1 1-2 1-1 1 0 1-1 1 0 1-1 1-1 1 1 1 1 1 2 1-1 1 1 1 2 1 0 1-1 1 0 1 0 1-1 1-1 1-1 1 0 1-2 1 1 1 2 1 0 1 1 1 1 1 1 1 0 1-1 1 0 1 1 1 0 1 0 1 1 1 0 1-1 1 1 1 0 1 0 1-1 1 1 1-1 1 0 1-1 1 0 1-1 1-3 1-3 1-4 1-1 1 2 1 2 1 4 1 3 1 2 1-1 1-1 1 0 1 0 1-3 1-7 1-8 1-13 1-10 1-5 1 5 1 11 1 12 1 9 1 6 1 2 1 1 1 0 1 1 1 0 1 0 1 1 1-1 1 1 1-1 1 0 1 0 1 0 1 0 1 1 1 0 1-1 1 0 1 0 1 0 1 0 1-1 1-1 1 1 1-1 1 0 1 0 1-2 1 0 1-2 1-1 1-1 1-2 1-3 1-7 1-18 1-48 1-90 1-108 1-48 1 49 1 107 1 91 1 47 1 18 1 6 1 4 1 0 1-1 1-3 1-3 1-3 1-5 1-13 1-32 1-88 1-167 1-194 1-91 1 91 1 194 1 167 1 88 1 33 1 12 1-4 1-10 1-5 1 4 1 11 1 11 1 9 1 3 1 2 1-1 1 1 1 2 1-1 1 1 1 1 1-1 1 1 1 0 1 0 1 0 1 1 1 0 1 0 1 0 1 0 1 0 1 0 1 2 1 0 1 0 1 0 1 0 1-1 1 1 1 0 1 0 1-1 1 0 1 0 1 0 1 0 1 0 1 0 1-1 1 0 1 0 1-1 1-3 1-5 1-6 1-11 1-9 1-3 1 3 1 9 1 10 1 8 1 5 1-1 1 0 1 0 1 1 1 1 1 2 1-1 1 1 1 1 1 0 1 0 1 0 1 0 1 0 1 0 1-1 1 1 1-1 1 0 1-2 1-1 1-2 1-1 1 0 1 1 1 2 1 1 1 0 1 0 1 2 1 0 1 0 1 1 1 0 1 0 1 1 1-1 1 0 1 0 1 1 1 0 1-1 1 0 1 0 1-1 1-1 1-3 1-2 1-4 1 0 1 0 1 3 1 4 1 2 1 1 1 1 1 0 1 0 1 0 1 0 1-1 1 1 1 0 1-1 1 1 1-1 1 0 1-1 1-1 1 0 1-1 1-2 1-6 1-15 1-30 1-34 1-16 1 16 1 33 1 31 1 15 1 5 1 3 1 1 1 0 1 1 1 0 1 1 1 1 1-1 1 1 1-2 1 0 1-1 1 0 1-2 1-4 1-13 1-22 1-28 1-13 1 13 1 28 1 23 1 12 1 4 1-2 1-5 1-7 1-7 1-2 1 2 1 6 1 8 1 6 1 3 1 2 1 0 1 1 1 0 1 0 1-1 1 0 1 0 1-1 1-1 1-1 1-2 1-1 1 1 1 1 1 2 1 0 1 2 1 0 1 0 1 1 1-1 1-1 1-2 1-1 1 0 1 0 1 1 1 2 1 1 1 0 1 2 1 0 1-1 1 1 1-1 1 1 1 0 1 0 1 0 1 0 1-1 1 0 1 1 1-1 1 1 1-1 1-1 1 0 1-1 1 1 1-1 1 1 1 0 1 1 1-1 1 0 1 0 1-1 1-1 1-3 1-9 1-16 1-20 1-9 1 10 1 18 1 17 1 9 1 3 1 1 1-1 1 0 1-2 1 1 1 0 1 1 1 1 1-2 1-1 1 0 1 1 1 0 1 2 1 0 1 1 1 0 1 1 1 0 1 0 1 0 1 0 1 1 1 0 1 0 1-1 1 1 1 0 1 0 1 0 1 0 1 0 1 0 1 0 1-1 1 1 1 0 1-1 1 1 1 0 1-1 1 1 1 0 1-1 1 1 1 0 1 0 1 0 1-1 1 1 1 0 1 0 1-1 1 1 1-1 1 0 1 1 1 0 1-1 1 0 1 0 1 0 1-1 1-1 1-2 1-4 1-2 1-1 1 1 1 2 1 3 1 2 1 2 1 0 1 0 1 1 1 0 1 0 1 0 1 0 1 0 1 0 1 1 1 0 1 0 1-1 1 1 1-1 1 0 1 1 1 0 1-1 1 0 1 0 1 0 1-1 1 0 1-1 1 1 1 1 1 0 1 0 1 0 1 0 1-1 1 1 1-2 1 1 1-1 1-1 1-1 1-1 1-1 1 3 1-1 1 1 1-1 1-1 1 2 1 0 1 2 1 0 1 0 1 1 1 0 1 0 1 0 1 0 1 0 1-2 1 1 1-2 1-1 1 1 1-2 1 2 1 2 1-1 1 1 1 1 1 0 1 0 1 0 1 0 1 1 1 0 1-1 1 0 1 0 1 0 1 1 1 0 1 0 1-1 1 1 1 0 1 0 1 0 1 0 1-1 1 1 1 0 1-1 1 1 1 0 1 0 1 0 1 0 1-1 1 1 1-1 1 0 1 0 1 0 1-1 1-1 1 1 1 0 1 0 1 0 1 2 1-2 1 0 1-2 1-4 1-5 1-3 1-2 1 2 1 4 1 4 1 4 1 1 1 2 1-2 1-2 1-2 1-3 1-1 1 2 1 2 1 2 1 2 1 2 1 0 1 0 1 0 1-1 1 0 1 0 1 0 1 0 1-1 1 0 1-2 1-1 1-5 1-13 1-25 1-28 1-13 1 13 1 29 1 24 1 13 1-1 1-16 1-30 1-32 1-16 1 15 1 34 1 29 1 16 1 5 1 2 1 1 1 0 1 2 1-1 1 1 1 1 1 0 1-1 1 1 1 0 1 0 1 0 1 0 1 1 1-1 1-1 1 0 1 1 1 0 1-1 1-1 1 0 1-1 1-2 1 1 1-1 1 3 1 0 1 1 1 0 1 0 1 1 1 0 1-1 1-1 1-1 1-2 1-1 1-2 1 1 1 2 1 2 1 2 1 0 1 1 1 1 1-1 1 1 1-1 1 1 1-1 1 0 1 0 1 0 1 0 1 0 1-1 1 0 1-1 1 0 1 0 1-1 1-1 1-2 1 0 1 1 1 1 1 0 1-1 1 2 1 0 1 0 1 2 1 0 1 0 1 0 1 1 1 0 1-1 1 0 1 0 1 0 1 0 1 0 1 0 1-1 1 1 1-1 1 0 1 1 1 0 1 1 1 0 1-1 1 1 1-1 1-1 1 1 1-1 1 1 1 1 1 0 1 0 1 0 1 1 1-1 1 0 1 1 1-1 1 0 1 1 1 0 1-1 1 1 1 0 1-1 1 1 1 0 1 0 1 0 1 0 1-1 1 1 1 0 1-1 1 1 1 0 1 0 1 0 1 0 1 0 1 0 1 0 1 0 1 0 1-1 1 1 1 0 1-1 1 1 1 0 1 0 1-1 1 1 1 0 1 0 1 0 1 0 1 0 1 0 1 0 1-1 1 0 1 1 1 0 1 0 1 0 1-1 1-1 1 1 1-1 1 1 1-1 1 0 1 0 1 0 1 0 1 0 1 0 1 0 1-1 1 0 1 1 1-2 1-1 1-1 1 1 1 0 1-1 1 0 1-2 1-1 1-2 1-2 1-3 1-7 1-20 1-51 1-99 1-116 1-53 1 53 1 116 1 98 1 52 1 20 1 7 1 3 1 2 1 2 1 1 1 1 1 1 1 1 1 1 1-1 1 1 1 1 1 0 1 1 1 0 1-1 1 0 1 1 1 1 1-1 1-1 1 0 1 0 1 0 1 1 1 0 1 0 1-1 1 1 1-2 1-1 1 1 1 0 1-1 1-3 1 1 1 1 1-1 1 0 1 0 1 1 1 3 1-1 1 1 1 1 1 0 1 1 1-1 1 1 1 0 1 1 1-1 1 1 1-1 1 1 1-1 1 0 1 1 1 0 1 0 1 0 1-1 1 1 1 0 1 0 1 0 1 0 1 0 1-1 1 1 1 0 1-1 1 0 1 0 1 1 1-1 1 0 1 0 1 0 1-1 1 1 1 0 1-1 1-1 1-1 1-1 1-1 1 0 1 2 1 1 1-1 1 0 1-2 1 1 1 0 1 2 1 0 1 0 1 0 1 1 1 1 1-2 1-2 1-2 1-4 1-1 1 1 1 3 1 3 1 2 1 2 1 0 1 0 1 0 1 0 1 0 1 0 1 0 1-2 1-2 1-4 1-5 1-5 1-2 1 2 1 5 1 5 1 4 1 2 1 0 1 1 1 0 1 1 1 0 1-1 1-1 1 1 1-2 1 1 1 1 1 0 1 0 1 1 1-1 1 1 1 0 1 1 1-1 1 0 1 0 1 1 1-1 1 0 1-1 1 0 1-1 1-2 1-3 1-6 1-4 1-1 1 1 1 4 1 5 1 5 1 1 1 0 1 2 1-1 1-1 1 2 1-1 1 1 1 1 1 0 1-1 1 0 1 1 1-1 1 0 1 1 1-1 1 0 1 1 1-1 1 0 1-1 1 0 1-1 1 0 1-1 1-1 1-1 1 0 1 0 1 1 1-1 1-2 1-1 1 2 1 1 1-1 1 1 1 1 1 0 1 2 1 0 1-1 1-1 1 0 1-1 1 1 1 0 1 2 1 1 1 0 1 0 1 1 1-1 1 1 1 0 1 0 1 0 1 0 1 0 1 0 1 1 1 0 1-1 1 1 1 0 1 0 1-1 1 1 1-1 1 0 1 0 1 0 1-1 1 0 1-1 1 0 1-1 1-2 1-1 1 1 1 0 1 0 1 0 1 1 1 2 1 1 1 0 1-1 1-1 1-2 1 1 1 0 1 1 1 1 1 1 1 1 1-1 1 1 1-1 1 0 1 0 1-1 1-1 1-1 1-2 1 0 1 0 1 2 1 0 1 1 1 0 1 2 1 0 1 1 1-1 1 1 1 0 1-1 1 0 1-1 1-1 1-1 1 1 1 1 1 0 1 1 1 1 1 0 1 0 1 0 1 0 1 0 1 0 1 1 1-1 1 0 1 0 1 1 1 0 1-1 1 1 1 0 1 0 1-1 1 1 1 0 1-1 1 0 1 1 1-1 1 0 1 0 1 0 1 0 1 0 1 0 1 0 1-1 1 0 1 0 1 0 1 0 1-1 1-1 1 1 1-1 1 0 1 2 1 0 1 0 1 1 1 0 1 0 1 0 1 1 1 0 1 0 1 0 1 0 1-1 1 1 1 0 1-1 1 0 1 0 1 0 1 0 1-1 1 0 1 1 1-1 1-1 1 1 1-2 1 0 1 0 1-3 1 0 1-1 1 1 1 1 1 2 1 0 1 1 1 1 1 0 1 1 1 0 1 0 1-1 1 0 1 0 1-1 1 0 1-3 1 1 1-3 1 1 1 1 1 2 1 0 1 1 1 0 1 1 1 0 1 0 1 1 1-1 1 0 1-3 1-2 1-3 1 0 1 0 1 3 1 2 1 2 1 1 1 1 1 0 1 0 1 0 1 0 1 0 1-1 1-2 1-2 1-5 1-7 1-5 1-2 1 1 1 6 1 7 1 5 1 3 1 1 1 0 1 1 1 0 1 0 1-1 1 0 1 0 1-1 1 0 1-3 1 0 1-3 1 1 1 1 1 0 1 2 1 1 1 1 1 1 1 0 1-1 1 1 1-1 1 0 1-1 1-1 1-1 1 0 1-1 1-2 1-1 1-5 1-14 1-34 1-66 1-75 1-36 1 36 1 76 1 65 1 34 1 14 1 4 1 1 1-2 1-1 1-3 1-3 1-4 1-6 1-12 1-34 1-92 1-174 1-203 1-94 1 95 1 202 1 174 1 92 1 35 1 11 1 6 1 4 1 1 1-10 1-8 1-3 1 3 1 9 1 9 1 8 1 4 1 1 1 0 1 1 1-1 1 0 1 1 1-1 1 1 1 0 1 2 1 0 1 0 1 0 1 0 1-1 1 1 1 1 1-1 1 1 1 0 1-1 1 1 1-1 1 1 1 0 1 0 1-1 1 0 1-1 1 0 1-2 1 2 1-1 1 0 1-1 1-1 1-2 1-3 1-8 1-23 1-44 1-50 1-24 1 23 1 52 1 43 1 23 1 9 1 3 1 2 1 0 1 0 1 2 1 0 1 0 1 0 1 1 1 0 1 0 1 1 1 0 1 0 1 0 1 0 1 0 1 1 1-1 1 0 1-1 1-1 1-1 1 0 1-1 1-1 1 0 1 0 1 2 1 1 1 1 1 0 1 1 1 0 1 0 1-1 1 1 1 0 1 0 1 1 1-1 1-1 1-1 1-2 1-3 1-3 1-2 1 1 1 4 1 2 1 3 1 2 1 0 1 0 1 0 1-1 1 0 1 0 1-1 1 0 1 0 1-2 1 0 1 0 1-1 1-2 1-6 1-18 1-34 1-39 1-18 1 18 1 39 1 34 1 17 1 7 1 3 1 1 1 1 1-1 1 1 1 1 1 0 1 1 1-1 1 0 1 0 1 0 1-1 1 0 1-2 1-2 1-2 1-6 1-9 1-8 1-4 1 3 1 9 1 8 1 7 1-2 1-6 1-5 1-2 1 2 1 5 1 6 1 5 1 3 1 1 1 1 1 0 1 0 1 1 1-1 1 0 1 1 1-1 1 1 1-1 1 1 1 0 1-1 1 0 1 0 1 0 1 0 1 0 1 0 1 0 1-1 1 0 1-1 1 0 1-1 1-2 1 0 1 1 1 1 1 1 1 0 1 0 1 1 1-2 1-1 1-1 1 0 1 2 1-1 1-1 1-2 1 0 1-2 1 2 1 1 1 2 1 1 1 1 1 1 1 0 1 1 1 0 1-2 1 0 1 1 1-1 1-2 1-4 1-5 1-12 1-15 1-13 1-6 1 5 1 14 1 15 1 11 1 7 1 3 1 2 1 1 1-1 1 2 1-1 1 0 1 0 1 1 1 0 1 0 1 0 1 1 1 0 1-1 1 0 1 0 1 1 1 0 1 0 1 0 1 0 1-1 1 1 1 0 1-1 1 1 1-1 1 1 1-1 1 1 1-1 1 1 1 0 1 0 1 0 1 0 1 0 1 0 1 0 1-1 1 1 1 0 1 0 1 0 1 0 1-1 1 1 1-1 1 1 1 0 1 0 1-1 1 1 1 0 1-1 1 1 1-1 1 0 1 0 1 0 1 0 1-1 1-1 1-2 1-4 1-3 1-1 1 2 1 3 1 3 1 1 1 2 1-1 1 1 1 0 1 1 1 0 1 1 1-1 1 1 1-1 1 1 1-1 1-1 1 0 1 0 1-1 1 0 1 0 1 0 1 0 1 1 1 0 1 0 1 1 1 1 1-1 1 0 1-1 1-1 1 1 1 0 1 1 1-1 1-1 1 0 1-1 1-2 1-1 1 2 1 1 1 0 1 2 1 0 1 1 1-1 1 0 1-1 1-1 1 0 1-1 1-1 1 2 1 0 1 1 1 0 1 2 1 0 1 0 1 0 1 0 1 0 1-1 1 1 1 0 1 0 1-1 1 0 1 0 1 1 1 1 1-1 1 0 1 0 1 0 1-1 1-1 1 0 1 0 1-1 1-2 1 0 1 0 1 0 1 1 1 0 1 2 1 0 1 0 1 0 1-3 1 0 1-3 1 1 1 1 1 2 1 0 1 0 1 2 1 0 1 1 1 0 1 0 1 0 1 1 1 0 1 1 1-1 1 1 1-1 1 0 1 0 1 0 1-2 1-1 1-4 1-4 1-3 1-3 1 2 1 4 1 4 1 4 1 2 1 1 1 0 1 0 1 0 1 0 1 1 1-1 1 1 1-1 1 0 1 0 1 0 1 0 1 0 1-1 1 0 1 0 1 0 1 0 1-1 1-1 1-1 1-4 1-12 1-19 1-26 1-11 1 12 1 24 1 21 1 11 1-5 1-17 1-31 1-38 1-18 1 18 1 37 1 33 1 16 1 7 1 2 1 1 1 0 1 1 1 0 1 1 1 1 1 0 1-1 1 1 1-2 1-1 1 0 1-2 1-2 1 0 1 1 1 0 1 1 1 1 1 1 1 1 1 1 1 0 1-1 1 1 1-2 1-2 1 0 1 0 1-2 1 2 1-1 1 2 1 2 1-1 1 1 1 0 1-2 1-1 1 1 1 1 1 1 1 2 1 1 1-1 1 0 1-1 1 0 1 1 1-1 1-1 1 1 1 0 1 1 1 0 1 0 1 1 1-1 1 0 1 0 1 1 1 0 1 0 1-1 1 1 1 0 1-1 1 1 1 0 1-1 1 1 1 0 1 0 1 0 1-1 1 0 1 0 1 1 1 0 1 0 1 0 1-1 1 1 1 0 1-1 1 0 1 0 1 0 1-1 1 1 1-1 1 0 1-1 1-1 1-1 1 2 1 0 1 1 1 0 1 1 1 0 1 0 1 0 1 0 1 0 1 1 1-1 1 0 1 0 1 1 1 0 1-1 1 1 1 0 1 0 1 0 1-1 1 0 1 1 1 0 1-1 1 1 1 0 1-1 1 1 1 0 1 0 1 0 1 0 1 0 1-1 1 1 1 0 1 0 1 0 1-1 1 1 1 0 1 0 1 0 1 0 1-1 1 0 1 1 1-1 1 1 1 0 1 0 1-1 1 0 1 1 1 0 1 0 1 0 1 0 1 0 1-1 1 1 1-1 1 0 1-1 1 0 1 0 1 0 1-1 1 1 1 0 1 0 1 0 1 1 1-1 1 0 1 0 1 0 1 0 1-1 1 0 1-1 1-1 1-1 1 0 1-1 1-2 1-1 1-1 1-3 1-3 1-8 1-20 1-55 1-102 1-120 1-57 1 57 1 119 1 104 1 54 1 21 1 7 1 4 1 1 1 3 1 0 1 2 1 1 1 0 1 1 1 1 1 1 1-1 1 1 1 0 1 1 1 0 1 0 1 0 1 0 1 1 1 0 1 0 1 0 1 0 1 0 1 0 1 0 1 0 1 1 1 0 1 0 1 0 1-1 1 1 1 0 1 0 1 0 1-1 1 1 1 0 1 0 1 0 1 0 1 0 1 0 1 0 1 0 1 0 1 0 1 0 1 0 1 0 1-1 1 1 1 0 1 0 1 0 1 0 1-1 1 1 1 0 1 0 1 0 1-1 1 1 1 0 1 0 1 0 1-1 1 0 1 1 1-1 1 1 1 0 1-1 1 0 1 0 1 0 1-1 1-1 1 1 1-2 1 1 1 1 1-1 1 1 1-2 1 1 1-4 1 1 1 0 1 1 1 1 1 0 1 1 1 0 1-1 1-1 1 0 1-1 1 0 1 0 1 1 1 0 1-1 1 2 1 2 1 0 1 0 1 1 1 0 1 1 1-1 1 0 1 0 1 0 1-1 1-2 1-3 1-6 1-3 1-2 1 2 1 4 1 4 1 4 1 1 1 2 1 0 1 0 1 1 1 0 1 0 1-1 1 0 1 1 1-1 1 1 1 0 1-1 1 1 1 0 1 0 1 0 1-1 1 0 1 0 1 1 1-1 1 1 1 0 1-1 1 1 1 0 1 0 1 0 1-1 1 0 1 0 1 0 1 1 1-1 1 0 1-1 1 1 1-1 1-1 1 0 1-2 1 1 1-1 1-3 1 2 1 1 1 0 1 0 1 0 1 1 1 0 1 1 1 1 1 1 1 0 1 0 1 0 1 0 1 0 1 0 1 0 1 0 1-1 1 0 1 0 1-1 1 0 1-2 1 0 1 1 1 1 1 0 1 0 1 1 1 1 1 0 1 0 1 0 1 0 1 1 1-1 1 1 1 0 1 0 1-1 1 1 1 0 1-1 1 1 1-1 1 1 1-1 1 1 1 0 1 0 1 0 1-1 1 1 1 0 1 0 1 0 1 0 1 0 1 0 1 0 1 0 1 0 1-1 1 0 1 1 1-1 1 0 1 1 1 0 1-1 1 0 1 0 1 0 1 0 1 0 1-1 1 0 1 0 1-1 1-1 1 0 1 0 1-1 1 0 1 0 1 1 1 2 1-1 1 0 1-2 1-1 1 0 1-2 1 0 1 3 1 0 1 2 1 0 1-1 1 0 1 0 1-2 1-2 1 1 1 1 1-1 1 2 1 0 1 2 1 1 1 0 1 0 1 1 1 0 1 0 1 1 1-1 1 1 1-1 1 1 1-1 1 1 1-2 1 0 1 0 1-1 1 0 1-1 1-1 1-1 1-1 1 1 1-1 1 1 1 1 1 1 1 1 1 1 1 0 1 1 1-1 1 1 1 0 1 0 1 0 1 0 1 0 1 1 1-1 1 0 1 0 1 1 1 0 1 0 1-1 1 1 1 0 1 0 1 0 1-1 1 1 1-1 1 0 1 0 1 0 1 1 1-1 1 0 1 0 1 0 1 0 1-1 1 0 1-2 1 0 1 0 1-2 1-3 1 1 1 1 1 1 1 2 1 1 1-1 1 1 1 1 1 0 1 1 1-1 1 0 1-1 1 0 1 0 1 1 1 0 1 0 1 0 1-2 1 0 1-1 1-1 1 1 1-1 1-1 1 1 1 1 1 0 1 0 1 1 1 2 1 0 1 0 1 0 1 0 1 1 1 0 1 1 1-1 1 1 1-1 1-1 1-2 1-2 1-3 1 0 1 0 1 3 1 2 1 2 1 1 1-1 1 0 1 0 1-1 1-1 1 0 1 1 1-4 1-5 1-6 1-7 1-3 1 2 1 7 1 7 1 5 1 3 1 2 1 0 1 1 1 0 1 0 1 0 1 0 1 0 1 0 1 1 1-2 1 1 1-1 1 1 1-1 1 1 1 0 1 0 1-1 1 0 1 0 1 0 1-1 1 0 1-1 1 0 1-1 1 0 1-2 1 0 1-3 1-4 1-11 1-32 1-59 1-68 1-33 1 33 1 68 1 59 1 31 1 12 1 4 1-2 1-2 1-2 1-4 1-3 1-4 1-8 1-13 1-41 1-109 1-208 1-240 1-112 1 112 1 241 1 207 1 109" transform="matrix(0.41857 0 0 1 267.0 0)" vector-effect="non-scaling-stroke" fill="none" stroke="#0aaf4a" stroke-width="2.0" stroke-linejoin="round"/>
<path d="M0 1942l1-1 1 1 1-1 1-2 1-3 1-4 1-3 1-2 1 1 1 5 1 3 1 1 1 0 1-4 1-8 1-9 1-10 1-4 1 4 1 9 1 10 1 8 1 4 1 3 1 0 1-1 1-1 1 0 1 0 1 0 1 1 1 2 1-1 1 1 1 0 1 1 1 0 1 1 1-1 1 1 1 0 1 0 1-1 1 0 1 1 1-1 1 0 1-1 1 1 1 0 1-2 1 1 1-1 1-1 1-2 1 0 1-2 1 0 1 4 1-1 1 1 1-3 1-5 1-13 1-25 1-30 1-14 1 14 1 30 1 26 1 12 1 6 1 2 1 0 1 2 1-1 1 0 1 1 1-2 1 1 1-1 1-2 1-1 1 0 1 0 1 2 1 0 1 1 1 1 1 1 1 1 1-1 1 1 1 0 1 0 1 0 1 0 1 0 1-1 1-1 1-1 1 0 1-1 1-2 1-1 1 2 1-1 1 2 1 2 1 0 1 1 1-1 1 1 1 0 1 1 1-2 1-3 1-1 1 0 1 0 1 1 1 3 1 0 1-1 1 1 1-1 1 0 1-1 1-1 1-1 1-1 1-1 1-2 1-2 1-2 1-4 1-8 1-23 1-59 1-113 1-133 1-61 1 61 1 132 1 114 1 60 1 23 1 7 1 4 1 2 1 2 1 2 1 1 1 1 1 1 1 1 1-3 1-1 1 1 1 2 1 1 1-1 1-5 1-12 1-25 1-28 1-13 1 13 1 28 1 25 1 12 1 5 1 0 1-6 1-6 1-6 1-3 1 2 1 7 1 6 1 6 1 2 1 1 1 2 1-1 1-1 1 0 1-1 1-1 1 0 1-2 1 1 1 1 1 0 1 0 1 3 1-1 1-1 1-1 1-1 1-1 1 1 1 0 1-2 1-1 1 1 1 1 1 1 1 3 1 0 1 0 1 2 1-1 1 1 1 1 1-1 1 0 1 0 1 0 1 0 1-1 1 0 1 0 1 0 1-3 1 1 1-1 1-1 1 1 1 1 1 0 1 1 1 1 1 1 1-1 1 0 1 0 1-1 1-2 1-3 1-6 1-12 1-15 1-13 1-4 1 4 1 14 1 15 1 11 1 6 1 4 1 0 1 2 1-1 1 1 1 0 1 0 1 0 1 1 1-1 1 1 1 0 1 0 1 1 1 0 1 0 1-1 1 1 1-1 1 0 1 0 1 0 1 0 1 0 1 0 1 0 1 1 1 0 1 0 1 0 1 0 1 0 1 0 1-1 1 1 1 0 1-1 1 1 1 0 1 0 1 0 1 0 1 0 1-1 1 1 1 0 1 0 1 0 1 0 1 0 1-1 1 0 1 0 1 0 1-1 1 1 1-1 1-1 1-1 1 0 1 1 1 0 1 0 1-1 1-1 1-2 1 0 1 0 1 2 1 1 1 2 1-1 1-1 1 0 1-1 1-1 1-1 1 2 1 1 1 1 1 0 1 1 1 1 1 0 1-1 1 1 1 0 1 1 1-1 1 0 1 0 1 1 1 0 1 0 1-1 1 1 1 0 1 0 1 0 1 0 1-1 1 1 1 0 1-1 1 0 1 0 1 0 1 0 1 0 1 1 1-1 1 0 1-1 1 0 1 0 1-1 1 1 1-3 1-1 1 1 1-1 1 0 1 1 1 2 1 0 1 0 1 0 1-1 1-1 1-1 1 0 1 1 1 0 1 1 1 1 1 1 1 0 1 0 1-3 1-1 1 1 1-1 1 0 1 2 1 1 1-1 1 1 1 0 1 0 1 1 1 0 1 1 1 0 1 1 1 0 1-1 1 0 1 0 1 1 1-1 1 1 1-1 1 0 1 0 1 0 1 0 1 0 1 0 1 0 1-1 1-1 1 0 1 0 1-2 1 0 1-3 1 1 1 1 1 2 1 0 1 1 1 0 1 2 1-1 1-1 1-2 1-4 1-5 1-5 1-1 1 1 1 5 1 4 1 5 1 2 1 2 1 0 1-1 1-2 1-2 1-3 1-3 1-2 1 2 1 3 1 3 1 3 1 1 1 1 1-1 1 0 1 0 1-1 1 0 1 0 1-1 1-1 1-2 1-8 1-16 1-33 1-37 1-17 1 17 1 38 1 32 1 3 1-28 1-33 1-16 1 16 1 34 1 28 1 15 1 5 1 2 1 1 1 1 1 0 1 1 1-2 1-3 1-3 1-5 1 0 1 1 1 3 1 4 1 1 1 1 1 0 1 2 1 1 1-1 1 0 1-2 1 0 1-1 1-2 1 1 1 1 1 1 1 3 1 0 1 0 1-1 1-1 1-3 1 0 1-1 1 2 1 2 1 0 1 0 1-1 1-1 1 1 1 1 1 0 1 2 1 0 1 0 1 1 1 1 1 0 1 0 1-1 1 1 1 0 1-1 1 0 1-1 1 0 1 1 1-1 1-2 1 0 1 0 1-1 1 1 1 0 1 1 1 0 1 1 1 0 1 1 1 0 1 0 1 0 1 0 1 0 1 0 1 1 1 0 1-1 1 1 1 0 1-1 1 1 1-1 1 1 1-1 1 1 1-1 1 1 1-1 1 1 1-1 1 0 1 1 1 0 1 0 1-1 1 0 1 0 1-1 1 0 1 0 1-1 1 1 1-1 1 1 1 1 1 0 1 0 1 0 1 0 1 1 1-1 1 0 1-1 1 0 1 0 1-1 1-1 1 0 1 0 1-1 1 1 1 1 1 1 1 0 1 1 1-1 1 1 1-1 1 0 1 0 1-1 1 0 1 0 1-1 1-3 1 1 1 2 1 0 1 1 1 1 1 0 1 1 1 0 1 0 1 0 1 0 1 1 1-1 1 0 1 1 1 0 1 0 1-1 1 1 1 0 1 0 1 0 1-1 1 1 1 0 1-1 1 0 1 0 1 0 1 0 1 0 1-1 1 1 1-1 1 0 1 0 1 0 1-1 1 1 1-1 1 0 1 0 1-2 1 1 1-2 1 0 1-1 1-1 1-2 1-2 1-2 1-8 1-16 1-48 1-90 1-105 1-48 1 48 1 105 1 90 1 47 1 18 1 6 1 3 1 2 1 1 1 1 1 1 1 2 1 0 1 1 1 0 1 1 1 0 1 0 1 1 1 0 1 0 1 0 1 0 1 0 1 1 1 0 1-1 1 1 1 0 1 0 1 0 1 0 1 0 1 0 1 1 1 0 1-1 1 1 1-1 1 1 1 0 1 0 1-1 1 1 1 0 1 0 1 0 1 0 1-1 1 1 1 0 1 0 1 0 1-1 1 1 1 0 1 0 1 0 1 0 1 0 1 0 1 0 1 0 1 0 1 0 1 0 1-1 1 1 1 0 1 0 1 0 1-1 1 0 1 1 1 0 1-1 1 0 1-1 1 1 1-1 1-1 1 0 1-1 1 0 1-2 1 0 1 2 1 0 1 2 1-1 1 0 1 0 1-1 1 0 1 0 1 2 1 1 1-1 1 2 1 0 1-1 1 0 1 0 1-1 1-3 1-2 1-1 1-2 1 2 1 1 1 2 1 2 1 1 1 1 1-1 1 0 1 0 1-1 1-1 1-5 1-8 1-9 1-9 1-2 1 3 1 9 1 8 1 7 1 4 1 3 1 1 1 0 1 0 1 1 1 0 1 0 1 0 1 0 1-1 1-1 1-1 1 0 1 1 1-1 1 2 1 0 1 0 1 1 1 0 1 0 1 0 1 1 1 0 1-1 1 1 1 0 1-1 1 1 1 0 1 0 1-1 1 1 1 0 1-1 1 1 1-1 1 0 1-1 1 1 1 0 1-2 1 1 1-1 1 1 1-2 1-1 1-1 1-2 1 2 1-1 1 1 1 2 1 0 1 2 1-1 1 1 1 0 1 1 1 0 1 1 1-1 1 0 1 0 1 0 1-1 1 1 1-2 1 0 1-1 1-2 1-1 1 2 1-2 1 1 1 1 1 1 1 0 1 0 1 0 1-1 1 0 1 1 1 0 1 2 1 1 1 0 1 0 1 0 1-1 1 0 1 0 1-2 1-1 1 0 1 0 1 0 1 2 1 0 1 1 1 1 1-1 1 1 1 0 1 1 1-1 1 0 1 1 1 0 1 0 1 0 1-1 1 1 1 0 1-1 1 0 1 1 1 0 1 0 1-1 1 0 1 0 1 0 1 0 1-1 1-1 1-3 1-1 1 0 1 0 1 2 1 2 1-1 1-1 1 1 1 0 1 1 1 1 1 0 1 1 1-1 1 1 1 1 1-1 1 1 1 0 1 0 1 0 1 0 1 0 1 0 1 0 1 0 1-1 1 1 1 0 1 0 1 0 1 0 1-1 1 1 1 0 1 0 1-1 1 1 1 0 1-1 1 1 1-1 1 1 1-1 1 1 1 0 1 0 1-1 1 0 1-1 1 1 1 0 1 0 1-1 1-1 1 0 1-1 1-2 1 1 1 2 1-1 1 2 1-1 1 1 1 1 1 0 1 0 1 1 1-1 1 0 1 0 1 0 1 1 1-1 1 0 1 0 1 1 1 0 1 0 1 0 1-1 1 1 1-1 1 0 1 1 1 0 1-1 1 0 1 0 1 0 1 0 1 0 1 0 1-1 1-1 1 0 1-2 1-1 1-2 1 0 1 2 1 1 1 1 1 1 1 0 1 1 1 1 1 0 1 0 1-1 1-1 1 0 1-1 1-1 1-1 1 1 1 0 1 1 1 1 1 1 1-1 1 1 1 0 1 2 1-1 1 0 1 1 1-1 1 0 1 0 1 1 1-1 1 0 1 1 1-1 1 1 1-1 1 0 1-1 1-1 1-2 1-2 1-2 1-2 1 2 1 2 1 2 1 3 1 0 1 0 1 1 1-1 1-1 1-3 1-6 1-8 1-11 1-10 1-3 1 4 1 9 1 12 1 8 1 5 1 2 1 2 1 0 1 1 1 0 1-1 1 1 1 0 1-1 1 0 1 0 1 0 1-1 1 1 1 1 1 0 1-1 1 0 1 1 1 0 1-1 1 0 1 0 1-1 1 1 1-1 1-1 1 0 1 0 1-1 1-1 1-1 1-1 1-3 1-5 1-12 1-34 1-65 1-76 1-34 1 35 1 75 1 64 1 35 1 12 1 6 1-1 1 0 1-2 1-3 1-3 1-3 1-6 1-11 1-34 1-88 1-165 1-195 1-91 1 91 1 195 1 166 1 88 1 33 1 12 1-4 1-10 1-5 1 5 1 9 1 13 1 8 1 3 1 1 1 1 1 1 1 0 1 0 1 1 1 0 1 1 1-1 1 1 1 1 1-1 1 1 1 0 1-1 1 1 1 0 1 1 1 0 1 1 1-1 1 0 1 0 1 1 1 0 1-1 1 0 1 0 1 0 1-1 1 0 1 1 1-1 1 0 1 0 1-1 1 0 1-1 1-1 1-1 1-5 1-15 1-26 1-32 1-15 1 14 1 32 1 27 1 15 1 4 1 1 1 0 1 2 1 0 1 0 1 1 1 1 1 0 1 0 1 0 1 0 1 1 1 0 1 0 1 0 1-1 1 1 1-1 1-1 1 0 1-1 1-3 1 0 1 0 1 1 1 1 1 0 1 2 1 0 1 0 1 0 1 2 1-1 1 1 1 0 1 1 1-1 1 1 1 0 1 0 1 0 1-1 1 0 1-1 1 0 1-2 1-3 1-4 1-3 1-1 1 0 1 5 1 3 1 3 1 2 1-1 1 1 1-2 1 1 1-1 1 0 1-1 1 0 1-1 1-1 1-1 1-2 1-1 1-1 1-3 1-4 1-8 1-22 1-61 1-113 1-134 1-61 1 62 1 133 1 113 1 61 1 23 1 7 1 3 1 4 1 2 1 1 1 1 1 1 1 1 1 1 1 0 1 1 1 0 1 0 1-2 1-4 1-13 1-24 1-29 1-13 1 13 1 28 1 24 1 14 1 4 1-2 1-5 1-7 1-7 1-3 1 2 1 8 1 7 1 6 1 3 1 2 1 0 1 1 1 0 1 0 1-1 1 0 1 0 1-1 1-2 1-1 1 1 1-2 1 2 1-1 1 1 1 1 1 1 1 0 1 2 1-1 1 1 1-1 1-2 1-2 1 0 1 0 1 2 1 1 1 1 1 0 1 1 1 1 1 0 1-1 1 1 1 0 1 0 1 0 1-1 1 0 1 1 1 0 1-1 1 0 1 1 1-1 1-1 1 0 1 0 1 0 1 0 1-1 1 1 1 1 1 0 1-1 1 0 1-1 1-2 1-3 1-9 1-17 1-20 1-10 1 10 1 20 1 17 1 10 1 3 1 1 1 0 1-1 1-2 1 1 1-1 1 2 1 0 1 0 1-3 1 2 1 0 1 1 1 2 1 0 1 0 1 0 1 1 1 0 1 1 1 0 1-1 1 0 1 0 1 0 1 1 1-1 1 0 1 1 1 0 1 0 1 0 1 0 1 0 1 0 1 0 1 0 1 0 1-1 1 1 1 0 1 0 1 0 1 0 1-1 1 1 1 0 1-1 1 1 1-1 1 1 1-1 1 0 1 1 1 0 1-1 1 1 1-1 1 0 1 0 1 1 1-2 1 0 1-1 1-4 1-3 1-4 1-1 1 0 1 4 1 4 1 3 1 2 1 0 1 1 1 0 1 0 1 0 1 0 1 1 1 0 1-1 1 1 1 0 1 0 1 0 1-1 1 1 1 0 1-1 1 0 1 0 1 1 1-1 1 0 1-1 1 1 1-1 1 0 1 0 1 1 1 0 1 0 1 0 1-1 1 1 1-2 1 0 1 0 1 0 1-2 1-2 1 0 1 1 1 1 1-1 1 0 1 0 1 1 1 1 1 1 1 1 1 1 1 0 1 0 1 0 1 0 1 0 1-1 1 0 1-1 1 0 1-1 1-1 1 0 1 1 1 0 1 2 1 0 1 0 1 1 1 0 1 0 1 1 1 0 1 0 1 0 1-1 1 1 1-1 1 1 1-1 1 0 1 1 1-1 1 1 1-1 1 1 1 0 1-1 1 0 1 0 1 0 1 0 1 1 1 0 1 0 1 0 1 0 1-1 1 1 1-1 1 0 1 0 1 0 1-1 1 0 1 0 1 0 1 0 1 1 1-1 1 0 1-2 1-3 1-5 1-3 1-2 1 1 1 4 1 4 1 3 1 3 1 0 1 0 1-2 1-4 1-1 1-2 1 1 1 3 1 2 1 2 1 1 1 1 1 0 1 0 1 0 1 0 1-1 1-1 1 1 1 0 1-2 1 0 1-3 1-4 1-13 1-26 1-30 1-14 1 14 1 30 1 25 1 14 1-2 1-15 1-30 1-35 1-17 1 17 1 34 1 30 1 16 1 6 1 2 1 1 1 0 1 2 1-1 1 1 1 0 1 0 1 0 1 1 1 0 1 0 1 0 1 0 1 1 1-1 1-1 1 1 1-1 1 1 1-1 1-1 1-1 1-1 1 0 1 0 1 1 1 0 1 0 1 2 1 1 1 0 1-1 1 1 1-1 1-1 1-2 1-3 1-2 1-1 1 1 1 2 1 3 1 3 1 1 1-1 1 1 1 0 1 0 1 1 1-1 1 0 1 0 1 0 1 0 1 0 1-1 1 1 1 0 1-2 1 0 1 0 1-1 1-1 1-2 1-1 1 1 1 1 1 0 1 2 1-1 1-1 1 2 1 2 1-1 1 1 1 1 1 0 1-1 1 0 1 0 1 0 1-2 1 1 1 1 1 0 1 0 1 0 1-1 1 0 1 1 1 0 1 1 1 0 1 0 1 0 1-1 1 0 1-1 1 0 1 0 1 1 1 1 1 0 1 0 1 0 1 0 1 0 1 0 1 0 1 1 1 0 1-1 1 0 1 1 1 0 1 0 1 0 1 0 1-1 1 1 1 0 1-1 1 1 1 0 1 0 1 0 1-1 1 1 1-1 1 1 1 0 1 0 1 0 1 0 1 0 1 0 1 0 1 0 1-1 1 1 1 0 1-1 1 1 1 0 1 0 1 0 1 0 1 0 1 0 1 0 1 0 1 0 1 0 1-1 1 1 1 0 1-1 1 0 1 1 1-1 1 0 1-1 1 1 1 0 1-1 1 0 1 0 1 1 1-1 1 0 1 0 1 0 1 0 1-1 1-1 1-1 1-2 1 2 1-1 1-1 1 1 1-2 1-2 1-2 1-2 1-6 1-17 1-45 1-86 1-100 1-47 1 47 1 100 1 86 1 45 1 17 1 6 1 2 1 2 1 2 1 1 1 1 1 0 1 1 1 1 1 1 1 0 1 0 1 0 1 0 1 0 1 0 1 1 1 0 1-1 1 0 1 0 1 0 1 0 1-1 1 1 1 1 1 1 1-2 1 1 1-2 1 0 1 0 1 0 1-1 1-2 1 0 1 1 1-2 1 2 1-1 1 2 1 2 1 0 1 0 1 1 1 0 1 1 1 0 1 0 1 0 1 0 1 0 1 0 1 0 1 0 1 0 1 1 1 0 1 0 1 0 1 0 1 0 1 0 1 0 1 0 1-1 1 1 1 0 1 0 1 0 1 0 1 0 1-1 1 1 1 0 1-1 1 0 1 0 1 0 1 0 1-1 1 0 1 0 1 0 1-1 1-1 1-3 1 1 1 0 1 1 1 1 1 0 1 0 1-1 1 0 1 2 1-1 1 2 1 0 1 1 1 0 1-1 1-1 1-2 1-3 1-1 1 1 1 2 1 2 1 2 1 1 1 0 1 0 1 0 1 0 1-1 1-1 1-1 1-1 1-5 1-7 1-10 1-9 1-3 1 4 1 8 1 9 1 8 1 5 1 2 1 0 1 1 1 0 1 0 1 1 1-2 1 0 1 0 1-1 1 1 1 0 1 1 1 1 1 0 1 0 1 1 1-1 1 1 1 0 1 0 1-1 1 0 1 0 1 0 1-1 1-1 1-2 1-3 1-6 1-3 1-2 1 1 1 5 1 4 1 4 1 3 1 0 1-1 1 1 1 0 1-1 1 2 1 0 1 0 1 0 1 0 1 1 1-1 1 0 1 0 1 0 1 1 1-1 1 1 1-1 1 0 1-1 1 0 1 0 1-1 1-1 1 0 1-2 1-1 1 1 1 1 1-1 1-2 1 0 1 1 1 0 1 2 1 1 1-1 1 1 1 0 1 1 1-1 1-1 1-1 1-1 1 2 1 1 1 1 1 1 1 0 1 0 1 1 1-1 1 2 1-1 1 1 1-1 1 1 1-1 1 0 1 1 1-1 1 0 1 1 1 0 1-1 1 0 1 0 1 0 1 1 1-1 1 0 1 0 1 0 1-2 1 0 1-2 1 0 1-1 1-1 1 1 1 1 1 1 1 0 1 1 1 1 1-1 1-1 1-2 1-2 1-1 1 2 1 2 1 1 1 2 1 1 1 0 1 0 1-1 1 0 1 0 1 0 1-2 1 0 1-3 1 1 1 0 1-1 1 2 1 1 1 1 1 1 1 0 1 1 1-1 1 1 1 0 1-1 1 0 1 0 1-1 1-1 1 1 1-1 1 1 1 1 1 0 1 1 1 0 1 0 1 0 1 0 1 1 1-1 1 1 1-1 1 1 1 0 1 0 1 0 1 0 1 0 1-1 1 0 1 0 1 1 1-1 1 1 1 0 1-1 1 0 1 0 1 0 1 0 1-1 1 0 1 1 1-1 1-1 1 1 1 0 1 0 1-1 1-2 1 2 1 0 1 0 1 1 1 0 1 1 1 0 1 1 1-1 1 0 1 1 1-1 1 0 1 1 1 0 1 0 1 0 1 0 1 0 1-1 1 1 1-1 1 0 1 0 1 0 1 0 1 0 1-1 1-1 1-1 1-1 1 0 1-3 1-1 1 2 1 1 1 1 1 1 1 1 1 0 1 1 1 0 1 1 1-1 1 1 1-1 1-1 1 0 1 0 1-1 1-2 1 0 1 0 1-2 1 2 1 0 1 3 1 0 1 1 1 0 1 0 1 1 1 0 1-1 1-1 1-3 1-4 1-2 1-1 1 0 1 4 1 2 1 3 1 2 1 1 1 0 1-1 1 0 1 0 1-1 1-1 1-2 1-6 1-9 1-11 1-10 1-4 1 3 1 11 1 12 1 9 1 5 1 3 1 1 1 0 1 0 1 0 1 0 1 0 1-1 1 0 1-1 1-1 1-2 1-1 1-1 1 1 1 2 1 0 1 2 1 1 1 0 1 2 1-1 1 0 1-1 1 1 1-1 1-1 1 0 1-1 1-1 1-1 1-2 1-4 1-11 1-27 1-53 1-62 1-29 1 29 1 61 1 54 1 28 1 10 1 4 1-2 1 0 1-3 1-3 1-2 1-5 1-5 1-12 1-34 1-92 1-174 1-203 1-95 1 95 1 203 1 174 1 92 1 35 1 11 1 6 1 4 1 2 1-10 1-9 1-3 1 3 1 9 1 10 1 7 1 4 1 1 1 1 1-1 1 1 1-1 1 0 1 0 1 1 1 1 1 0 1 1 1 0 1 0 1 0 1-1 1 0 1 2 1 0 1 0 1 0 1 1 1-1 1 0 1-1 1 1 1 0 1-1 1-1 1 0 1-1 1-1 1 1 1 0 1 0 1-1 1-1 1-1 1-3 1-8 1-22 1-42 1-49 1-22 1 22 1 49 1 41 1 23 1 9 1 2 1 1 1 1 1 1 1 1 1 0 1 0 1 1 1 0 1 1 1 0 1-1 1 0 1 1 1 0 1 0 1-1 1 1 1 0 1 0 1-1 1 0 1-2 1-1 1 1 1-1 1-1 1 0 1 2 1 1 1 0 1 1 1 1 1 0 1 0 1 1 1-1 1 0 1 0 1 0 1 0 1-2 1-1 1-3 1-4 1-4 1-1 1 2 1 3 1 4 1 3 1 1 1 0 1-1 1 0 1-1 1 0 1-1 1-1 1-1 1-1 1-2 1-2 1-2 1-5 1-7 1-24 1-61 1-115 1-135 1-64 1 64 1 135 1 116 1 61 1 23 1 7 1 4 1 3 1 2 1 1 1 2 1 1 1 0 1 2 1 1 1 0 1 1 1-1 1 1 1-3 1 1 1-6 1-11 1-24 1-28 1-13 1 14 1 26 1 24 1 12 1 1 1-7 1-5 1-3 1 2 1 6 1 6 1 5 1 3 1 2 1-1 1 1 1 0 1 1 1-1 1 1 1 0 1-1 1 0 1 0 1 0 1 0 1 0 1 1 1 0 1-1 1 0 1 0 1-1 1 0 1 0 1-1 1 0 1 0 1-2 1-2 1 0 1 1 1 2 1 1 1 0 1 0 1 0 1-1 1-1 1 0 1 0 1-1 1 1 1 0 1-1 1-3 1 1 1 0 1 1 1 3 1 1 1 0 1 1 1 0 1 1 1 0 1-1 1 0 1 0 1 0 1-1 1-1 1-4 1-9 1-16 1-20 1-9 1 8 1 21 1 16 1 9 1 4 1 1 1 0 1 1 1 0 1 1 1 0 1 0 1 0 1 1 1-1 1 0 1 1 1-1 1 0 1 1 1 0 1-1 1 0 1 1 1 0 1 0 1 0 1 0 1-1 1 0 1 1 1 0 1 0 1 0 1 0 1-1 1 1 1 0 1 0 1 0 1 0 1-1 1 1 1 0 1-1 1 1 1 0 1 0 1 0 1 0 1 0 1 0 1 0 1 0 1-1 1 0 1 0 1 1 1 0 1-1 1 1 1-1 1 1 1 0 1 0 1-1 1-1 1-1 1-1 1-3 1-4 1-3 1-2 1 2 1 3 1 4 1 3 1 1 1 1 1-1 1 2 1 0 1 0 1 1 1-1 1 1 1-1 1 0 1-1 1 0 1 1 1-2 1 0 1-1 1 0 1 1 1-1 1 2 1 1 1 0 1-1 1 1 1 0 1 0 1-1 1-1 1 1 1 0 1 0 1 0 1 0 1-3 1 0 1-1 1 0 1-1 1 2 1 1 1 1 1 1 1 1 1 0 1-2 1 1 1-1 1-1 1-2 1 1 1 0 1 0 1 1 1 1 1 1 1 1 1-1 1 0 1 1 1 1 1-1 1 0 1-1 1 0 1 0 1 0 1 1 1 0 1 0 1 1 1-1 1 0 1 0 1-1 1 0 1 0 1-1 1-1 1-1 1-2 1 0 1-2 1 4 1 0 1 1 1 1 1 0 1-1 1-2 1-1 1 0 1-2 1 0 1 3 1 2 1 0 1 1 1 1 1 1 1-1 1 0 1 1 1 0 1 0 1 0 1 0 1 0 1 1 1-1 1-1 1 0 1 0 1-3 1-5 1-4 1-4 1-2 1 1 1 5 1 5 1 4 1 2 1 1 1 1 1 0 1 0 1 0 1 1 1-1 1 0 1-1 1 1 1 0 1-1 1 0 1 0 1 0 1-1 1 0 1-1 1 0 1-2 1-1 1-2 1-8 1-20 1-39 1-45 1-20 1 20 1 46 1 38 1 20 1 3 1-17 1-33 1-38 1-19 1 18 1 38 1 33 1 17 1 8 1 1 1 2 1 0 1 1 1 0 1 1 1-1 1 1 1 0 1 0 1-1 1 0 1-1 1-1 1-2 1-1 1-1 1 3 1 2 1 0 1 0 1 2 1 0 1 0 1 0 1-1 1-2 1 1 1-1 1-3 1-1 1 1 1 0 1 3 1 1 1 1 1-1 1-2 1-2 1 0 1 0 1 2 1 2 1 1 1 2 1 0 1 0 1 0 1 0 1-1 1-1 1 1 1 0 1 0 1 0 1 1 1 0 1 0 1 1 1-1 1 1 1 0 1 0 1 0 1 0 1-1 1 1 1 0 1 0 1 0 1-1 1 1 1 0 1 0 1-1 1 0 1 0 1 1 1 0 1-1 1 1 1-1 1 1 1 0 1 0 1 0 1-1 1 0 1 0 1 0 1-1 1 0 1-1 1 0 1-1 1-1 1 1 1 1 1 1 1 1 1 0 1 0 1 0 1 1 1-1 1 1 1 0 1 0 1 0 1 0 1-1 1 0 1 1 1 0 1 0 1 0 1 0 1 0 1-1 1 1 1 0 1 0 1 0 1 0 1 0 1 0 1 0 1 0 1 0 1 0 1 0 1 0 1 0 1 0 1 0 1 0 1 0 1 0 1 0 1 0 1 0 1-1 1 1 1-1 1 1 1 0 1 0 1 0 1-1 1 0 1 0 1 1 1-1 1 1 1 0 1-1 1 1 1 0 1-1 1 0 1-1 1 0 1 1 1-1 1 0 1 0 1 0 1 1 1-1 1 0 1 1 1 0 1-2 1 1 1 0 1-1 1 1 1-2 1 0 1-1 1 0 1 0 1-1 1-1 1-2 1-1 1-3 1-2 1-6 1-18 1-48 1-91 1-105 1-50 1 50 1 105 1 91 1 47 1 18 1 7 1 3 1 2 1 2 1 1 1 0 1 1 1 2 1-1 1 1 1 1 1 1 1-1 1 0 1 0 1 1 1 1 1-1 1 1 1 0 1 0 1 0 1-1 1 1 1 0 1 0 1 0 1 0 1 1 1 0 1-1 1 1 1 0 1 0 1 0 1 0 1 0 1 0 1-1 1 1 1 0 1 0 1 0 1 0 1 0 1-1 1 1 1 0 1-1 1 1 1-1 1 1 1 0 1 0 1 0 1 0 1 0 1 0 1 0 1 0 1 0 1 0 1 0 1 0 1 0 1-1 1 0 1 1 1-1 1 0 1 0 1 1 1 0 1-1 1 0 1-1 1 1 1 0 1-1 1 0 1-2 1 1 1-1 1 0 1 2 1-2 1 0 1-2 1 1 1-2 1 3 1 0 1 0 1 1 1 0 1 0 1 0 1-1 1-1 1-1 1 0 1 0 1-1 1-1 1 1 1 1 1 3 1 0 1 1 1 1 1 0 1-1 1 1 1-1 1 1 1-1 1-3 1-4 1-6 1-9 1-7 1-4 1 4 1 7 1 8 1 7 1 5 1 1 1 1 1 0 1 0 1 1 1 1 1-2 1 1 1 0 1 0 1 0 1 0 1 0 1 0 1 0 1 1 1 0 1 0 1-1 1 1 1 0 1 0 1-1 1 0 1 1 1 0 1-1 1 1 1 0 1-1 1 0 1 0 1 1 1 0 1-1 1-1 1 1 1-1 1 0 1 0 1 0 1-2 1-1 1 0 1-1 1 0 1 2 1-2 1 1 1-2 1 2 1 2 1 0 1 1 1 0 1 0 1 1 1 0 1 0 1 1 1-1 1 0 1 0 1 0 1-1 1 0 1-1 1-1 1-1 1 0 1 1 1 0 1 2 1 0 1 0 1 1 1 1 1-1 1 0 1 1 1 0 1 0 1 0 1-1 1 1 1-1 1 1 1-1 1 1 1 0 1-1 1 1 1 0 1 0 1 0 1-1 1 1 1 0 1 0 1 0 1-1 1 0 1 1 1 0 1-1 1 1 1 0 1 0 1 0 1-1 1 1 1-1 1 0 1 0 1 0 1 0 1 0 1 1 1-1 1 0 1-1 1 0 1 0 1 0 1-1 1-2 1 0 1-1 1-2 1-1 1 2 1 2 1 2 1 0 1-1 1 0 1-3 1 0 1-1 1 3 1-1 1 2 1 0 1 1 1 0 1 0 1-2 1-2 1-1 1 0 1 0 1 3 1 0 1 2 1 0 1 0 1 2 1-1 1 1 1 0 1 0 1 0 1 1 1-1 1 0 1 1 1 0 1-1 1-1 1 0 1 0 1 1 1-1 1-2 1 0 1-3 1 0 1 1 1-2 1 3 1 1 1 1 1 0 1 1 1 0 1 1 1-1 1 1 1 0 1 0 1 0 1 0 1 1 1 0 1 0 1-1 1 1 1 0 1 0 1 0 1 0 1 0 1 0 1 0 1 0 1-1 1 1 1 0 1-1 1 0 1 0 1 0 1 1 1-1 1 0 1 0 1 0 1-1 1-1 1 0 1-1 1 0 1-3 1 0 1-1 1 0 1 0 1 4 1 0 1 0 1 2 1 1 1-1 1 1 1-1 1 0 1-1 1 0 1 0 1 0 1 1 1 0 1 0 1-2 1 1 1-3 1 0 1 2 1-2 1 0 1 0 1 1 1 0 1 1 1 1 1 1 1-1 1 2 1-1 1 1 1 0 1 1 1-1 1 1 1-1 1 0 1-2 1-2 1-4 1-2 1-1 1 1 1 2 1 4 1 2 1 1 1 0 1 1 1-2 1 0 1 0 1-1 1-2 1-6 1-9 1-10 1-10 1-5 1 5 1 10 1 11 1 9 1 5 1 3 1 0 1 1 1 1 1-1 1 0 1 1 1 0 1 0 1 0 1 0 1 1 1-1 1 0 1 0 1 0 1 0 1 0 1 0 1-1 1 0 1 0 1 0 1 0 1-1 1-1 1 0 1 0 1-1 1-1 1-2 1-3 1-9 1-25 1-47 1-53 1-25 1 25 1 54 1 46 1 25 1 9 1 0 1-2 1-1 1-2 1-4 1-3 1-4 1-8 1-13 1-42 1-108 1-207 1-241 1-112 1 111 1 242 1 207 1 109" transform="matrix(0.41857 0 0 1 267.0 0)" vector-effect="non-scaling-stroke" fill="none" stroke="#ff4545" stroke-width="2.0" stroke-linejoin="round"/>
<path d="M0 1942l1 0 1-1 1 0 1-2 1-5 1-4 1-4 1-1 1 1 1 4 1 5 1 3 1-2 1-4 1-8 1-10 1-11 1-4 1 4 1 10 1 11 1 8 1 5 1 2 1 1 1-2 1-1 1 0 1 1 1 1 1 1 1 1 1-1 1 1 1 1 1 0 1 0 1 0 1 0 1 0 1 0 1 0 1 0 1 0 1 0 1 0 1 0 1-1 1 1 1-1 1 0 1 0 1-2 1 0 1-2 1-2 1 0 1 3 1-1 1 2 1 1 1-3 1-6 1-9 1-13 1-10 1-5 1 5 1 11 1 12 1 9 1 6 1 2 1 1 1 1 1 0 1 0 1 0 1-1 1-1 1 0 1-3 1 1 1-1 1-1 1 2 1 2 1 1 1-1 1 1 1 1 1 1 1-1 1 1 1 0 1 0 1 0 1 0 1-1 1 0 1-1 1-2 1 1 1-2 1-3 1 1 1 1 1 1 1 2 1 0 1 2 1 1 1-1 1 0 1 1 1-1 1-1 1-2 1 0 1 1 1 0 1 1 1 0 1 1 1 0 1 0 1 1 1 0 1-1 1 0 1 0 1-1 1 0 1 0 1-2 1-1 1-2 1-5 1-18 1-32 1-38 1-18 1 18 1 37 1 33 1 17 1 6 1 3 1 1 1 0 1 1 1 0 1 0 1-1 1 0 1-1 1-1 1 0 1 0 1 0 1 1 1-1 1-6 1-9 1-12 1-11 1-4 1 3 1 12 1 12 1 9 1 5 1 1 1-4 1-6 1-6 1-1 1 2 1 5 1 6 1 4 1 3 1 1 1 1 1 0 1-2 1 0 1 0 1-2 1-1 1-1 1 1 1 0 1 0 1 2 1 0 1 1 1-1 1 1 1-2 1-2 1 1 1-1 1 0 1-1 1 1 1 1 1 1 1 1 1 1 1 1 1 0 1 1 1 0 1-1 1 1 1 0 1 1 1-2 1 1 1 0 1-1 1 0 1-1 1 1 1-3 1-1 1 1 1 0 1 2 1-1 1 1 1-2 1 0 1 0 1-2 1 0 1-3 1-2 1-4 1-13 1-35 1-67 1-77 1-37 1 37 1 78 1 65 1 36 1 14 1 4 1 2 1 1 1 1 1 1 1 2 1 0 1 1 1 0 1 1 1 0 1 0 1 0 1 0 1 0 1 0 1 1 1-1 1 1 1-1 1 1 1 0 1 0 1 0 1 0 1 0 1 0 1 0 1 1 1 0 1 0 1 0 1 0 1 0 1 0 1 0 1 0 1 0 1 0 1 0 1 0 1-1 1 1 1 0 1 0 1-1 1 1 1 0 1 0 1-1 1 0 1 1 1-1 1 0 1 0 1-1 1 0 1 0 1-1 1 0 1 0 1-1 1 3 1-1 1-1 1-1 1 0 1 0 1 1 1 1 1 0 1-1 1-1 1 0 1-2 1-1 1 0 1 1 1 2 1 1 1 1 1 0 1 0 1 0 1 1 1 1 1-1 1 0 1 0 1 1 1-1 1 1 1 0 1 0 1 0 1 0 1 0 1 0 1 0 1 0 1 0 1-1 1 0 1 1 1 0 1 0 1 0 1-1 1 0 1 0 1 0 1-1 1 0 1-2 1-1 1-1 1 1 1 0 1 0 1-1 1 1 1-2 1 3 1 0 1 1 1 0 1 1 1-2 1 0 1-2 1 1 1 0 1 1 1 0 1 0 1 2 1 0 1-1 1-2 1 0 1 1 1-2 1 0 1 2 1 1 1 0 1-1 1 1 1 1 1 0 1 0 1 1 1 0 1 0 1 0 1 0 1 1 1-1 1 1 1 0 1-1 1 0 1 0 1 0 1 1 1-1 1-1 1 0 1 1 1-1 1-2 1 1 1-1 1-2 1-1 1 0 1-1 1 2 1 1 1 1 1 1 1 1 1 0 1 0 1-2 1-2 1-4 1-7 1-5 1-2 1 2 1 6 1 6 1 4 1 3 1 1 1 1 1 0 1-2 1-2 1-2 1-2 1-2 1 2 1 2 1 2 1 3 1 0 1 0 1 0 1 0 1 0 1-1 1 0 1-2 1-1 1 0 1-3 1-7 1-19 1-36 1-43 1-20 1 20 1 43 1 36 1 9 1-28 1-33 1-14 1 14 1 32 1 28 1 15 1 6 1 1 1 1 1 1 1 0 1 1 1-3 1-3 1-5 1-3 1-2 1 1 1 5 1 4 1 4 1-1 1 2 1 0 1 1 1 0 1-2 1 1 1-4 1 1 1-2 1 1 1 3 1 0 1 2 1-1 1 1 1-2 1-1 1-2 1 2 1-2 1 1 1 2 1 1 1-1 1-1 1 1 1 0 1 0 1 0 1 1 1 1 1 1 1 0 1 0 1 0 1 1 1-1 1 0 1 0 1 1 1-1 1-1 1 0 1 0 1-1 1 0 1 0 1 0 1-2 1 0 1 2 1 0 1 0 1 0 1 1 1 1 1 0 1 0 1 0 1 0 1 1 1-1 1 0 1 1 1 0 1 0 1 0 1-1 1 0 1 0 1 1 1-1 1 0 1 1 1 0 1 0 1 0 1 0 1-1 1 1 1 0 1 0 1 0 1-1 1-1 1 0 1 0 1 0 1-2 1 1 1 0 1 1 1 0 1 1 1 0 1 0 1 0 1 0 1 0 1 0 1 0 1-1 1 0 1 0 1-2 1-1 1 0 1 1 1 1 1 0 1 1 1 0 1 0 1 1 1 0 1 0 1-1 1 0 1 0 1-3 1 0 1-1 1 0 1 1 1-1 1 1 1 2 1 1 1 0 1 1 1 0 1 0 1 0 1 0 1 0 1 0 1 0 1 0 1 1 1 0 1-1 1 1 1-1 1 1 1 0 1 0 1 0 1-1 1 0 1 0 1 1 1 0 1-1 1 0 1 1 1-1 1 0 1-1 1 1 1 0 1-1 1 1 1-1 1 0 1 0 1 0 1-1 1-1 1-1 1-2 1 2 1-1 1-1 1-2 1-4 1-10 1-29 1-55 1-63 1-28 1 29 1 63 1 54 1 28 1 11 1 4 1 2 1 1 1 1 1 0 1 1 1 1 1 0 1 1 1 0 1 0 1 0 1 0 1 0 1 1 1 0 1-1 1 0 1 1 1 0 1 0 1 0 1 0 1 0 1 0 1 1 1-1 1 0 1 1 1 0 1 0 1 0 1 0 1-1 1 0 1 1 1 0 1 0 1 0 1 0 1 0 1 0 1 0 1 0 1 0 1 0 1 0 1 0 1 0 1 0 1-1 1 1 1-1 1 1 1-1 1 1 1-1 1 1 1-1 1 1 1-1 1 1 1-1 1 1 1-1 1 0 1 1 1-1 1 0 1 1 1-1 1 0 1-1 1 0 1 0 1-1 1 0 1 0 1-4 1 1 1 1 1 1 1 0 1 1 1 0 1 0 1-1 1-1 1 2 1 0 1 1 1 0 1 1 1 1 1-1 1 1 1 0 1-1 1-1 1-1 1-2 1-1 1-1 1 0 1 3 1 1 1 1 1 2 1-1 1-1 1 0 1 1 1-1 1-1 1-1 1-5 1-4 1-3 1-2 1 1 1 4 1 5 1 3 1 2 1 1 1 1 1 0 1 0 1 0 1 1 1-1 1-1 1 0 1 0 1-1 1 0 1-2 1 0 1 2 1-1 1 2 1 1 1-1 1 1 1 1 1-1 1 0 1 0 1 0 1 0 1 0 1 0 1 0 1 0 1 0 1 1 1-1 1 1 1 0 1-1 1 1 1-1 1 0 1 0 1 0 1-1 1 1 1-1 1-1 1-1 1-2 1-1 1-1 1-1 1 2 1 0 1 2 1 2 1 0 1 1 1 1 1-1 1 1 1 1 1-1 1 0 1 0 1-1 1 1 1-1 1 0 1 0 1-1 1 0 1-3 1 0 1 0 1 1 1 0 1 0 1 1 1 1 1-1 1 0 1 0 1-1 1 2 1 0 1 1 1 0 1 0 1 1 1-1 1 0 1-1 1 1 1-2 1-1 1 1 1 0 1 0 1 0 1 1 1 1 1 1 1-1 1 1 1 0 1 0 1 1 1-1 1 0 1 0 1 0 1 1 1 0 1 0 1-1 1 1 1-1 1 0 1 1 1 0 1 0 1 0 1-1 1 1 1-1 1 0 1-1 1-1 1-1 1-1 1 0 1 2 1 0 1-1 1-2 1 2 1 1 1 0 1 1 1 1 1-1 1 1 1 1 1-1 1 0 1 0 1 0 1 0 1 1 1 0 1 0 1-1 1 1 1 0 1 0 1 0 1 0 1 0 1 0 1 0 1 0 1 0 1 0 1 0 1-1 1 1 1 0 1-1 1 1 1 0 1 0 1 0 1 0 1-1 1 1 1-1 1 1 1-1 1 0 1 0 1-1 1 0 1-1 1 0 1-3 1 2 1 0 1 1 1 0 1 0 1 1 1 0 1 1 1 0 1 0 1 0 1 0 1 0 1 1 1-1 1 1 1-1 1 1 1-1 1 0 1 1 1-1 1 1 1 0 1-1 1 1 1-1 1 0 1 0 1 1 1 0 1-1 1 0 1 0 1 0 1-1 1 0 1-2 1 0 1-2 1 0 1 0 1-1 1 1 1 1 1 1 1 1 1 0 1 1 1 0 1 1 1-1 1 0 1-1 1-1 1-1 1-1 1-1 1 2 1 0 1 1 1 1 1 1 1 0 1 1 1 0 1 0 1 0 1 0 1 0 1 1 1-1 1 0 1 0 1 1 1 0 1 0 1 0 1 0 1-1 1 0 1 0 1-2 1-1 1-3 1-3 1 0 1 0 1 3 1 2 1 2 1 1 1 0 1 0 1 0 1-2 1-1 1-6 1-8 1-9 1-10 1-3 1 3 1 10 1 10 1 8 1 4 1 3 1 1 1 0 1 0 1 0 1 1 1 0 1 0 1-1 1 0 1 0 1 0 1 0 1 0 1 1 1 0 1 0 1 0 1 0 1 0 1 1 1-1 1 0 1 0 1 0 1 0 1 0 1-1 1 1 1-1 1 0 1 0 1-1 1 0 1-2 1-5 1-12 1-23 1-26 1-13 1 13 1 27 1 22 1 12 1 3 1-2 1-1 1-2 1-1 1-3 1-2 1-4 1-5 1-13 1-32 1-88 1-168 1-195 1-91 1 91 1 195 1 167 1 88 1 33 1 13 1-7 1-10 1-5 1 4 1 12 1 12 1 9 1 5 1 0 1 1 1 1 1 0 1 1 1 0 1 0 1 1 1 0 1 0 1 0 1 0 1 0 1 1 1 1 1-1 1 0 1 0 1 0 1 2 1 0 1 0 1-1 1 0 1 0 1 1 1 0 1-1 1 0 1 0 1 0 1 0 1 0 1 0 1-1 1 1 1-1 1 0 1-2 1-2 1-5 1-9 1-10 1-9 1-5 1 5 1 9 1 11 1 8 1 5 1-1 1 2 1 0 1 1 1 1 1 0 1 0 1 0 1 2 1 0 1 0 1 0 1 0 1 0 1-1 1 1 1 0 1-2 1 0 1-2 1 1 1-1 1-3 1 0 1 1 1 2 1 1 1 0 1 0 1 1 1 0 1 1 1 1 1 0 1-1 1 1 1 0 1 1 1-1 1 1 1 0 1-1 1 0 1-1 1 0 1-1 1-3 1-3 1-2 1-2 1 1 1 3 1 3 1 3 1 0 1 2 1-1 1 1 1 0 1 0 1 0 1-1 1 1 1-1 1 0 1 0 1 0 1-1 1-1 1-1 1 0 1-2 1-6 1-16 1-31 1-35 1-16 1 16 1 35 1 31 1 16 1 6 1 1 1 2 1 0 1 1 1 1 1-1 1 1 1 0 1 0 1 0 1 0 1-1 1-1 1-2 1-4 1-13 1-23 1-26 1-13 1 12 1 28 1 23 1 12 1 4 1-3 1-5 1-8 1-7 1-3 1 3 1 7 1 7 1 7 1 3 1 2 1 1 1 0 1 1 1 0 1 0 1-1 1-1 1-1 1 0 1-3 1 2 1-2 1 0 1 2 1 1 1 1 1 1 1 0 1 0 1 0 1 0 1-2 1-3 1-2 1 0 1 0 1 2 1 2 1 3 1 1 1 0 1 1 1-1 1 1 1-1 1 1 1-1 1 0 1 0 1 1 1 0 1 0 1-1 1 0 1 0 1 0 1 0 1-1 1 0 1 0 1 0 1 0 1 0 1 0 1 0 1-1 1 0 1-1 1-1 1-4 1-10 1-20 1-23 1-11 1 10 1 24 1 20 1 10 1 5 1 1 1 0 1 0 1-3 1 0 1 2 1 1 1-1 1-3 1 2 1-1 1 0 1 2 1 1 1 1 1 0 1 0 1 1 1 0 1 0 1 0 1 0 1 0 1 0 1 1 1 0 1 0 1-1 1 0 1 1 1 0 1 0 1 0 1 0 1 0 1 0 1 0 1 0 1 0 1-1 1 1 1-1 1 1 1 0 1 0 1-1 1 1 1 0 1 0 1-1 1 1 1-1 1 1 1 0 1 0 1 0 1-1 1 1 1-1 1 1 1-1 1 0 1-1 1-1 1-3 1-3 1-3 1 0 1 0 1 3 1 3 1 2 1 2 1 0 1 0 1 1 1 0 1 0 1 0 1 1 1 0 1-1 1 0 1 1 1-1 1 1 1 0 1 0 1-1 1 0 1 1 1-1 1 0 1 0 1-1 1 0 1 0 1 0 1 0 1 1 1 0 1 0 1-1 1 1 1 0 1 0 1-1 1 0 1-1 1-2 1 0 1-1 1 0 1 1 1-1 1 0 1 1 1 0 1 1 1 1 1 0 1 1 1 1 1-1 1 1 1-1 1 1 1-1 1 0 1 0 1-1 1-1 1 1 1-2 1-1 1 3 1 0 1 1 1-1 1 2 1-1 1 1 1 0 1 1 1-1 1 0 1 0 1 0 1 1 1-1 1 1 1-1 1 1 1 0 1-1 1 1 1 0 1 0 1 0 1 0 1 0 1 0 1-1 1 1 1 0 1-1 1 1 1 0 1-1 1 1 1-1 1 0 1 0 1 0 1-1 1 0 1 0 1 1 1-1 1 1 1 0 1 0 1-2 1-2 1-4 1-5 1-5 1-2 1 2 1 5 1 5 1 3 1 4 1 0 1-1 1-3 1-3 1-4 1 0 1 0 1 3 1 4 1 2 1 2 1 1 1-1 1-1 1 1 1 0 1-1 1-1 1 0 1-1 1 0 1-2 1-3 1-9 1-22 1-41 1-49 1-24 1 24 1 49 1 42 1 22 1 5 1-15 1-30 1-32 1-16 1 15 1 33 1 30 1 15 1 7 1 1 1 0 1 2 1 0 1 1 1 0 1 0 1 1 1 0 1-1 1 0 1 1 1 0 1 0 1 1 1-1 1 1 1-1 1-1 1 0 1 0 1-1 1-1 1 1 1-3 1-1 1 1 1 3 1 0 1 0 1 1 1 1 1 0 1 0 1 0 1-1 1-1 1-3 1-2 1-1 1 1 1 2 1 2 1 2 1 0 1 1 1 1 1 0 1 0 1-1 1 0 1 0 1 0 1 0 1 1 1-1 1 0 1 0 1 0 1-1 1-1 1 1 1-3 1-1 1 0 1-2 1 1 1 1 1 3 1-3 1 2 1-1 1 1 1 1 1 0 1 1 1 1 1 0 1 0 1-1 1-1 1 0 1 1 1 0 1 0 1 0 1 0 1-1 1 0 1 1 1-1 1 1 1 1 1-1 1 1 1-1 1 0 1 0 1 0 1-1 1 0 1 1 1 0 1 1 1 0 1 0 1 0 1 0 1 1 1-1 1 1 1 0 1-1 1 1 1-1 1 1 1 0 1-1 1 1 1-1 1 1 1 0 1 0 1 0 1 0 1 0 1-1 1 0 1 1 1-1 1 1 1 0 1 0 1 0 1-1 1 0 1 0 1 1 1 0 1 0 1-1 1 1 1 0 1 0 1-1 1 1 1 0 1 0 1 0 1 0 1 0 1-1 1 1 1 0 1 0 1 0 1 0 1 0 1 0 1-1 1 0 1 0 1 1 1-1 1 0 1 0 1 0 1 0 1 0 1 0 1 0 1-1 1 1 1-1 1-1 1-1 1-2 1 0 1-1 1 2 1 0 1 0 1-1 1-1 1-2 1-2 1-4 1-12 1-33 1-62 1-71 1-34 1 33 1 72 1 62 1 33 1 12 1 4 1 3 1 1 1-1 1 0 1 3 1 1 1 0 1 1 1 0 1 1 1 0 1-1 1 1 1 0 1-1 1 0 1 0 1 1 1-1 1 0 1-1 1 1 1 1 1 0 1 0 1-1 1 0 1 1 1-2 1-1 1 0 1 0 1-2 1 0 1 0 1-1 1-2 1 3 1 2 1 1 1 1 1 0 1 1 1 0 1 0 1 1 1 0 1 0 1 0 1 0 1 0 1 1 1 0 1 0 1 0 1-1 1 0 1 1 1 0 1 0 1 0 1-1 1 1 1 0 1 0 1 0 1 0 1-1 1 1 1 0 1 0 1 0 1-1 1 0 1 1 1-1 1 0 1-1 1 1 1-1 1 0 1-1 1 0 1-1 1 0 1-1 1-2 1 3 1 0 1 0 1-1 1 1 1-1 1 0 1 2 1-1 1 3 1-1 1 0 1 1 1-1 1-2 1-2 1-2 1 0 1 1 1 1 1 2 1 2 1 1 1 0 1 0 1 0 1 0 1 0 1 0 1-1 1-2 1-2 1-5 1-6 1-4 1-3 1 3 1 5 1 5 1 5 1 2 1 1 1 0 1 1 1 1 1-1 1 0 1 0 1-2 1 0 1 1 1 1 1 0 1 0 1 1 1 0 1 1 1-1 1 0 1 1 1-1 1 0 1 1 1-1 1 0 1 0 1-1 1-1 1-2 1-5 1-5 1-6 1-2 1 3 1 4 1 6 1 4 1 3 1 2 1-1 1-1 1 1 1 0 1 0 1 1 1 0 1 0 1 0 1 0 1 0 1 0 1 0 1 0 1 0 1 0 1 0 1 1 1-1 1 0 1 0 1-1 1-1 1-1 1-1 1 0 1-1 1 0 1-1 1 0 1-1 1 1 1 0 1 1 1 2 1 0 1-1 1 0 1 1 1 1 1-1 1-1 1-1 1 0 1 1 1 0 1 1 1 1 1 1 1 1 1 0 1-1 1 1 1 0 1 0 1 1 1-1 1 0 1 1 1-1 1 1 1 0 1 0 1-1 1 0 1 1 1-1 1 0 1 0 1 0 1 0 1-1 1 0 1-1 1 0 1-1 1 0 1-3 1-2 1 2 1 1 1 2 1 0 1 1 1 0 1 1 1 0 1-2 1-1 1 0 1 0 1 1 1 2 1 1 1 0 1 0 1 0 1 0 1 0 1-1 1-1 1-1 1-1 1-1 1 1 1-2 1 2 1 1 1 0 1 1 1 0 1 1 1 0 1 1 1 0 1 0 1-1 1-1 1 0 1-1 1 1 1-1 1 0 1 1 1 1 1 0 1 1 1 1 1 0 1-1 1 1 1 0 1 0 1 0 1 0 1-1 1 1 1-1 1 0 1 1 1 0 1 0 1 0 1 0 1 0 1 0 1 0 1 0 1-1 1 0 1 0 1 1 1-1 1-1 1 0 1 0 1 0 1 0 1 0 1 0 1-1 1-1 1 0 1 1 1-1 1 2 1-1 1 0 1 2 1 0 1 0 1 1 1-1 1 0 1 0 1 1 1 0 1 0 1 0 1-1 1 1 1 0 1 0 1-1 1 0 1 1 1-1 1 0 1 0 1-1 1-1 1 1 1-2 1 0 1-1 1-3 1 1 1-2 1 2 1 0 1 3 1-1 1 3 1-1 1 1 1 1 1 0 1-1 1 0 1 0 1 0 1-1 1-1 1 0 1-2 1-2 1 2 1-2 1 3 1 1 1 0 1 1 1 1 1 0 1 1 1 0 1 0 1-2 1-2 1-3 1-2 1 0 1 0 1 2 1 3 1 3 1 0 1 2 1-1 1 0 1 0 1-1 1 1 1-1 1-2 1-3 1-6 1-7 1-6 1-3 1 3 1 6 1 8 1 5 1 3 1 2 1 1 1 0 1-1 1 0 1 1 1-1 1 0 1 0 1-2 1-1 1-2 1 0 1 1 1 0 1 1 1 0 1 0 1 3 1 0 1 1 1 0 1-1 1 0 1-1 1 0 1-1 1-1 1 0 1-1 1 0 1-3 1-3 1-10 1-26 1-51 1-59 1-28 1 28 1 59 1 50 1 27 1 10 1 3 1-2 1-1 1-2 1-2 1-3 1-5 1-5 1-12 1-34 1-93 1-174 1-205 1-95 1 96 1 204 1 174 1 93 1 34 1 12 1 6 1 3 1 1 1-11 1-8 1-5 1 4 1 9 1 12 1 8 1 4 1 1 1 1 1 0 1-1 1-1 1 2 1 0 1 0 1 2 1 0 1 0 1-1 1 1 1-1 1 0 1 1 1 1 1 0 1 0 1 0 1 1 1 0 1-1 1 1 1-1 1 0 1-1 1 0 1-1 1-1 1 1 1 0 1 0 1 0 1 0 1-1 1-1 1-1 1-6 1-10 1-13 1-10 1-5 1 5 1 11 1 13 1 8 1 6 1 3 1 1 1 0 1 1 1 0 1 0 1 1 1-1 1 2 1-2 1 1 1 0 1 0 1 1 1-1 1 0 1 0 1 0 1 0 1-1 1 0 1-1 1 0 1-2 1 0 1 0 1-1 1 1 1 1 1 0 1 1 1 0 1 1 1 0 1 1 1 0 1 0 1 0 1 0 1 0 1 0 1-1 1-1 1-2 1-4 1-3 1 0 1 0 1 3 1 4 1 2 1 1 1 1 1 0 1-1 1 1 1 0 1-1 1-2 1 0 1 0 1-1 1 1 1 0 1-2 1-2 1-7 1-18 1-34 1-40 1-19 1 19 1 39 1 35 1 18 1 7 1 2 1 1 1 1 1 1 1 0 1 1 1-1 1 1 1 1 1 0 1-1 1-1 1 0 1-1 1-1 1-1 1-4 1-7 1-9 1-9 1-4 1 4 1 9 1 9 1 8 1-3 1-7 1-6 1-3 1 3 1 6 1 7 1 6 1 2 1 2 1 0 1 1 1 0 1 0 1 0 1 0 1 0 1 1 1 0 1 0 1 0 1-1 1 1 1 0 1-1 1 0 1 0 1 0 1 0 1 0 1-1 1 0 1-1 1-1 1-1 1-1 1 0 1 1 1 1 1 1 1 0 1 1 1-1 1-1 1-1 1-1 1 1 1 0 1 0 1 0 1-3 1 1 1 0 1-2 1 3 1 2 1 0 1 1 1 1 1 0 1-2 1 0 1-1 1 0 1-1 1-2 1-1 1-4 1-11 1-28 1-53 1-63 1-29 1 28 1 64 1 53 1 28 1 12 1 3 1 2 1 0 1 1 1 1 1 2 1-1 1 2 1-1 1 1 1 0 1 0 1 0 1 0 1 0 1 1 1 0 1 0 1 0 1 0 1 0 1 1 1 0 1-1 1 1 1-1 1 1 1 0 1 0 1 0 1 0 1 0 1 0 1 0 1 0 1 0 1 0 1 0 1 0 1 0 1 0 1 0 1 0 1-1 1 1 1 0 1 0 1 0 1 0 1-1 1 1 1 0 1 0 1 0 1-1 1 0 1 1 1 0 1 0 1-1 1 1 1-1 1-1 1-1 1-2 1-3 1-3 1-2 1 1 1 4 1 3 1 1 1 2 1-1 1 0 1 2 1 0 1 0 1 0 1 0 1 0 1 0 1 0 1 0 1-1 1 0 1-1 1-1 1 1 1-2 1 1 1 1 1 1 1-1 1 1 1 1 1 0 1 0 1 0 1 0 1-1 1 0 1-1 1 1 1 0 1-1 1-1 1-1 1 0 1-2 1 2 1 0 1 0 1 2 1 1 1 1 1 0 1-1 1 0 1-2 1-1 1 0 1 0 1 0 1 2 1-1 1 1 1 1 1 1 1 0 1 0 1 0 1 0 1 0 1 0 1 0 1 0 1-1 1 0 1 0 1 1 1 0 1 0 1 0 1 0 1 0 1 0 1-1 1 0 1-1 1-2 1-1 1 0 1-2 1-1 1 3 1 2 1 0 1 1 1-1 1 0 1-1 1-2 1 0 1-2 1 1 1 1 1 1 1 2 1 1 1 1 1 0 1 0 1 0 1 2 1-1 1 1 1-1 1 0 1 0 1 0 1 0 1 0 1 0 1-2 1-1 1-4 1-4 1-3 1-3 1 2 1 4 1 4 1 4 1 2 1 0 1 1 1 0 1 0 1 0 1 1 1-1 1 0 1 1 1-1 1 0 1 0 1 0 1 0 1-1 1 1 1 0 1-1 1-1 1 0 1-1 1-2 1-3 1-12 1-22 1-25 1-11 1 11 1 25 1 22 1 12 1-5 1-17 1-32 1-37 1-18 1 18 1 37 1 33 1 16 1 7 1 2 1 0 1 1 1 0 1 0 1 2 1 0 1 1 1 0 1-2 1 0 1-1 1 1 1-3 1-1 1-1 1-1 1 2 1 2 1 2 1 0 1 1 1-1 1 1 1 0 1-1 1 0 1-2 1-1 1-3 1 1 1 2 1 1 1 1 1 0 1 1 1 1 1-2 1-1 1-1 1 1 1 1 1 2 1 0 1 1 1 0 1 0 1 0 1-1 1 0 1 0 1 1 1-1 1 0 1 0 1 0 1 1 1 0 1 1 1 0 1-1 1 1 1-1 1 0 1 1 1 0 1 0 1 0 1-1 1 1 1 0 1 0 1 0 1 0 1-1 1 1 1 0 1 0 1-1 1 1 1-1 1 1 1 0 1-1 1 1 1-1 1 1 1-1 1 0 1-1 1 0 1-1 1 1 1-2 1 0 1 1 1-1 1 1 1 1 1 0 1 1 1 0 1 1 1-1 1 0 1 0 1 0 1 1 1 0 1 0 1 0 1-1 1 0 1 1 1 0 1 0 1 0 1 0 1-1 1 1 1 0 1 0 1 0 1 0 1 0 1 0 1 0 1 0 1 0 1 0 1 0 1-1 1 1 1 0 1 0 1-1 1 1 1 0 1 0 1 0 1 0 1 0 1 0 1 0 1 0 1 0 1 0 1 0 1 0 1-1 1 1 1 0 1 0 1 0 1-1 1 1 1 0 1 0 1-1 1 0 1 0 1-1 1 0 1 0 1-1 1 0 1 2 1 0 1-1 1 1 1 0 1 0 1 0 1 0 1 0 1 0 1-1 1 0 1-1 1 0 1 0 1 0 1-1 1-1 1-1 1-1 1-1 1-2 1-4 1-12 1-31 1-59 1-69 1-33 1 33 1 68 1 60 1 31 1 12 1 5 1 1 1 1 1 0 1-1 1 1 1 2 1 1 1 1 1 0 1 0 1 1 1 1 1-1 1 0 1 1 1 0 1 0 1 0 1 1 1-1 1 1 1-1 1 0 1 0 1 0 1 0 1 0 1 0 1 1 1 0 1 0 1 0 1-1 1 1 1 0 1-1 1 1 1 0 1 0 1 0 1 0 1 0 1 0 1 0 1 0 1 0 1 0 1 0 1 0 1 0 1-1 1 1 1 0 1 0 1 0 1 0 1 0 1-1 1 1 1 0 1 0 1-1 1 1 1-1 1 1 1 0 1-1 1 0 1 1 1-1 1 1 1-1 1 1 1-1 1 0 1 0 1-1 1 0 1 0 1-1 1 1 1-2 1 2 1-1 1-1 1 0 1 0 1-3 1 0 1 3 1 0 1 0 1 1 1 0 1 0 1 0 1-2 1-1 1 0 1-1 1 0 1 2 1-1 1 0 1 2 1 2 1 0 1 0 1 1 1 0 1 1 1-1 1-1 1 1 1-1 1 0 1-3 1-5 1-4 1-4 1-2 1 1 1 5 1 5 1 4 1 3 1 0 1 1 1 0 1 0 1 0 1 0 1 1 1 0 1 0 1 0 1 0 1 0 1 0 1-1 1 1 1 0 1 0 1 0 1 0 1 0 1-1 1 1 1 0 1 0 1 0 1 0 1 0 1 0 1-1 1 1 1-1 1 0 1 0 1 0 1 0 1-1 1 1 1 0 1-1 1 0 1-1 1-2 1-1 1 1 1-2 1 2 1 0 1 0 1-1 1 1 1 1 1 1 1 0 1 1 1 0 1 1 1 0 1 0 1 0 1 1 1-1 1 0 1 0 1-1 1 0 1-1 1 1 1-2 1 0 1 0 1 0 1 0 1 2 1 0 1-1 1 1 1 1 1 0 1 0 1 0 1 0 1 1 1 0 1-1 1 1 1 0 1 0 1 0 1-1 1 1 1-1 1 1 1 0 1-1 1 0 1 1 1 0 1 0 1-1 1 0 1 0 1 1 1 0 1-1 1 1 1 0 1 0 1 0 1-1 1 0 1 0 1 0 1 1 1-1 1 0 1 1 1-1 1 1 1-1 1 0 1 0 1-1 1 1 1-1 1-1 1-1 1 0 1 0 1-1 1-1 1 1 1 2 1 1 1 0 1-1 1-2 1-1 1 1 1-2 1 1 1 0 1 1 1 2 1 1 1-1 1-1 1-1 1-3 1 1 1 0 1 1 1 1 1 0 1 0 1 2 1 0 1 1 1 0 1 1 1 0 1 0 1 0 1 1 1-1 1 1 1-1 1 1 1-1 1 0 1-1 1-1 1 0 1 0 1-1 1-1 1-2 1 0 1-1 1 0 1 2 1 1 1 2 1 0 1 1 1 0 1 1 1 0 1 1 1-1 1 0 1 0 1 0 1 0 1 0 1 0 1 1 1 0 1 0 1 0 1-1 1 1 1 0 1 0 1 0 1 0 1 0 1 0 1-1 1 1 1 0 1-1 1 0 1 1 1-1 1 0 1-1 1 1 1-1 1 0 1-1 1-1 1 0 1-3 1-2 1 2 1 0 1 2 1 0 1 1 1 1 1 0 1 1 1 1 1 0 1-1 1 0 1 0 1 0 1-1 1 1 1 0 1 1 1-1 1-1 1-2 1 0 1 0 1-1 1 0 1 2 1-2 1-1 1 2 1 1 1 1 1 0 1 1 1 1 1 0 1 0 1 0 1 0 1 1 1-1 1 0 1 0 1-1 1-3 1-1 1-3 1 0 1 0 1 2 1 3 1 2 1 1 1-1 1 0 1-1 1 0 1 0 1-1 1-1 1-2 1-7 1-7 1-7 1-2 1 2 1 7 1 7 1 7 1 3 1 2 1 1 1-1 1 0 1 0 1 1 1 0 1 0 1 1 1 0 1 0 1 0 1-1 1 0 1 1 1-1 1 0 1 0 1 0 1 0 1 0 1-1 1 0 1 0 1 0 1-1 1 1 1 0 1-1 1 0 1-1 1-2 1-5 1-14 1-25 1-30 1-14 1 14 1 30 1 26 1 13 1 2 1-1 1-2 1-3 1-2 1-3 1-3 1-5 1-7 1-14 1-41 1-110 1-206 1-243 1-113 1 114 1 241 1 208 1 109" transform="matrix(0.41857 0 0 1 267.0 0)" vector-effect="non-scaling-stroke" fill="none" stroke="#b68bd8" stroke-width="2.0" stroke-linejoin="round"/>
</g>
<line x1="197.0" y1="1144.3" x2="1794.2" y2="1144.3" stroke="#9a9a9a" stroke-width="2.4"/>
<line x1="197.0" y1="1984.0" x2="1794.2" y2="1984.0" stroke="#9a9a9a" stroke-width="2.4"/>
<line x1="197.0" y1="1143.1" x2="197.0" y2="1985.2" stroke="#666" stroke-width="2.8"/>
<line x1="1794.2" y1="1143.1" x2="1794.2" y2="1985.2" stroke="#666" stroke-width="2.8"/>
<line x1="187.0" y1="1946.6" x2="197.0" y2="1946.6" stroke="#707070" stroke-width="2.4"/>
<text x="181" y="1957.4" text-anchor="end" font-family="'Liberation Serif', 'Times New Roman', serif" font-size="34.3" fill="#2b2b2b" stroke="#2b2b2b" stroke-width="0.55">0.0</text>
<line x1="187.0" y1="1815.6" x2="197.0" y2="1815.6" stroke="#707070" stroke-width="2.4"/>
<text x="181" y="1826.4" text-anchor="end" font-family="'Liberation Serif', 'Times New Roman', serif" font-size="34.3" fill="#2b2b2b" stroke="#2b2b2b" stroke-width="0.55">0.5</text>
<line x1="187.0" y1="1684.7" x2="197.0" y2="1684.7" stroke="#707070" stroke-width="2.4"/>
<text x="181" y="1695.5" text-anchor="end" font-family="'Liberation Serif', 'Times New Roman', serif" font-size="34.3" fill="#2b2b2b" stroke="#2b2b2b" stroke-width="0.55">1.0</text>
<line x1="187.0" y1="1553.8" x2="197.0" y2="1553.8" stroke="#707070" stroke-width="2.4"/>
<text x="181" y="1564.5" text-anchor="end" font-family="'Liberation Serif', 'Times New Roman', serif" font-size="34.3" fill="#2b2b2b" stroke="#2b2b2b" stroke-width="0.55">1.5</text>
<line x1="187.0" y1="1422.8" x2="197.0" y2="1422.8" stroke="#707070" stroke-width="2.4"/>
<text x="181" y="1433.6" text-anchor="end" font-family="'Liberation Serif', 'Times New Roman', serif" font-size="34.3" fill="#2b2b2b" stroke="#2b2b2b" stroke-width="0.55">2.0</text>
<line x1="187.0" y1="1291.8" x2="197.0" y2="1291.8" stroke="#707070" stroke-width="2.4"/>
<text x="181" y="1302.6" text-anchor="end" font-family="'Liberation Serif', 'Times New Roman', serif" font-size="34.3" fill="#2b2b2b" stroke="#2b2b2b" stroke-width="0.55">2.5</text>
<line x1="187.0" y1="1160.9" x2="197.0" y2="1160.9" stroke="#707070" stroke-width="2.4"/>
<text x="181" y="1171.7" text-anchor="end" font-family="'Liberation Serif', 'Times New Roman', serif" font-size="34.3" fill="#2b2b2b" stroke="#2b2b2b" stroke-width="0.55">3.0</text>
<line x1="267.0" y1="1984.0" x2="267.0" y2="1989.5" stroke="#666" stroke-width="2.8"/>
<text transform="translate(267.0 2019) scale(1.05 1)" text-anchor="middle" font-family="'Liberation Serif', 'Times New Roman', serif" font-size="33.3" fill="#2b2b2b" stroke="#2b2b2b" stroke-width="0.55">0</text>
<line x1="476.3" y1="1984.0" x2="476.3" y2="1989.5" stroke="#666" stroke-width="2.8"/>
<text transform="translate(476.3 2019) scale(1.05 1)" text-anchor="middle" font-family="'Liberation Serif', 'Times New Roman', serif" font-size="33.3" fill="#2b2b2b" stroke="#2b2b2b" stroke-width="0.55">500</text>
<line x1="685.6" y1="1984.0" x2="685.6" y2="1989.5" stroke="#666" stroke-width="2.8"/>
<text transform="translate(652.1 2019.0) scale(0.630 1)" text-anchor="middle" font-family="'Liberation Serif', 'Times New Roman', serif" font-size="33.3" fill="#2b2b2b" stroke="#2b2b2b" stroke-width="0.55">1</text>
<text transform="translate(669.2 2019) scale(1.05 1)" font-family="'Liberation Serif', 'Times New Roman', serif" font-size="33.3" fill="#2b2b2b" stroke="#2b2b2b" stroke-width="0.55">000</text>
<line x1="894.9" y1="1984.0" x2="894.9" y2="1989.5" stroke="#666" stroke-width="2.8"/>
<text transform="translate(861.4 2019.0) scale(0.630 1)" text-anchor="middle" font-family="'Liberation Serif', 'Times New Roman', serif" font-size="33.3" fill="#2b2b2b" stroke="#2b2b2b" stroke-width="0.55">1</text>
<text transform="translate(878.5 2019) scale(1.05 1)" font-family="'Liberation Serif', 'Times New Roman', serif" font-size="33.3" fill="#2b2b2b" stroke="#2b2b2b" stroke-width="0.55">500</text>
<line x1="1104.1" y1="1984.0" x2="1104.1" y2="1989.5" stroke="#666" stroke-width="2.8"/>
<text transform="translate(1070.6 2019.0) scale(1.050 1)" text-anchor="middle" font-family="'Liberation Serif', 'Times New Roman', serif" font-size="33.3" fill="#2b2b2b" stroke="#2b2b2b" stroke-width="0.55">2</text>
<text transform="translate(1087.7 2019) scale(1.05 1)" font-family="'Liberation Serif', 'Times New Roman', serif" font-size="33.3" fill="#2b2b2b" stroke="#2b2b2b" stroke-width="0.55">000</text>
<line x1="1313.4" y1="1984.0" x2="1313.4" y2="1989.5" stroke="#666" stroke-width="2.8"/>
<text transform="translate(1279.9 2019.0) scale(1.050 1)" text-anchor="middle" font-family="'Liberation Serif', 'Times New Roman', serif" font-size="33.3" fill="#2b2b2b" stroke="#2b2b2b" stroke-width="0.55">2</text>
<text transform="translate(1297.0 2019) scale(1.05 1)" font-family="'Liberation Serif', 'Times New Roman', serif" font-size="33.3" fill="#2b2b2b" stroke="#2b2b2b" stroke-width="0.55">500</text>
<line x1="1522.7" y1="1984.0" x2="1522.7" y2="1989.5" stroke="#666" stroke-width="2.8"/>
<text transform="translate(1489.2 2019.0) scale(1.050 1)" text-anchor="middle" font-family="'Liberation Serif', 'Times New Roman', serif" font-size="33.3" fill="#2b2b2b" stroke="#2b2b2b" stroke-width="0.55">3</text>
<text transform="translate(1506.3 2019) scale(1.05 1)" font-family="'Liberation Serif', 'Times New Roman', serif" font-size="33.3" fill="#2b2b2b" stroke="#2b2b2b" stroke-width="0.55">000</text>
<line x1="1732.0" y1="1984.0" x2="1732.0" y2="1989.5" stroke="#666" stroke-width="2.8"/>
<text transform="translate(1698.5 2019.0) scale(1.050 1)" text-anchor="middle" font-family="'Liberation Serif', 'Times New Roman', serif" font-size="33.3" fill="#2b2b2b" stroke="#2b2b2b" stroke-width="0.55">3</text>
<text transform="translate(1715.6 2019) scale(1.05 1)" font-family="'Liberation Serif', 'Times New Roman', serif" font-size="33.3" fill="#2b2b2b" stroke="#2b2b2b" stroke-width="0.55">500</text>
<text x="672.5" y="1134.8" font-family="'Liberation Sans', Arial, sans-serif" font-size="19" fill="#1e1e1e" stroke="#1e1e1e" stroke-width="0.45" textLength="643.5" lengthAdjust="spacingAndGlyphs">Normalized fluctuations for all modes</text>
<text x="812.6" y="2054" font-family="'Liberation Sans', Arial, sans-serif" font-size="27" fill="#222" stroke="#222" stroke-width="0.3" textLength="397" lengthAdjust="spacingAndGlyphs">Alignment index (in all chains)</text>
<text transform="translate(85.6 1765) rotate(-90)" x="0" y="0" font-family="'Liberation Sans', Arial, sans-serif" font-size="32" fill="#222" stroke="#222" stroke-width="0.3" textLength="427" lengthAdjust="spacingAndGlyphs">Fluctuation (number/200 modes)</text>
<rect x="211.8" y="1151.8" width="544.7" height="121.60000000000014" rx="5" ry="5" fill="#fff" stroke="#dedede" stroke-width="2.2"/>
<line x1="222" y1="1164.2" x2="281" y2="1164.2" stroke="#9ecae6" stroke-width="3"/>
<text x="304.5" y="1170.5" font-family="'Liberation Sans', Arial, sans-serif" font-size="17.6" fill="#1a1a1a" stroke="#1a1a1a" stroke-width="0.5" textLength="428" lengthAdjust="spacingAndGlyphs">ADINTREVIMAB_G339D_B</text>
<line x1="222" y1="1187.5" x2="281" y2="1187.5" stroke="#ffd0a6" stroke-width="3"/>
<text x="304.5" y="1193.8" font-family="'Liberation Sans', Arial, sans-serif" font-size="17.6" fill="#1a1a1a" stroke="#1a1a1a" stroke-width="0.5" textLength="398" lengthAdjust="spacingAndGlyphs">BELUDAVIMAB_S371L_B</text>
<line x1="222" y1="1210.9" x2="281" y2="1210.9" stroke="#a9dfbb" stroke-width="3"/>
<text x="304.5" y="1217.2" font-family="'Liberation Sans', Arial, sans-serif" font-size="17.6" fill="#1a1a1a" stroke="#1a1a1a" stroke-width="0.5" textLength="374" lengthAdjust="spacingAndGlyphs">CILGAVIMAB_G142D_B</text>
<line x1="222" y1="1234.2" x2="281" y2="1234.2" stroke="#ffadb4" stroke-width="3"/>
<text x="304.5" y="1240.5" font-family="'Liberation Sans', Arial, sans-serif" font-size="17.6" fill="#1a1a1a" stroke="#1a1a1a" stroke-width="0.5" textLength="431" lengthAdjust="spacingAndGlyphs">REGDANIVIMAB_N440K_B</text>
<line x1="222" y1="1257.5" x2="281" y2="1257.5" stroke="#d9c2e8" stroke-width="3"/>
<text x="304.5" y="1263.8" font-family="'Liberation Sans', Arial, sans-serif" font-size="17.6" fill="#1a1a1a" stroke="#1a1a1a" stroke-width="0.5" textLength="443" lengthAdjust="spacingAndGlyphs">ROMLUSEVIMAB_D614G_B</text>
</svg>
</body></html>
